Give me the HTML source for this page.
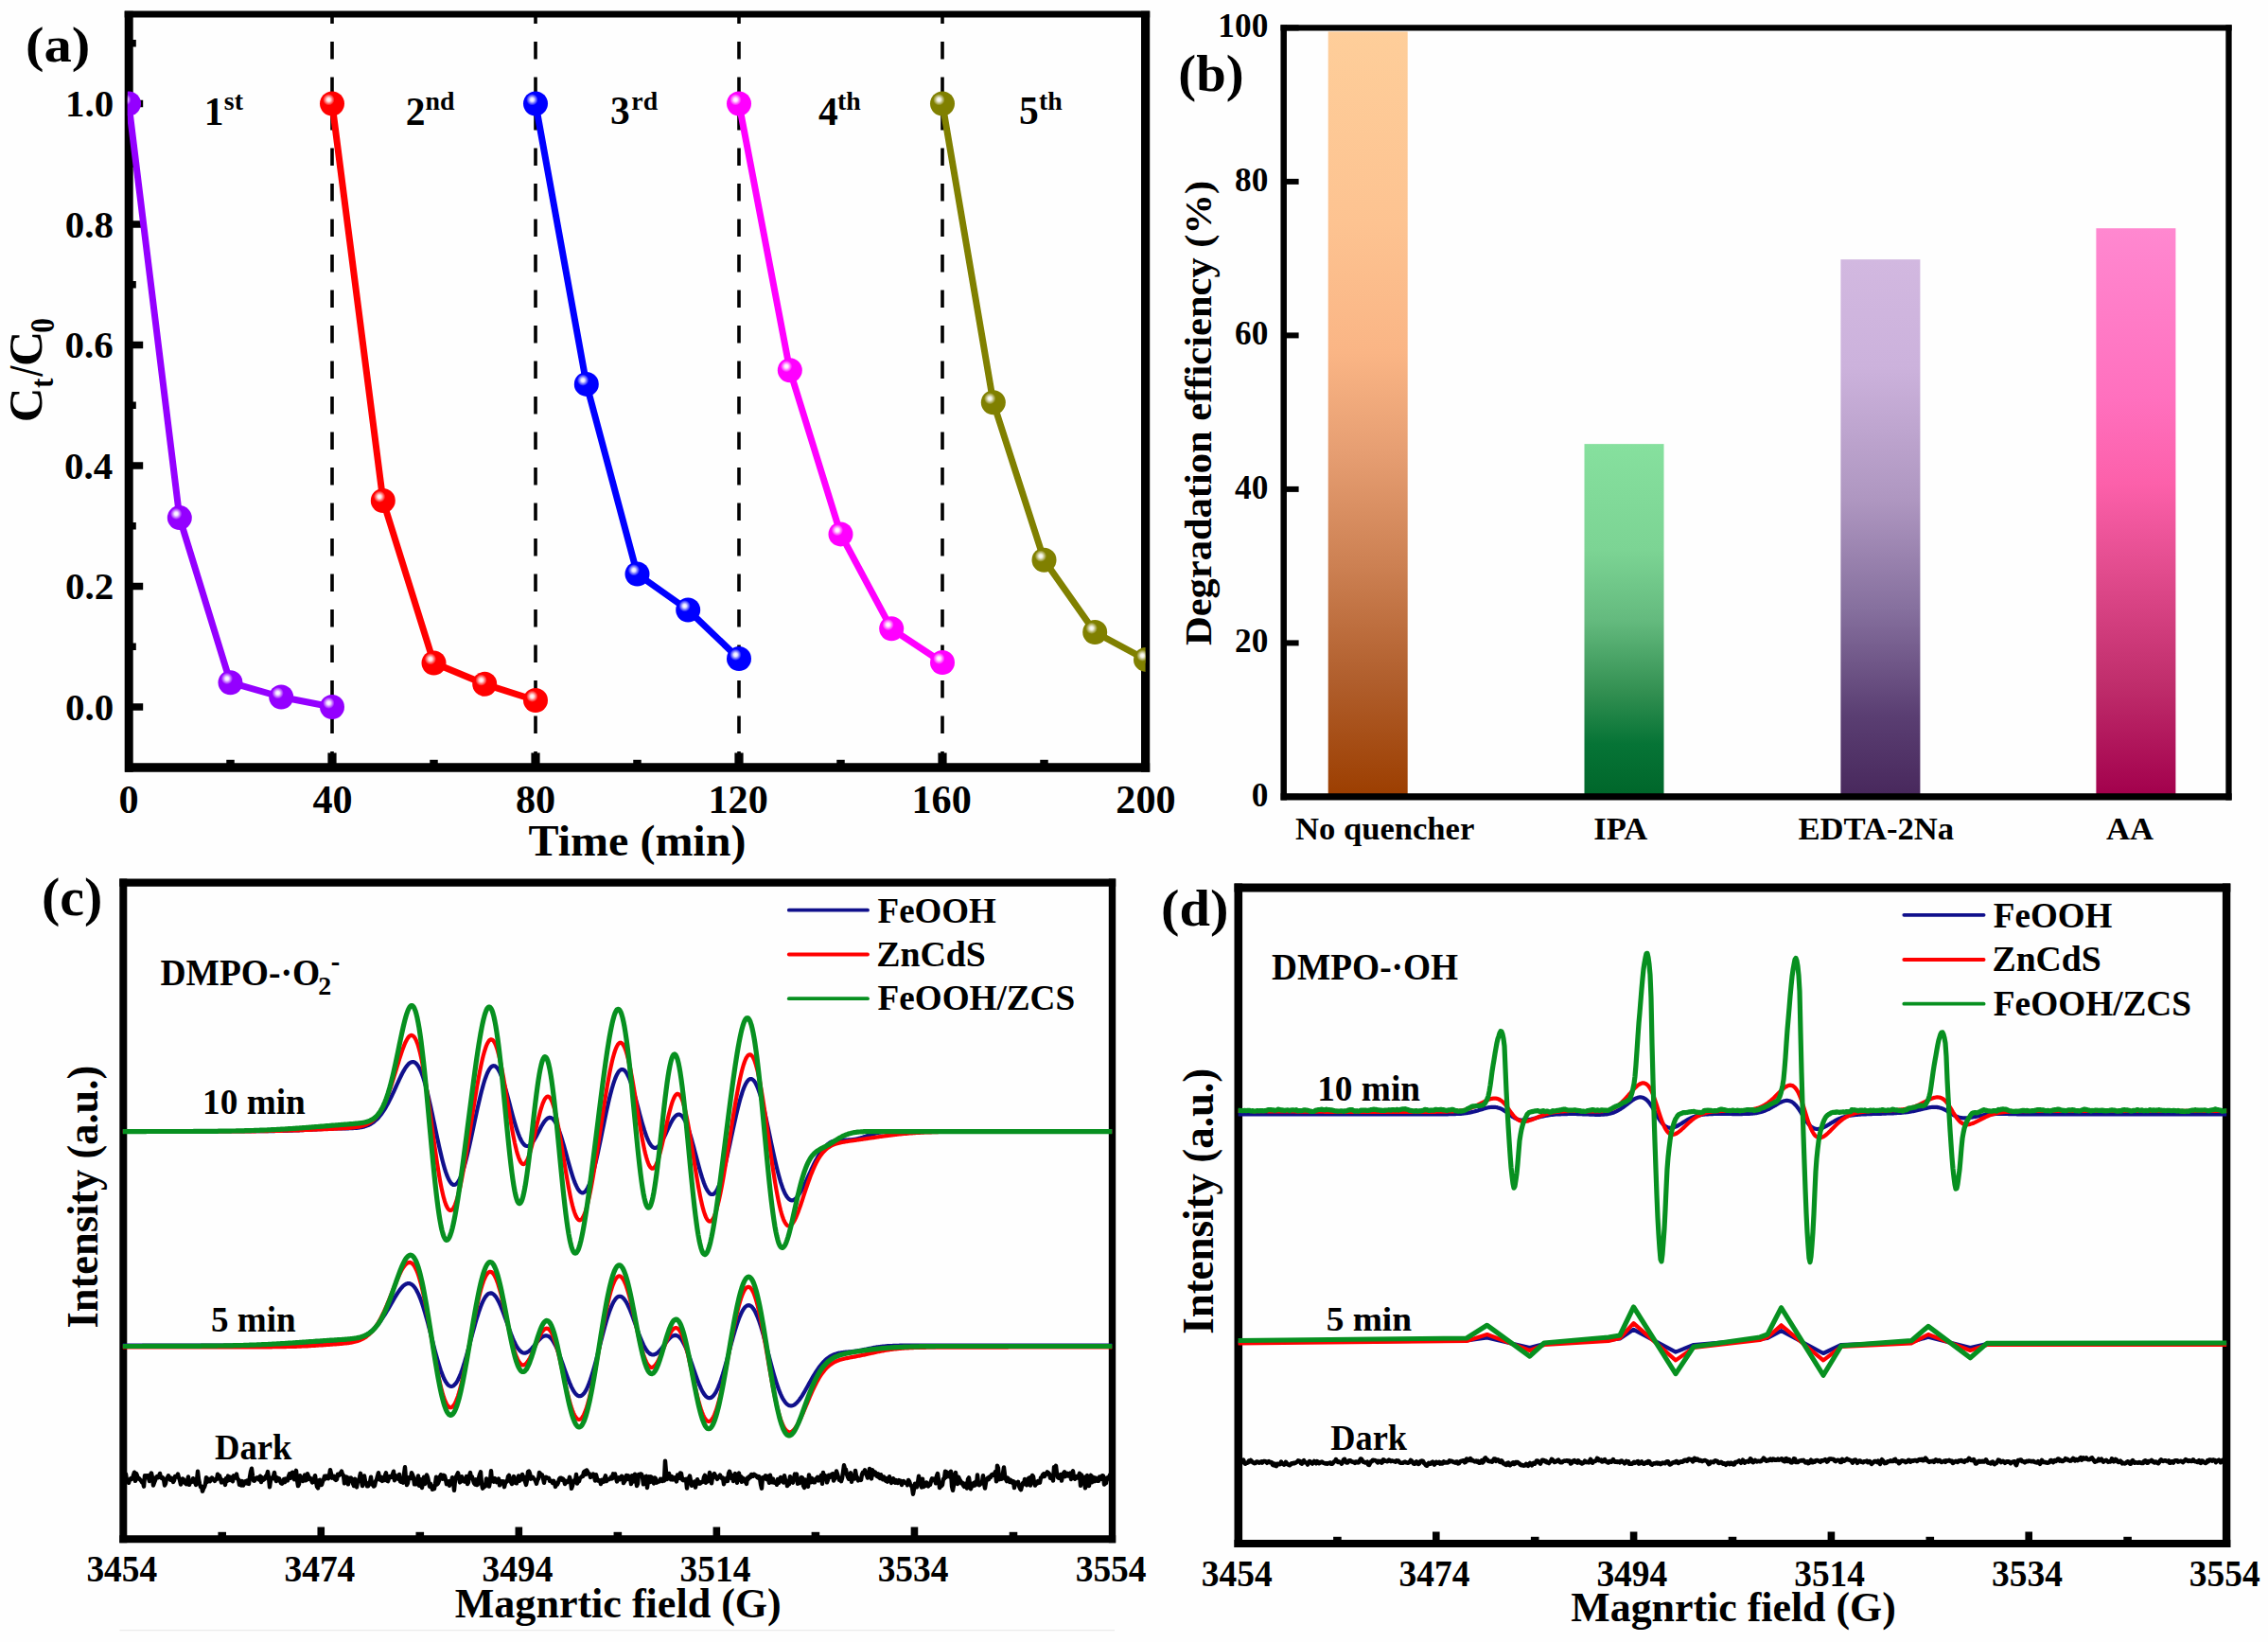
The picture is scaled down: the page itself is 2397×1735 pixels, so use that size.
<!DOCTYPE html>
<html><head><meta charset="utf-8"><title>Figure</title>
<style>html,body{margin:0;padding:0;background:#fff;} svg{display:block;} text{font-family:'Liberation Serif','Times New Roman',serif;font-weight:bold;fill:#000;}</style>
</head><body>
<svg width="2397" height="1735" viewBox="0 0 2397 1735">
<rect x="0" y="0" width="2397" height="1735" fill="#fefefe"/>
<line x1="351.00" y1="17.50" x2="351.00" y2="806.50" stroke="#000" stroke-width="3.6" stroke-dasharray="18.5 19" stroke-dashoffset="10.9"/>
<line x1="566.00" y1="17.50" x2="566.00" y2="806.50" stroke="#000" stroke-width="3.6" stroke-dasharray="18.5 19" stroke-dashoffset="10.9"/>
<line x1="781.00" y1="17.50" x2="781.00" y2="806.50" stroke="#000" stroke-width="3.6" stroke-dasharray="18.5 19" stroke-dashoffset="10.9"/>
<line x1="996.00" y1="17.50" x2="996.00" y2="806.50" stroke="#000" stroke-width="3.6" stroke-dasharray="18.5 19" stroke-dashoffset="10.9"/>
<line x1="136.20" y1="11.80" x2="136.20" y2="815.80" stroke="#000" stroke-width="9.0" />
<line x1="1210.60" y1="11.80" x2="1210.60" y2="815.80" stroke="#000" stroke-width="9.2" />
<line x1="131.70" y1="15.00" x2="1215.20" y2="15.00" stroke="#000" stroke-width="6.8" />
<line x1="132.10" y1="811.00" x2="1215.20" y2="811.00" stroke="#000" stroke-width="9.6" />
<line x1="140.00" y1="747.00" x2="151.20" y2="747.00" stroke="#000" stroke-width="7.5" />
<line x1="140.00" y1="683.25" x2="143.80" y2="683.25" stroke="#000" stroke-width="7.5" />
<line x1="140.00" y1="619.50" x2="151.20" y2="619.50" stroke="#000" stroke-width="7.5" />
<line x1="140.00" y1="555.75" x2="143.80" y2="555.75" stroke="#000" stroke-width="7.5" />
<line x1="140.00" y1="492.00" x2="151.20" y2="492.00" stroke="#000" stroke-width="7.5" />
<line x1="140.00" y1="428.25" x2="143.80" y2="428.25" stroke="#000" stroke-width="7.5" />
<line x1="140.00" y1="364.50" x2="151.20" y2="364.50" stroke="#000" stroke-width="7.5" />
<line x1="140.00" y1="300.75" x2="143.80" y2="300.75" stroke="#000" stroke-width="7.5" />
<line x1="140.00" y1="237.00" x2="151.20" y2="237.00" stroke="#000" stroke-width="7.5" />
<line x1="140.00" y1="173.25" x2="143.80" y2="173.25" stroke="#000" stroke-width="7.5" />
<line x1="140.00" y1="109.50" x2="151.20" y2="109.50" stroke="#000" stroke-width="7.5" />
<line x1="140.00" y1="45.75" x2="143.80" y2="45.75" stroke="#000" stroke-width="7.5" />
<line x1="243.50" y1="807.00" x2="243.50" y2="802.80" stroke="#000" stroke-width="8.5" />
<line x1="351.00" y1="807.00" x2="351.00" y2="795.50" stroke="#000" stroke-width="9.2" />
<line x1="458.50" y1="807.00" x2="458.50" y2="802.80" stroke="#000" stroke-width="8.5" />
<line x1="566.00" y1="807.00" x2="566.00" y2="795.50" stroke="#000" stroke-width="9.2" />
<line x1="673.50" y1="807.00" x2="673.50" y2="802.80" stroke="#000" stroke-width="8.5" />
<line x1="781.00" y1="807.00" x2="781.00" y2="795.50" stroke="#000" stroke-width="9.2" />
<line x1="888.50" y1="807.00" x2="888.50" y2="802.80" stroke="#000" stroke-width="8.5" />
<line x1="996.00" y1="807.00" x2="996.00" y2="795.50" stroke="#000" stroke-width="9.2" />
<line x1="1103.50" y1="807.00" x2="1103.50" y2="802.80" stroke="#000" stroke-width="8.5" />
<defs><clipPath id="clipa"><rect x="134.8" y="15" width="1075.8" height="796"/></clipPath><radialGradient id="hl" cx="0.5" cy="0.5" r="0.5"><stop offset="0" stop-color="#fff" stop-opacity="1"/><stop offset="0.3" stop-color="#fff" stop-opacity="0.9"/><stop offset="0.65" stop-color="#fff" stop-opacity="0.45"/><stop offset="1" stop-color="#fff" stop-opacity="0"/></radialGradient></defs>
<g clip-path="url(#clipa)">
<polyline points="136.0,109.5 189.8,547.1 243.5,721.2 297.2,736.5 351.0,747.0" fill="none" stroke="#9400FF" stroke-width="7.0" stroke-linejoin="round" stroke-linecap="round" />
<circle cx="136.0" cy="109.5" r="13.0" fill="#9400FF"/>
<circle cx="132.4" cy="105.3" r="6.2" fill="url(#hl)"/>
<circle cx="189.8" cy="547.1" r="13.0" fill="#9400FF"/>
<circle cx="186.2" cy="542.9" r="6.2" fill="url(#hl)"/>
<circle cx="243.5" cy="721.2" r="13.0" fill="#9400FF"/>
<circle cx="239.9" cy="717.0" r="6.2" fill="url(#hl)"/>
<circle cx="297.2" cy="736.5" r="13.0" fill="#9400FF"/>
<circle cx="293.6" cy="732.3" r="6.2" fill="url(#hl)"/>
<circle cx="351.0" cy="747.0" r="13.0" fill="#9400FF"/>
<circle cx="347.4" cy="742.8" r="6.2" fill="url(#hl)"/>
<polyline points="351.0,109.5 404.8,529.0 458.5,700.5 512.2,722.8 566.0,740.0" fill="none" stroke="#FF0000" stroke-width="7.0" stroke-linejoin="round" stroke-linecap="round" />
<circle cx="351.0" cy="109.5" r="13.0" fill="#FF0000"/>
<circle cx="347.4" cy="105.3" r="6.2" fill="url(#hl)"/>
<circle cx="404.8" cy="529.0" r="13.0" fill="#FF0000"/>
<circle cx="401.1" cy="524.8" r="6.2" fill="url(#hl)"/>
<circle cx="458.5" cy="700.5" r="13.0" fill="#FF0000"/>
<circle cx="454.9" cy="696.3" r="6.2" fill="url(#hl)"/>
<circle cx="512.2" cy="722.8" r="13.0" fill="#FF0000"/>
<circle cx="508.6" cy="718.6" r="6.2" fill="url(#hl)"/>
<circle cx="566.0" cy="740.0" r="13.0" fill="#FF0000"/>
<circle cx="562.4" cy="735.8" r="6.2" fill="url(#hl)"/>
<polyline points="566.0,109.5 619.8,405.9 673.5,606.5 727.2,644.5 781.0,696.0" fill="none" stroke="#0000FF" stroke-width="7.0" stroke-linejoin="round" stroke-linecap="round" />
<circle cx="566.0" cy="109.5" r="13.0" fill="#0000FF"/>
<circle cx="562.4" cy="105.3" r="6.2" fill="url(#hl)"/>
<circle cx="619.8" cy="405.9" r="13.0" fill="#0000FF"/>
<circle cx="616.1" cy="401.7" r="6.2" fill="url(#hl)"/>
<circle cx="673.5" cy="606.5" r="13.0" fill="#0000FF"/>
<circle cx="669.9" cy="602.3" r="6.2" fill="url(#hl)"/>
<circle cx="727.2" cy="644.5" r="13.0" fill="#0000FF"/>
<circle cx="723.6" cy="640.3" r="6.2" fill="url(#hl)"/>
<circle cx="781.0" cy="696.0" r="13.0" fill="#0000FF"/>
<circle cx="777.4" cy="691.8" r="6.2" fill="url(#hl)"/>
<polyline points="781.0,109.5 834.8,391.3 888.5,564.4 942.2,664.3 996.0,700.0" fill="none" stroke="#FF00FF" stroke-width="7.0" stroke-linejoin="round" stroke-linecap="round" />
<circle cx="781.0" cy="109.5" r="13.0" fill="#FF00FF"/>
<circle cx="777.4" cy="105.3" r="6.2" fill="url(#hl)"/>
<circle cx="834.8" cy="391.3" r="13.0" fill="#FF00FF"/>
<circle cx="831.1" cy="387.1" r="6.2" fill="url(#hl)"/>
<circle cx="888.5" cy="564.4" r="13.0" fill="#FF00FF"/>
<circle cx="884.9" cy="560.2" r="6.2" fill="url(#hl)"/>
<circle cx="942.2" cy="664.3" r="13.0" fill="#FF00FF"/>
<circle cx="938.6" cy="660.1" r="6.2" fill="url(#hl)"/>
<circle cx="996.0" cy="700.0" r="13.0" fill="#FF00FF"/>
<circle cx="992.4" cy="695.8" r="6.2" fill="url(#hl)"/>
<polyline points="996.0,109.5 1049.8,425.3 1103.5,591.8 1157.2,668.0 1211.0,696.9" fill="none" stroke="#808000" stroke-width="7.0" stroke-linejoin="round" stroke-linecap="round" />
<circle cx="996.0" cy="109.5" r="13.0" fill="#808000"/>
<circle cx="992.4" cy="105.3" r="6.2" fill="url(#hl)"/>
<circle cx="1049.8" cy="425.3" r="13.0" fill="#808000"/>
<circle cx="1046.2" cy="421.1" r="6.2" fill="url(#hl)"/>
<circle cx="1103.5" cy="591.8" r="13.0" fill="#808000"/>
<circle cx="1099.9" cy="587.6" r="6.2" fill="url(#hl)"/>
<circle cx="1157.2" cy="668.0" r="13.0" fill="#808000"/>
<circle cx="1153.7" cy="663.8" r="6.2" fill="url(#hl)"/>
<circle cx="1211.0" cy="696.9" r="13.0" fill="#808000"/>
<circle cx="1207.4" cy="692.7" r="6.2" fill="url(#hl)"/>
</g>
<text x="68.89" y="760.62" font-size="41.00" textLength="51.25" lengthAdjust="spacingAndGlyphs" >0.0</text>
<text x="69.09" y="633.12" font-size="41.00" textLength="51.25" lengthAdjust="spacingAndGlyphs" >0.2</text>
<text x="68.07" y="505.62" font-size="41.00" textLength="51.25" lengthAdjust="spacingAndGlyphs" >0.4</text>
<text x="68.48" y="378.12" font-size="41.00" textLength="51.25" lengthAdjust="spacingAndGlyphs" >0.6</text>
<text x="68.68" y="250.62" font-size="41.00" textLength="51.25" lengthAdjust="spacingAndGlyphs" >0.8</text>
<text x="68.89" y="123.13" font-size="41.00" textLength="51.25" lengthAdjust="spacingAndGlyphs" >1.0</text>
<text x="125.45" y="859.26" font-size="42.20" textLength="21.10" lengthAdjust="spacingAndGlyphs" >0</text>
<text x="330.43" y="859.26" font-size="42.20" textLength="42.20" lengthAdjust="spacingAndGlyphs" >40</text>
<text x="545.01" y="859.26" font-size="42.20" textLength="42.20" lengthAdjust="spacingAndGlyphs" >80</text>
<text x="748.51" y="859.26" font-size="42.20" textLength="63.30" lengthAdjust="spacingAndGlyphs" >120</text>
<text x="963.51" y="859.26" font-size="42.20" textLength="63.30" lengthAdjust="spacingAndGlyphs" >160</text>
<text x="1179.35" y="859.26" font-size="42.20" textLength="63.30" lengthAdjust="spacingAndGlyphs" >200</text>
<text x="558.58" y="903.54" font-size="47.25" textLength="229.83" lengthAdjust="spacingAndGlyphs" >Time (min)</text>
<text x="26.96" y="64.66" font-size="52.75" textLength="68.45" lengthAdjust="spacingAndGlyphs" >(a)</text>
<text transform="translate(43.89 446.14) rotate(-90)" x="0" y="0" font-size="50.75" textLength="36.66" lengthAdjust="spacingAndGlyphs">C</text>
<text transform="translate(56.16 410.07) rotate(-90)" x="0" y="0" font-size="34.43" textLength="10.47" lengthAdjust="spacingAndGlyphs">t</text>
<text transform="translate(43.90 397.61) rotate(-90)" x="0" y="0" font-size="49.85" textLength="10.83" lengthAdjust="spacingAndGlyphs">/</text>
<text transform="translate(43.89 386.98) rotate(-90)" x="0" y="0" font-size="50.75" textLength="37.26" lengthAdjust="spacingAndGlyphs">C</text>
<text transform="translate(57.15 351.65) rotate(-90)" x="0" y="0" font-size="34.81" textLength="15.60" lengthAdjust="spacingAndGlyphs">0</text>
<text x="215.68" y="131.60" font-size="41.50" textLength="20.75" lengthAdjust="spacingAndGlyphs" >1</text>
<text x="236.87" y="115.62" font-size="27.80" textLength="20.08" lengthAdjust="spacingAndGlyphs" >st</text>
<text x="428.74" y="131.60" font-size="41.50" textLength="20.75" lengthAdjust="spacingAndGlyphs" >2</text>
<text x="449.61" y="115.62" font-size="27.80" textLength="30.92" lengthAdjust="spacingAndGlyphs" >nd</text>
<text x="645.04" y="131.19" font-size="41.50" textLength="20.75" lengthAdjust="spacingAndGlyphs" >3</text>
<text x="667.30" y="115.62" font-size="27.80" textLength="27.80" lengthAdjust="spacingAndGlyphs" >rd</text>
<text x="865.08" y="131.60" font-size="41.50" textLength="20.75" lengthAdjust="spacingAndGlyphs" >4</text>
<text x="885.08" y="115.62" font-size="27.80" textLength="24.72" lengthAdjust="spacingAndGlyphs" >th</text>
<text x="1077.04" y="131.19" font-size="41.50" textLength="20.75" lengthAdjust="spacingAndGlyphs" >5</text>
<text x="1098.08" y="115.62" font-size="27.80" textLength="24.72" lengthAdjust="spacingAndGlyphs" >th</text>
<defs><linearGradient id="bg0" x1="0" y1="0" x2="0" y2="1"><stop offset="0" stop-color="#FECE9A"/><stop offset="0.25" stop-color="#FDC391"/><stop offset="0.42" stop-color="#FAB585"/><stop offset="0.55" stop-color="#E69E72"/><stop offset="0.7" stop-color="#CC8052"/><stop offset="0.85" stop-color="#B05E2C"/><stop offset="1" stop-color="#9C3E00"/></linearGradient><linearGradient id="bg1" x1="0" y1="0" x2="0" y2="1"><stop offset="0" stop-color="#86E09E"/><stop offset="0.3" stop-color="#7CD494"/><stop offset="0.5" stop-color="#64BA7E"/><stop offset="0.7" stop-color="#339052"/><stop offset="0.85" stop-color="#067436"/><stop offset="1" stop-color="#00662A"/></linearGradient><linearGradient id="bg2" x1="0" y1="0" x2="0" y2="1"><stop offset="0" stop-color="#D2B8E0"/><stop offset="0.2" stop-color="#CCB2DC"/><stop offset="0.45" stop-color="#AE96C0"/><stop offset="0.65" stop-color="#86709E"/><stop offset="0.85" stop-color="#5A3E72"/><stop offset="1" stop-color="#48285C"/></linearGradient><linearGradient id="bg3" x1="0" y1="0" x2="0" y2="1"><stop offset="0" stop-color="#FF88D0"/><stop offset="0.3" stop-color="#FF70BE"/><stop offset="0.45" stop-color="#FC60AA"/><stop offset="0.6" stop-color="#E24C8E"/><stop offset="0.8" stop-color="#C02E6C"/><stop offset="1" stop-color="#A2004C"/></linearGradient></defs>
<rect x="1403.70" y="33.46" width="84.00" height="808.44" fill="url(#bg0)"/>
<text x="1368.97" y="887.00" font-size="34.60" textLength="189.34" lengthAdjust="spacingAndGlyphs" >No quencher</text>
<rect x="1674.50" y="469.12" width="84.00" height="372.78" fill="url(#bg1)"/>
<text x="1684.22" y="887.00" font-size="34.60" textLength="57.02" lengthAdjust="spacingAndGlyphs" >IPA</text>
<rect x="1945.40" y="274.12" width="84.00" height="567.77" fill="url(#bg2)"/>
<text x="1900.40" y="887.00" font-size="34.60" textLength="164.68" lengthAdjust="spacingAndGlyphs" >EDTA-2Na</text>
<rect x="2215.40" y="241.22" width="84.00" height="600.68" fill="url(#bg3)"/>
<text x="2226.00" y="887.00" font-size="34.60" textLength="49.98" lengthAdjust="spacingAndGlyphs" >AA</text>
<line x1="1356.70" y1="26.20" x2="1356.70" y2="845.60" stroke="#000" stroke-width="6.5" />
<line x1="2355.50" y1="26.20" x2="2355.50" y2="845.60" stroke="#000" stroke-width="6.3" />
<line x1="1353.50" y1="29.40" x2="2358.60" y2="29.40" stroke="#000" stroke-width="6.4" />
<line x1="1353.60" y1="841.90" x2="2358.60" y2="841.90" stroke="#000" stroke-width="7.2" />
<line x1="1359.00" y1="841.90" x2="1372.60" y2="841.90" stroke="#000" stroke-width="6.0" />
<text x="1322.66" y="851.96" font-size="35.30" textLength="17.65" lengthAdjust="spacingAndGlyphs" >0</text>
<line x1="1359.00" y1="679.40" x2="1372.60" y2="679.40" stroke="#000" stroke-width="6.0" />
<text x="1305.01" y="689.46" font-size="35.30" textLength="35.30" lengthAdjust="spacingAndGlyphs" >20</text>
<line x1="1359.00" y1="516.90" x2="1372.60" y2="516.90" stroke="#000" stroke-width="6.0" />
<text x="1305.01" y="526.96" font-size="35.30" textLength="35.30" lengthAdjust="spacingAndGlyphs" >40</text>
<line x1="1359.00" y1="354.40" x2="1372.60" y2="354.40" stroke="#000" stroke-width="6.0" />
<text x="1305.01" y="364.46" font-size="35.30" textLength="35.30" lengthAdjust="spacingAndGlyphs" >60</text>
<line x1="1359.00" y1="191.90" x2="1372.60" y2="191.90" stroke="#000" stroke-width="6.0" />
<text x="1305.01" y="201.96" font-size="35.30" textLength="35.30" lengthAdjust="spacingAndGlyphs" >80</text>
<line x1="1359.00" y1="29.40" x2="1372.60" y2="29.40" stroke="#000" stroke-width="6.0" />
<text x="1287.36" y="39.46" font-size="35.30" textLength="52.95" lengthAdjust="spacingAndGlyphs" >100</text>
<text transform="translate(1279.84 682.05) rotate(-90)" x="0" y="0" font-size="39.35" textLength="491.25" lengthAdjust="spacingAndGlyphs">Degradation efficiency (%)</text>
<text x="1245.25" y="96.42" font-size="53.85" textLength="69.35" lengthAdjust="spacingAndGlyphs" >(b)</text>
<defs><clipPath id="clipc"><rect x="129.8" y="933" width="1045.5" height="693"/></clipPath><clipPath id="clipd"><rect x="1308.6" y="938" width="1044.6" height="693"/></clipPath></defs>
<line x1="130.30" y1="928.60" x2="130.30" y2="1630.20" stroke="#000" stroke-width="8.0" />
<line x1="1175.50" y1="928.60" x2="1175.50" y2="1630.20" stroke="#000" stroke-width="7.4" />
<line x1="126.30" y1="932.70" x2="1179.20" y2="932.70" stroke="#000" stroke-width="8.2" />
<line x1="126.30" y1="1626.20" x2="1179.20" y2="1626.20" stroke="#000" stroke-width="8.0" />
<g clip-path="url(#clipc)">
<polyline points="129.0,1195.2 130.0,1195.2 131.0,1195.2 132.0,1195.2 133.0,1195.2 134.0,1195.2 135.0,1195.2 136.0,1195.2 137.0,1195.2 138.0,1195.2 139.0,1195.2 140.0,1195.2 141.0,1195.2 142.0,1195.2 143.0,1195.2 144.0,1195.2 145.0,1195.2 146.0,1195.2 147.0,1195.2 148.0,1195.2 149.0,1195.2 150.0,1195.2 151.0,1195.2 152.0,1195.2 153.0,1195.2 154.0,1195.2 155.0,1195.2 156.0,1195.2 157.0,1195.2 158.0,1195.2 159.0,1195.2 160.0,1195.2 161.0,1195.2 162.0,1195.2 163.0,1195.2 164.0,1195.2 165.0,1195.2 166.0,1195.2 167.0,1195.2 168.0,1195.2 169.0,1195.2 170.0,1195.2 171.0,1195.2 172.0,1195.2 173.0,1195.2 174.0,1195.2 175.0,1195.2 176.0,1195.2 177.0,1195.2 178.0,1195.2 179.0,1195.2 180.0,1195.2 181.0,1195.2 182.0,1195.2 183.0,1195.2 184.0,1195.2 185.0,1195.2 186.0,1195.2 187.0,1195.2 188.0,1195.2 189.0,1195.2 190.0,1195.2 191.0,1195.2 192.0,1195.2 193.0,1195.2 194.0,1195.2 195.0,1195.2 196.0,1195.2 197.0,1195.2 198.0,1195.2 199.0,1195.2 200.0,1195.2 201.0,1195.2 202.0,1195.2 203.0,1195.2 204.0,1195.2 205.0,1195.2 206.0,1195.2 207.0,1195.2 208.0,1195.2 209.0,1195.2 210.0,1195.2 211.0,1195.2 212.0,1195.2 213.0,1195.2 214.0,1195.2 215.0,1195.2 216.0,1195.2 217.0,1195.2 218.0,1195.2 219.0,1195.2 220.0,1195.2 221.0,1195.2 222.0,1195.2 223.0,1195.2 224.0,1195.2 225.0,1195.2 226.0,1195.2 227.0,1195.2 228.0,1195.2 229.0,1195.2 230.0,1195.2 231.0,1195.2 232.0,1195.2 233.0,1195.2 234.0,1195.2 235.0,1195.2 236.0,1195.2 237.0,1195.2 238.0,1195.2 239.0,1195.2 240.0,1195.2 241.0,1195.2 242.0,1195.2 243.0,1195.2 244.0,1195.2 245.0,1195.2 246.0,1195.2 247.0,1195.2 248.0,1195.2 249.0,1195.2 250.0,1195.2 251.0,1195.2 252.0,1195.2 253.0,1195.2 254.0,1195.2 255.0,1195.2 256.0,1195.2 257.0,1195.2 258.0,1195.2 259.0,1195.2 260.0,1195.2 261.0,1195.2 262.0,1195.2 263.0,1195.2 264.0,1195.2 265.0,1195.2 266.0,1195.2 267.0,1195.2 268.0,1195.2 269.0,1195.2 270.0,1195.2 271.0,1195.2 272.0,1195.2 273.0,1195.2 274.0,1195.2 275.0,1195.2 276.0,1195.2 277.0,1195.2 278.0,1195.2 279.0,1195.2 280.0,1195.2 281.0,1195.1 282.0,1195.1 283.0,1195.1 284.0,1195.1 285.0,1195.1 286.0,1195.1 287.0,1195.1 288.0,1195.1 289.0,1195.1 290.0,1195.1 291.0,1195.0 292.0,1195.0 293.0,1195.0 294.0,1195.0 295.0,1195.0 296.0,1195.0 297.0,1194.9 298.0,1194.9 299.0,1194.9 300.0,1194.9 301.0,1194.8 302.0,1194.8 303.0,1194.8 304.0,1194.8 305.0,1194.7 306.0,1194.7 307.0,1194.7 308.0,1194.6 309.0,1194.6 310.0,1194.5 311.0,1194.5 312.0,1194.5 313.0,1194.4 314.0,1194.4 315.0,1194.3 316.0,1194.3 317.0,1194.2 318.0,1194.2 319.0,1194.1 320.0,1194.1 321.0,1194.0 322.0,1194.0 323.0,1193.9 324.0,1193.9 325.0,1193.8 326.0,1193.8 327.0,1193.7 328.0,1193.7 329.0,1193.6 330.0,1193.6 331.0,1193.5 332.0,1193.4 333.0,1193.4 334.0,1193.3 335.0,1193.3 336.0,1193.2 337.0,1193.2 338.0,1193.1 339.0,1193.1 340.0,1193.0 341.0,1193.0 342.0,1192.9 343.0,1192.9 344.0,1192.8 345.0,1192.8 346.0,1192.7 347.0,1192.7 348.0,1192.7 349.0,1192.6 350.0,1192.6 351.0,1192.6 352.0,1192.5 353.0,1192.5 354.0,1192.5 355.0,1192.5 356.0,1192.5 357.0,1192.4 358.0,1192.4 359.0,1192.4 360.0,1192.4 361.0,1192.4 362.0,1192.4 363.0,1192.3 364.0,1192.3 365.0,1192.3 366.0,1192.3 367.0,1192.3 368.0,1192.3 369.0,1192.2 370.0,1192.2 371.0,1192.2 372.0,1192.1 373.0,1192.1 374.0,1192.0 375.0,1192.0 376.0,1191.9 377.0,1191.8 378.0,1191.7 379.0,1191.6 380.0,1191.5 381.0,1191.3 382.0,1191.1 383.0,1190.9 384.0,1190.7 385.0,1190.4 386.0,1190.1 387.0,1189.8 388.0,1189.4 389.0,1189.0 390.0,1188.5 391.0,1188.0 392.0,1187.5 393.0,1186.9 394.0,1186.2 395.0,1185.5 396.0,1184.7 397.0,1183.8 398.0,1182.9 399.0,1181.9 400.0,1180.9 401.0,1179.7 402.0,1178.5 403.0,1177.2 404.0,1175.8 405.0,1174.4 406.0,1172.9 407.0,1171.3 408.0,1169.6 409.0,1167.8 410.0,1166.0 411.0,1164.1 412.0,1162.1 413.0,1160.1 414.0,1158.0 415.0,1155.9 416.0,1153.8 417.0,1151.6 418.0,1149.4 419.0,1147.2 420.0,1145.0 421.0,1142.8 422.0,1140.7 423.0,1138.6 424.0,1136.5 425.0,1134.5 426.0,1132.6 427.0,1130.9 428.0,1129.2 429.0,1127.7 430.0,1126.3 431.0,1125.1 432.0,1124.0 433.0,1123.2 434.0,1122.6 435.0,1122.2 436.0,1122.0 437.0,1122.1 438.0,1122.4 439.0,1123.0 440.0,1123.9 441.0,1125.1 442.0,1126.5 443.0,1128.2 444.0,1130.2 445.0,1132.5 446.0,1135.0 447.0,1137.9 448.0,1140.9 449.0,1144.3 450.0,1147.8 451.0,1151.6 452.0,1155.6 453.0,1159.7 454.0,1164.1 455.0,1168.5 456.0,1173.1 457.0,1177.8 458.0,1182.6 459.0,1187.3 460.0,1192.1 461.0,1196.9 462.0,1201.7 463.0,1206.3 464.0,1210.9 465.0,1215.3 466.0,1219.6 467.0,1223.8 468.0,1227.7 469.0,1231.4 470.0,1234.8 471.0,1238.0 472.0,1240.9 473.0,1243.4 474.0,1245.7 475.0,1247.6 476.0,1249.2 477.0,1250.5 478.0,1251.3 479.0,1251.9 480.0,1252.0 481.0,1251.8 482.0,1251.2 483.0,1250.3 484.0,1249.1 485.0,1247.4 486.0,1245.5 487.0,1243.2 488.0,1240.7 489.0,1237.8 490.0,1234.7 491.0,1231.3 492.0,1227.6 493.0,1223.8 494.0,1219.8 495.0,1215.6 496.0,1211.2 497.0,1206.7 498.0,1202.2 499.0,1197.5 500.0,1192.8 501.0,1188.1 502.0,1183.4 503.0,1178.8 504.0,1174.1 505.0,1169.6 506.0,1165.2 507.0,1160.9 508.0,1156.8 509.0,1152.8 510.0,1149.1 511.0,1145.5 512.0,1142.2 513.0,1139.2 514.0,1136.5 515.0,1134.0 516.0,1131.9 517.0,1130.1 518.0,1128.6 519.0,1127.5 520.0,1126.7 521.0,1126.3 522.0,1126.2 523.0,1126.4 524.0,1127.0 525.0,1128.0 526.0,1129.2 527.0,1130.8 528.0,1132.7 529.0,1134.9 530.0,1137.4 531.0,1140.1 532.0,1143.1 533.0,1146.2 534.0,1149.6 535.0,1153.0 536.0,1156.6 537.0,1160.3 538.0,1164.1 539.0,1167.9 540.0,1171.7 541.0,1175.5 542.0,1179.2 543.0,1182.8 544.0,1186.3 545.0,1189.6 546.0,1192.8 547.0,1195.8 548.0,1198.5 549.0,1201.0 550.0,1203.3 551.0,1205.3 552.0,1207.0 553.0,1208.4 554.0,1209.5 555.0,1210.3 556.0,1210.8 557.0,1211.0 558.0,1211.0 559.0,1210.6 560.0,1210.0 561.0,1209.2 562.0,1208.1 563.0,1206.8 564.0,1205.3 565.0,1203.7 566.0,1202.0 567.0,1200.2 568.0,1198.3 569.0,1196.3 570.0,1194.4 571.0,1192.5 572.0,1190.6 573.0,1188.8 574.0,1187.2 575.0,1185.6 576.0,1184.3 577.0,1183.2 578.0,1182.2 579.0,1181.5 580.0,1181.1 581.0,1180.9 582.0,1181.0 583.0,1181.4 584.0,1182.1 585.0,1183.1 586.0,1184.4 587.0,1186.0 588.0,1187.8 589.0,1189.9 590.0,1192.3 591.0,1194.9 592.0,1197.7 593.0,1200.7 594.0,1203.9 595.0,1207.3 596.0,1210.7 597.0,1214.3 598.0,1217.9 599.0,1221.5 600.0,1225.2 601.0,1228.8 602.0,1232.3 603.0,1235.8 604.0,1239.1 605.0,1242.3 606.0,1245.3 607.0,1248.1 608.0,1250.6 609.0,1252.9 610.0,1254.9 611.0,1256.7 612.0,1258.1 613.0,1259.2 614.0,1259.9 615.0,1260.3 616.0,1260.4 617.0,1260.1 618.0,1259.4 619.0,1258.4 620.0,1257.0 621.0,1255.3 622.0,1253.3 623.0,1250.9 624.0,1248.2 625.0,1245.2 626.0,1241.9 627.0,1238.4 628.0,1234.6 629.0,1230.6 630.0,1226.4 631.0,1222.0 632.0,1217.5 633.0,1212.8 634.0,1208.0 635.0,1203.2 636.0,1198.3 637.0,1193.4 638.0,1188.5 639.0,1183.6 640.0,1178.8 641.0,1174.1 642.0,1169.6 643.0,1165.1 644.0,1160.8 645.0,1156.8 646.0,1152.9 647.0,1149.3 648.0,1146.0 649.0,1142.9 650.0,1140.1 651.0,1137.6 652.0,1135.5 653.0,1133.7 654.0,1132.2 655.0,1131.1 656.0,1130.4 657.0,1130.0 658.0,1130.0 659.0,1130.4 660.0,1131.0 661.0,1132.1 662.0,1133.5 663.0,1135.2 664.0,1137.2 665.0,1139.5 666.0,1142.0 667.0,1144.8 668.0,1147.9 669.0,1151.1 670.0,1154.5 671.0,1158.0 672.0,1161.6 673.0,1165.4 674.0,1169.1 675.0,1172.9 676.0,1176.7 677.0,1180.4 678.0,1184.0 679.0,1187.5 680.0,1190.9 681.0,1194.2 682.0,1197.2 683.0,1200.0 684.0,1202.6 685.0,1204.9 686.0,1206.9 687.0,1208.7 688.0,1210.2 689.0,1211.3 690.0,1212.2 691.0,1212.7 692.0,1213.0 693.0,1212.9 694.0,1212.6 695.0,1211.9 696.0,1211.0 697.0,1209.9 698.0,1208.5 699.0,1207.0 700.0,1205.2 701.0,1203.4 702.0,1201.4 703.0,1199.3 704.0,1197.1 705.0,1194.9 706.0,1192.7 707.0,1190.6 708.0,1188.5 709.0,1186.6 710.0,1184.7 711.0,1183.0 712.0,1181.5 713.0,1180.2 714.0,1179.2 715.0,1178.4 716.0,1177.8 717.0,1177.6 718.0,1177.6 719.0,1177.9 720.0,1178.6 721.0,1179.5 722.0,1180.8 723.0,1182.4 724.0,1184.2 725.0,1186.4 726.0,1188.8 727.0,1191.4 728.0,1194.3 729.0,1197.4 730.0,1200.7 731.0,1204.2 732.0,1207.8 733.0,1211.4 734.0,1215.2 735.0,1219.0 736.0,1222.8 737.0,1226.6 738.0,1230.3 739.0,1234.0 740.0,1237.5 741.0,1240.9 742.0,1244.2 743.0,1247.2 744.0,1250.0 745.0,1252.6 746.0,1254.9 747.0,1256.9 748.0,1258.5 749.0,1259.9 750.0,1261.0 751.0,1261.7 752.0,1262.0 753.0,1262.0 754.0,1261.7 755.0,1261.0 756.0,1260.0 757.0,1258.6 758.0,1256.8 759.0,1254.8 760.0,1252.4 761.0,1249.7 762.0,1246.8 763.0,1243.6 764.0,1240.1 765.0,1236.4 766.0,1232.5 767.0,1228.4 768.0,1224.1 769.0,1219.8 770.0,1215.3 771.0,1210.7 772.0,1206.1 773.0,1201.4 774.0,1196.7 775.0,1192.1 776.0,1187.5 777.0,1183.0 778.0,1178.6 779.0,1174.3 780.0,1170.2 781.0,1166.3 782.0,1162.5 783.0,1159.0 784.0,1155.8 785.0,1152.7 786.0,1150.0 787.0,1147.6 788.0,1145.5 789.0,1143.7 790.0,1142.3 791.0,1141.2 792.0,1140.4 793.0,1140.0 794.0,1140.0 795.0,1140.4 796.0,1141.1 797.0,1142.2 798.0,1143.6 799.0,1145.4 800.0,1147.5 801.0,1149.9 802.0,1152.7 803.0,1155.7 804.0,1159.0 805.0,1162.6 806.0,1166.4 807.0,1170.4 808.0,1174.6 809.0,1179.0 810.0,1183.5 811.0,1188.1 812.0,1192.8 813.0,1197.5 814.0,1202.3 815.0,1207.1 816.0,1211.8 817.0,1216.5 818.0,1221.0 819.0,1225.5 820.0,1229.8 821.0,1234.0 822.0,1238.0 823.0,1241.8 824.0,1245.4 825.0,1248.8 826.0,1251.9 827.0,1254.8 828.0,1257.4 829.0,1259.7 830.0,1261.7 831.0,1263.5 832.0,1265.0 833.0,1266.2 834.0,1267.1 835.0,1267.8 836.0,1268.2 837.0,1268.3 838.0,1268.2 839.0,1267.8 840.0,1267.2 841.0,1266.4 842.0,1265.4 843.0,1264.2 844.0,1262.9 845.0,1261.4 846.0,1259.7 847.0,1257.9 848.0,1256.1 849.0,1254.1 850.0,1252.1 851.0,1249.9 852.0,1247.8 853.0,1245.6 854.0,1243.4 855.0,1241.2 856.0,1239.0 857.0,1236.9 858.0,1234.7 859.0,1232.6 860.0,1230.5 861.0,1228.5 862.0,1226.6 863.0,1224.7 864.0,1222.9 865.0,1221.2 866.0,1219.6 867.0,1218.0 868.0,1216.6 869.0,1215.2 870.0,1214.0 871.0,1212.8 872.0,1211.7 873.0,1210.7 874.0,1209.8 875.0,1208.9 876.0,1208.2 877.0,1207.5 878.0,1207.0 879.0,1206.5 880.0,1206.0 881.0,1205.7 882.0,1205.4 883.0,1205.1 884.0,1204.9 885.0,1204.7 886.0,1204.6 887.0,1204.5 888.0,1204.5 889.0,1204.5 890.0,1204.4 891.0,1204.4 892.0,1204.5 893.0,1204.5 894.0,1204.5 895.0,1204.5 896.0,1204.5 897.0,1204.4 898.0,1204.4 899.0,1204.4 900.0,1204.3 901.0,1204.2 902.0,1204.1 903.0,1203.9 904.0,1203.7 905.0,1203.5 906.0,1203.3 907.0,1203.1 908.0,1202.8 909.0,1202.6 910.0,1202.3 911.0,1202.0 912.0,1201.7 913.0,1201.3 914.0,1201.0 915.0,1200.7 916.0,1200.3 917.0,1200.0 918.0,1199.7 919.0,1199.4 920.0,1199.1 921.0,1198.8 922.0,1198.5 923.0,1198.2 924.0,1197.9 925.0,1197.7 926.0,1197.4 927.0,1197.2 928.0,1197.0 929.0,1196.8 930.0,1196.6 931.0,1196.5 932.0,1196.3 933.0,1196.2 934.0,1196.1 935.0,1196.0 936.0,1195.9 937.0,1195.8 938.0,1195.7 939.0,1195.6 940.0,1195.6 941.0,1195.5 942.0,1195.5 943.0,1195.4 944.0,1195.4 945.0,1195.4 946.0,1195.4 947.0,1195.3 948.0,1195.3 949.0,1195.3 950.0,1195.3 951.0,1195.3 952.0,1195.3 953.0,1195.3 954.0,1195.3 955.0,1195.3 956.0,1195.3 957.0,1195.2 958.0,1195.2 959.0,1195.2 960.0,1195.2 961.0,1195.2 962.0,1195.2 963.0,1195.2 964.0,1195.2 965.0,1195.2 966.0,1195.2 967.0,1195.2 968.0,1195.2 969.0,1195.2 970.0,1195.2 971.0,1195.2 972.0,1195.2 973.0,1195.2 974.0,1195.2 975.0,1195.2 976.0,1195.2 977.0,1195.2 978.0,1195.2 979.0,1195.2 980.0,1195.2 981.0,1195.2 982.0,1195.2 983.0,1195.2 984.0,1195.2 985.0,1195.2 986.0,1195.2 987.0,1195.2 988.0,1195.2 989.0,1195.2 990.0,1195.2 991.0,1195.2 992.0,1195.2 993.0,1195.2 994.0,1195.2 995.0,1195.2 996.0,1195.2 997.0,1195.2 998.0,1195.2 999.0,1195.2 1000.0,1195.2 1001.0,1195.2 1002.0,1195.2 1003.0,1195.2 1004.0,1195.2 1005.0,1195.2 1006.0,1195.2 1007.0,1195.2 1008.0,1195.2 1009.0,1195.2 1010.0,1195.2 1011.0,1195.2 1012.0,1195.2 1013.0,1195.2 1014.0,1195.2 1015.0,1195.2 1016.0,1195.2 1017.0,1195.2 1018.0,1195.2 1019.0,1195.2 1020.0,1195.2 1021.0,1195.2 1022.0,1195.2 1023.0,1195.2 1024.0,1195.2 1025.0,1195.2 1026.0,1195.2 1027.0,1195.2 1028.0,1195.2 1029.0,1195.2 1030.0,1195.2 1031.0,1195.2 1032.0,1195.2 1033.0,1195.2 1034.0,1195.2 1035.0,1195.2 1036.0,1195.2 1037.0,1195.2 1038.0,1195.2 1039.0,1195.2 1040.0,1195.2 1041.0,1195.2 1042.0,1195.2 1043.0,1195.2 1044.0,1195.2 1045.0,1195.2 1046.0,1195.2 1047.0,1195.2 1048.0,1195.2 1049.0,1195.2 1050.0,1195.2 1051.0,1195.2 1052.0,1195.2 1053.0,1195.2 1054.0,1195.2 1055.0,1195.2 1056.0,1195.2 1057.0,1195.2 1058.0,1195.2 1059.0,1195.2 1060.0,1195.2 1061.0,1195.2 1062.0,1195.2 1063.0,1195.2 1064.0,1195.2 1065.0,1195.2 1066.0,1195.2 1067.0,1195.2 1068.0,1195.2 1069.0,1195.2 1070.0,1195.2 1071.0,1195.2 1072.0,1195.2 1073.0,1195.2 1074.0,1195.2 1075.0,1195.2 1076.0,1195.2 1077.0,1195.2 1078.0,1195.2 1079.0,1195.2 1080.0,1195.2 1081.0,1195.2 1082.0,1195.2 1083.0,1195.2 1084.0,1195.2 1085.0,1195.2 1086.0,1195.2 1087.0,1195.2 1088.0,1195.2 1089.0,1195.2 1090.0,1195.2 1091.0,1195.2 1092.0,1195.2 1093.0,1195.2 1094.0,1195.2 1095.0,1195.2 1096.0,1195.2 1097.0,1195.2 1098.0,1195.2 1099.0,1195.2 1100.0,1195.2 1101.0,1195.2 1102.0,1195.2 1103.0,1195.2 1104.0,1195.2 1105.0,1195.2 1106.0,1195.2 1107.0,1195.2 1108.0,1195.2 1109.0,1195.2 1110.0,1195.2 1111.0,1195.2 1112.0,1195.2 1113.0,1195.2 1114.0,1195.2 1115.0,1195.2 1116.0,1195.2 1117.0,1195.2 1118.0,1195.2 1119.0,1195.2 1120.0,1195.2 1121.0,1195.2 1122.0,1195.2 1123.0,1195.2 1124.0,1195.2 1125.0,1195.2 1126.0,1195.2 1127.0,1195.2 1128.0,1195.2 1129.0,1195.2 1130.0,1195.2 1131.0,1195.2 1132.0,1195.2 1133.0,1195.2 1134.0,1195.2 1135.0,1195.2 1136.0,1195.2 1137.0,1195.2 1138.0,1195.2 1139.0,1195.2 1140.0,1195.2 1141.0,1195.2 1142.0,1195.2 1143.0,1195.2 1144.0,1195.2 1145.0,1195.2 1146.0,1195.2 1147.0,1195.2 1148.0,1195.2 1149.0,1195.2 1150.0,1195.2 1151.0,1195.2 1152.0,1195.2 1153.0,1195.2 1154.0,1195.2 1155.0,1195.2 1156.0,1195.2 1157.0,1195.2 1158.0,1195.2 1159.0,1195.2 1160.0,1195.2 1161.0,1195.2 1162.0,1195.2 1163.0,1195.2 1164.0,1195.2 1165.0,1195.2 1166.0,1195.2 1167.0,1195.2 1168.0,1195.2 1169.0,1195.2 1170.0,1195.2 1171.0,1195.2 1172.0,1195.2 1173.0,1195.2 1174.0,1195.2 1175.0,1195.2 1176.0,1195.2" fill="none" stroke="#10108C" stroke-width="4.2" stroke-linejoin="round" stroke-linecap="round" />
<polyline points="129.0,1195.6 130.0,1195.6 131.0,1195.6 132.0,1195.6 133.0,1195.6 134.0,1195.6 135.0,1195.6 136.0,1195.6 137.0,1195.6 138.0,1195.6 139.0,1195.6 140.0,1195.6 141.0,1195.6 142.0,1195.6 143.0,1195.6 144.0,1195.6 145.0,1195.6 146.0,1195.6 147.0,1195.6 148.0,1195.6 149.0,1195.6 150.0,1195.6 151.0,1195.6 152.0,1195.6 153.0,1195.6 154.0,1195.6 155.0,1195.6 156.0,1195.6 157.0,1195.6 158.0,1195.6 159.0,1195.6 160.0,1195.6 161.0,1195.6 162.0,1195.6 163.0,1195.6 164.0,1195.6 165.0,1195.6 166.0,1195.6 167.0,1195.6 168.0,1195.6 169.0,1195.6 170.0,1195.6 171.0,1195.6 172.0,1195.6 173.0,1195.6 174.0,1195.6 175.0,1195.6 176.0,1195.6 177.0,1195.6 178.0,1195.6 179.0,1195.6 180.0,1195.6 181.0,1195.6 182.0,1195.6 183.0,1195.6 184.0,1195.6 185.0,1195.6 186.0,1195.6 187.0,1195.6 188.0,1195.6 189.0,1195.6 190.0,1195.6 191.0,1195.6 192.0,1195.6 193.0,1195.6 194.0,1195.6 195.0,1195.6 196.0,1195.6 197.0,1195.6 198.0,1195.6 199.0,1195.6 200.0,1195.6 201.0,1195.6 202.0,1195.6 203.0,1195.6 204.0,1195.6 205.0,1195.6 206.0,1195.6 207.0,1195.6 208.0,1195.6 209.0,1195.6 210.0,1195.6 211.0,1195.6 212.0,1195.6 213.0,1195.6 214.0,1195.6 215.0,1195.6 216.0,1195.6 217.0,1195.6 218.0,1195.6 219.0,1195.6 220.0,1195.6 221.0,1195.6 222.0,1195.6 223.0,1195.6 224.0,1195.6 225.0,1195.5 226.0,1195.5 227.0,1195.5 228.0,1195.5 229.0,1195.5 230.0,1195.5 231.0,1195.5 232.0,1195.5 233.0,1195.5 234.0,1195.5 235.0,1195.5 236.0,1195.5 237.0,1195.5 238.0,1195.5 239.0,1195.5 240.0,1195.5 241.0,1195.5 242.0,1195.5 243.0,1195.5 244.0,1195.5 245.0,1195.5 246.0,1195.5 247.0,1195.5 248.0,1195.4 249.0,1195.4 250.0,1195.4 251.0,1195.4 252.0,1195.4 253.0,1195.4 254.0,1195.4 255.0,1195.4 256.0,1195.4 257.0,1195.4 258.0,1195.4 259.0,1195.4 260.0,1195.4 261.0,1195.3 262.0,1195.3 263.0,1195.3 264.0,1195.3 265.0,1195.3 266.0,1195.3 267.0,1195.3 268.0,1195.3 269.0,1195.3 270.0,1195.3 271.0,1195.2 272.0,1195.2 273.0,1195.2 274.0,1195.2 275.0,1195.2 276.0,1195.2 277.0,1195.2 278.0,1195.1 279.0,1195.1 280.0,1195.1 281.0,1195.1 282.0,1195.1 283.0,1195.1 284.0,1195.0 285.0,1195.0 286.0,1195.0 287.0,1195.0 288.0,1195.0 289.0,1195.0 290.0,1194.9 291.0,1194.9 292.0,1194.9 293.0,1194.9 294.0,1194.9 295.0,1194.8 296.0,1194.8 297.0,1194.8 298.0,1194.8 299.0,1194.7 300.0,1194.7 301.0,1194.7 302.0,1194.7 303.0,1194.6 304.0,1194.6 305.0,1194.6 306.0,1194.6 307.0,1194.5 308.0,1194.5 309.0,1194.5 310.0,1194.4 311.0,1194.4 312.0,1194.4 313.0,1194.4 314.0,1194.3 315.0,1194.3 316.0,1194.3 317.0,1194.2 318.0,1194.2 319.0,1194.2 320.0,1194.1 321.0,1194.1 322.0,1194.0 323.0,1194.0 324.0,1194.0 325.0,1193.9 326.0,1193.9 327.0,1193.9 328.0,1193.8 329.0,1193.8 330.0,1193.7 331.0,1193.7 332.0,1193.7 333.0,1193.6 334.0,1193.6 335.0,1193.5 336.0,1193.5 337.0,1193.5 338.0,1193.4 339.0,1193.4 340.0,1193.3 341.0,1193.3 342.0,1193.2 343.0,1193.2 344.0,1193.1 345.0,1193.1 346.0,1193.1 347.0,1193.0 348.0,1193.0 349.0,1192.9 350.0,1192.9 351.0,1192.8 352.0,1192.8 353.0,1192.7 354.0,1192.7 355.0,1192.6 356.0,1192.6 357.0,1192.5 358.0,1192.5 359.0,1192.4 360.0,1192.3 361.0,1192.3 362.0,1192.2 363.0,1192.2 364.0,1192.1 365.0,1192.1 366.0,1192.0 367.0,1191.9 368.0,1191.8 369.0,1191.8 370.0,1191.7 371.0,1191.6 372.0,1191.5 373.0,1191.4 374.0,1191.3 375.0,1191.2 376.0,1191.0 377.0,1190.9 378.0,1190.7 379.0,1190.6 380.0,1190.4 381.0,1190.2 382.0,1189.9 383.0,1189.7 384.0,1189.4 385.0,1189.0 386.0,1188.7 387.0,1188.3 388.0,1187.8 389.0,1187.3 390.0,1186.8 391.0,1186.2 392.0,1185.5 393.0,1184.8 394.0,1184.0 395.0,1183.1 396.0,1182.1 397.0,1181.0 398.0,1179.9 399.0,1178.6 400.0,1177.2 401.0,1175.7 402.0,1174.1 403.0,1172.4 404.0,1170.6 405.0,1168.6 406.0,1166.5 407.0,1164.3 408.0,1162.0 409.0,1159.5 410.0,1156.9 411.0,1154.2 412.0,1151.4 413.0,1148.5 414.0,1145.4 415.0,1142.3 416.0,1139.1 417.0,1135.9 418.0,1132.6 419.0,1129.3 420.0,1126.1 421.0,1122.8 422.0,1119.5 423.0,1116.4 424.0,1113.3 425.0,1110.4 426.0,1107.6 427.0,1104.9 428.0,1102.5 429.0,1100.4 430.0,1098.5 431.0,1096.9 432.0,1095.6 433.0,1094.6 434.0,1094.1 435.0,1093.9 436.0,1094.2 437.0,1094.9 438.0,1096.0 439.0,1097.6 440.0,1099.7 441.0,1102.2 442.0,1105.2 443.0,1108.7 444.0,1112.6 445.0,1117.0 446.0,1121.8 447.0,1127.0 448.0,1132.6 449.0,1138.5 450.0,1144.8 451.0,1151.3 452.0,1158.1 453.0,1165.1 454.0,1172.2 455.0,1179.4 456.0,1186.7 457.0,1194.0 458.0,1201.3 459.0,1208.5 460.0,1215.5 461.0,1222.4 462.0,1229.0 463.0,1235.4 464.0,1241.4 465.0,1247.1 466.0,1252.4 467.0,1257.3 468.0,1261.7 469.0,1265.7 470.0,1269.2 471.0,1272.1 472.0,1274.6 473.0,1276.5 474.0,1277.9 475.0,1278.7 476.0,1279.0 477.0,1278.8 478.0,1278.0 479.0,1276.8 480.0,1275.0 481.0,1272.8 482.0,1270.1 483.0,1267.0 484.0,1263.5 485.0,1259.6 486.0,1255.4 487.0,1250.8 488.0,1245.8 489.0,1240.7 490.0,1235.2 491.0,1229.6 492.0,1223.7 493.0,1217.7 494.0,1211.6 495.0,1205.3 496.0,1199.0 497.0,1192.6 498.0,1186.2 499.0,1179.8 500.0,1173.5 501.0,1167.2 502.0,1161.0 503.0,1154.9 504.0,1149.0 505.0,1143.3 506.0,1137.8 507.0,1132.6 508.0,1127.6 509.0,1122.9 510.0,1118.6 511.0,1114.6 512.0,1111.0 513.0,1107.8 514.0,1105.0 515.0,1102.7 516.0,1100.9 517.0,1099.5 518.0,1098.7 519.0,1098.3 520.0,1098.5 521.0,1099.2 522.0,1100.4 523.0,1102.2 524.0,1104.4 525.0,1107.2 526.0,1110.4 527.0,1114.1 528.0,1118.2 529.0,1122.7 530.0,1127.6 531.0,1132.8 532.0,1138.2 533.0,1144.0 534.0,1149.9 535.0,1155.9 536.0,1162.1 537.0,1168.2 538.0,1174.4 539.0,1180.4 540.0,1186.3 541.0,1192.1 542.0,1197.6 543.0,1202.7 544.0,1207.6 545.0,1212.0 546.0,1216.1 547.0,1219.7 548.0,1222.7 549.0,1225.3 550.0,1227.3 551.0,1228.8 552.0,1229.7 553.0,1230.1 554.0,1229.9 555.0,1229.1 556.0,1227.9 557.0,1226.1 558.0,1223.9 559.0,1221.2 560.0,1218.2 561.0,1214.8 562.0,1211.2 563.0,1207.2 564.0,1203.1 565.0,1198.9 566.0,1194.6 567.0,1190.3 568.0,1186.1 569.0,1182.0 570.0,1178.0 571.0,1174.3 572.0,1170.9 573.0,1167.8 574.0,1165.1 575.0,1162.8 576.0,1161.0 577.0,1159.7 578.0,1158.8 579.0,1158.6 580.0,1158.8 581.0,1159.7 582.0,1161.1 583.0,1163.0 584.0,1165.5 585.0,1168.5 586.0,1172.0 587.0,1176.0 588.0,1180.4 589.0,1185.2 590.0,1190.3 591.0,1195.7 592.0,1201.4 593.0,1207.3 594.0,1213.4 595.0,1219.5 596.0,1225.6 597.0,1231.8 598.0,1237.8 599.0,1243.7 600.0,1249.5 601.0,1255.0 602.0,1260.2 603.0,1265.1 604.0,1269.6 605.0,1273.7 606.0,1277.4 607.0,1280.6 608.0,1283.4 609.0,1285.6 610.0,1287.3 611.0,1288.5 612.0,1289.2 613.0,1289.3 614.0,1288.9 615.0,1288.0 616.0,1286.5 617.0,1284.6 618.0,1282.1 619.0,1279.2 620.0,1275.9 621.0,1272.1 622.0,1268.0 623.0,1263.4 624.0,1258.5 625.0,1253.4 626.0,1247.9 627.0,1242.1 628.0,1236.2 629.0,1230.0 630.0,1223.7 631.0,1217.2 632.0,1210.6 633.0,1204.0 634.0,1197.3 635.0,1190.6 636.0,1184.0 637.0,1177.4 638.0,1170.8 639.0,1164.4 640.0,1158.2 641.0,1152.1 642.0,1146.2 643.0,1140.6 644.0,1135.2 645.0,1130.2 646.0,1125.4 647.0,1121.1 648.0,1117.1 649.0,1113.5 650.0,1110.3 651.0,1107.7 652.0,1105.5 653.0,1103.7 654.0,1102.5 655.0,1101.9 656.0,1101.7 657.0,1102.1 658.0,1103.0 659.0,1104.5 660.0,1106.4 661.0,1108.9 662.0,1111.9 663.0,1115.4 664.0,1119.4 665.0,1123.7 666.0,1128.5 667.0,1133.6 668.0,1139.0 669.0,1144.6 670.0,1150.5 671.0,1156.6 672.0,1162.8 673.0,1169.0 674.0,1175.3 675.0,1181.4 676.0,1187.5 677.0,1193.4 678.0,1199.1 679.0,1204.5 680.0,1209.6 681.0,1214.4 682.0,1218.7 683.0,1222.5 684.0,1225.9 685.0,1228.7 686.0,1231.1 687.0,1232.8 688.0,1234.0 689.0,1234.6 690.0,1234.7 691.0,1234.1 692.0,1233.1 693.0,1231.5 694.0,1229.4 695.0,1226.8 696.0,1223.8 697.0,1220.4 698.0,1216.7 699.0,1212.7 700.0,1208.4 701.0,1204.0 702.0,1199.5 703.0,1194.9 704.0,1190.3 705.0,1185.8 706.0,1181.3 707.0,1177.1 708.0,1173.2 709.0,1169.5 710.0,1166.2 711.0,1163.2 712.0,1160.7 713.0,1158.7 714.0,1157.2 715.0,1156.2 716.0,1155.8 717.0,1156.0 718.0,1156.7 719.0,1158.0 720.0,1159.8 721.0,1162.2 722.0,1165.2 723.0,1168.7 724.0,1172.6 725.0,1177.0 726.0,1181.8 727.0,1187.0 728.0,1192.5 729.0,1198.3 730.0,1204.3 731.0,1210.4 732.0,1216.7 733.0,1223.0 734.0,1229.3 735.0,1235.5 736.0,1241.6 737.0,1247.5 738.0,1253.3 739.0,1258.7 740.0,1263.8 741.0,1268.6 742.0,1272.9 743.0,1276.9 744.0,1280.4 745.0,1283.4 746.0,1285.9 747.0,1287.8 748.0,1289.3 749.0,1290.2 750.0,1290.6 751.0,1290.5 752.0,1289.8 753.0,1288.6 754.0,1287.0 755.0,1284.8 756.0,1282.2 757.0,1279.1 758.0,1275.6 759.0,1271.6 760.0,1267.4 761.0,1262.7 762.0,1257.8 763.0,1252.6 764.0,1247.1 765.0,1241.4 766.0,1235.5 767.0,1229.4 768.0,1223.3 769.0,1217.0 770.0,1210.6 771.0,1204.2 772.0,1197.8 773.0,1191.5 774.0,1185.1 775.0,1178.9 776.0,1172.8 777.0,1166.9 778.0,1161.1 779.0,1155.5 780.0,1150.2 781.0,1145.1 782.0,1140.3 783.0,1135.9 784.0,1131.8 785.0,1128.0 786.0,1124.7 787.0,1121.8 788.0,1119.3 789.0,1117.3 790.0,1115.8 791.0,1114.8 792.0,1114.3 793.0,1114.3 794.0,1114.9 795.0,1115.9 796.0,1117.5 797.0,1119.6 798.0,1122.3 799.0,1125.4 800.0,1129.1 801.0,1133.2 802.0,1137.7 803.0,1142.7 804.0,1148.1 805.0,1153.9 806.0,1159.9 807.0,1166.3 808.0,1172.9 809.0,1179.6 810.0,1186.6 811.0,1193.6 812.0,1200.8 813.0,1207.9 814.0,1215.0 815.0,1222.0 816.0,1228.9 817.0,1235.6 818.0,1242.1 819.0,1248.3 820.0,1254.3 821.0,1259.9 822.0,1265.2 823.0,1270.1 824.0,1274.6 825.0,1278.7 826.0,1282.3 827.0,1285.5 828.0,1288.3 829.0,1290.6 830.0,1292.4 831.0,1293.8 832.0,1294.8 833.0,1295.3 834.0,1295.5 835.0,1295.2 836.0,1294.6 837.0,1293.6 838.0,1292.3 839.0,1290.7 840.0,1288.9 841.0,1286.8 842.0,1284.5 843.0,1282.0 844.0,1279.4 845.0,1276.6 846.0,1273.7 847.0,1270.8 848.0,1267.8 849.0,1264.7 850.0,1261.7 851.0,1258.6 852.0,1255.6 853.0,1252.7 854.0,1249.8 855.0,1247.0 856.0,1244.2 857.0,1241.6 858.0,1239.1 859.0,1236.6 860.0,1234.3 861.0,1232.1 862.0,1230.0 863.0,1228.1 864.0,1226.2 865.0,1224.5 866.0,1222.9 867.0,1221.4 868.0,1220.0 869.0,1218.7 870.0,1217.5 871.0,1216.4 872.0,1215.4 873.0,1214.5 874.0,1213.6 875.0,1212.9 876.0,1212.2 877.0,1211.5 878.0,1210.9 879.0,1210.4 880.0,1209.9 881.0,1209.5 882.0,1209.1 883.0,1208.8 884.0,1208.4 885.0,1208.1 886.0,1207.9 887.0,1207.6 888.0,1207.4 889.0,1207.1 890.0,1206.9 891.0,1206.8 892.0,1206.6 893.0,1206.4 894.0,1206.2 895.0,1206.1 896.0,1205.9 897.0,1205.8 898.0,1205.6 899.0,1205.5 900.0,1205.4 901.0,1205.2 902.0,1205.1 903.0,1204.9 904.0,1204.8 905.0,1204.7 906.0,1204.5 907.0,1204.4 908.0,1204.2 909.0,1204.1 910.0,1204.0 911.0,1203.8 912.0,1203.7 913.0,1203.5 914.0,1203.4 915.0,1203.2 916.0,1203.1 917.0,1202.9 918.0,1202.8 919.0,1202.6 920.0,1202.5 921.0,1202.3 922.0,1202.2 923.0,1202.1 924.0,1201.9 925.0,1201.8 926.0,1201.6 927.0,1201.5 928.0,1201.3 929.0,1201.2 930.0,1201.0 931.0,1200.9 932.0,1200.8 933.0,1200.6 934.0,1200.5 935.0,1200.3 936.0,1200.2 937.0,1200.1 938.0,1199.9 939.0,1199.8 940.0,1199.7 941.0,1199.6 942.0,1199.4 943.0,1199.3 944.0,1199.2 945.0,1199.1 946.0,1199.0 947.0,1198.9 948.0,1198.7 949.0,1198.6 950.0,1198.5 951.0,1198.4 952.0,1198.3 953.0,1198.2 954.0,1198.1 955.0,1198.0 956.0,1197.9 957.0,1197.9 958.0,1197.8 959.0,1197.7 960.0,1197.6 961.0,1197.5 962.0,1197.4 963.0,1197.4 964.0,1197.3 965.0,1197.2 966.0,1197.2 967.0,1197.1 968.0,1197.0 969.0,1197.0 970.0,1196.9 971.0,1196.9 972.0,1196.8 973.0,1196.7 974.0,1196.7 975.0,1196.6 976.0,1196.6 977.0,1196.5 978.0,1196.5 979.0,1196.5 980.0,1196.4 981.0,1196.4 982.0,1196.3 983.0,1196.3 984.0,1196.3 985.0,1196.2 986.0,1196.2 987.0,1196.2 988.0,1196.1 989.0,1196.1 990.0,1196.1 991.0,1196.1 992.0,1196.0 993.0,1196.0 994.0,1196.0 995.0,1196.0 996.0,1196.0 997.0,1195.9 998.0,1195.9 999.0,1195.9 1000.0,1195.9 1001.0,1195.9 1002.0,1195.9 1003.0,1195.8 1004.0,1195.8 1005.0,1195.8 1006.0,1195.8 1007.0,1195.8 1008.0,1195.8 1009.0,1195.8 1010.0,1195.8 1011.0,1195.7 1012.0,1195.7 1013.0,1195.7 1014.0,1195.7 1015.0,1195.7 1016.0,1195.7 1017.0,1195.7 1018.0,1195.7 1019.0,1195.7 1020.0,1195.7 1021.0,1195.7 1022.0,1195.7 1023.0,1195.7 1024.0,1195.7 1025.0,1195.7 1026.0,1195.7 1027.0,1195.7 1028.0,1195.7 1029.0,1195.7 1030.0,1195.6 1031.0,1195.6 1032.0,1195.6 1033.0,1195.6 1034.0,1195.6 1035.0,1195.6 1036.0,1195.6 1037.0,1195.6 1038.0,1195.6 1039.0,1195.6 1040.0,1195.6 1041.0,1195.6 1042.0,1195.6 1043.0,1195.6 1044.0,1195.6 1045.0,1195.6 1046.0,1195.6 1047.0,1195.6 1048.0,1195.6 1049.0,1195.6 1050.0,1195.6 1051.0,1195.6 1052.0,1195.6 1053.0,1195.6 1054.0,1195.6 1055.0,1195.6 1056.0,1195.6 1057.0,1195.6 1058.0,1195.6 1059.0,1195.6 1060.0,1195.6 1061.0,1195.6 1062.0,1195.6 1063.0,1195.6 1064.0,1195.6 1065.0,1195.6 1066.0,1195.6 1067.0,1195.6 1068.0,1195.6 1069.0,1195.6 1070.0,1195.6 1071.0,1195.6 1072.0,1195.6 1073.0,1195.6 1074.0,1195.6 1075.0,1195.6 1076.0,1195.6 1077.0,1195.6 1078.0,1195.6 1079.0,1195.6 1080.0,1195.6 1081.0,1195.6 1082.0,1195.6 1083.0,1195.6 1084.0,1195.6 1085.0,1195.6 1086.0,1195.6 1087.0,1195.6 1088.0,1195.6 1089.0,1195.6 1090.0,1195.6 1091.0,1195.6 1092.0,1195.6 1093.0,1195.6 1094.0,1195.6 1095.0,1195.6 1096.0,1195.6 1097.0,1195.6 1098.0,1195.6 1099.0,1195.6 1100.0,1195.6 1101.0,1195.6 1102.0,1195.6 1103.0,1195.6 1104.0,1195.6 1105.0,1195.6 1106.0,1195.6 1107.0,1195.6 1108.0,1195.6 1109.0,1195.6 1110.0,1195.6 1111.0,1195.6 1112.0,1195.6 1113.0,1195.6 1114.0,1195.6 1115.0,1195.6 1116.0,1195.6 1117.0,1195.6 1118.0,1195.6 1119.0,1195.6 1120.0,1195.6 1121.0,1195.6 1122.0,1195.6 1123.0,1195.6 1124.0,1195.6 1125.0,1195.6 1126.0,1195.6 1127.0,1195.6 1128.0,1195.6 1129.0,1195.6 1130.0,1195.6 1131.0,1195.6 1132.0,1195.6 1133.0,1195.6 1134.0,1195.6 1135.0,1195.6 1136.0,1195.6 1137.0,1195.6 1138.0,1195.6 1139.0,1195.6 1140.0,1195.6 1141.0,1195.6 1142.0,1195.6 1143.0,1195.6 1144.0,1195.6 1145.0,1195.6 1146.0,1195.6 1147.0,1195.6 1148.0,1195.6 1149.0,1195.6 1150.0,1195.6 1151.0,1195.6 1152.0,1195.6 1153.0,1195.6 1154.0,1195.6 1155.0,1195.6 1156.0,1195.6 1157.0,1195.6 1158.0,1195.6 1159.0,1195.6 1160.0,1195.6 1161.0,1195.6 1162.0,1195.6 1163.0,1195.6 1164.0,1195.6 1165.0,1195.6 1166.0,1195.6 1167.0,1195.6 1168.0,1195.6 1169.0,1195.6 1170.0,1195.6 1171.0,1195.6 1172.0,1195.6 1173.0,1195.6 1174.0,1195.6 1175.0,1195.6 1176.0,1195.6" fill="none" stroke="#FF0000" stroke-width="4.2" stroke-linejoin="round" stroke-linecap="round" />
<polyline points="129.0,1195.6 130.0,1195.6 131.0,1195.6 132.0,1195.6 133.0,1195.6 134.0,1195.6 135.0,1195.6 136.0,1195.6 137.0,1195.6 138.0,1195.6 139.0,1195.6 140.0,1195.6 141.0,1195.6 142.0,1195.6 143.0,1195.6 144.0,1195.6 145.0,1195.6 146.0,1195.6 147.0,1195.6 148.0,1195.6 149.0,1195.6 150.0,1195.6 151.0,1195.6 152.0,1195.6 153.0,1195.6 154.0,1195.6 155.0,1195.5 156.0,1195.5 157.0,1195.5 158.0,1195.5 159.0,1195.5 160.0,1195.5 161.0,1195.5 162.0,1195.5 163.0,1195.5 164.0,1195.5 165.0,1195.5 166.0,1195.5 167.0,1195.5 168.0,1195.5 169.0,1195.5 170.0,1195.5 171.0,1195.5 172.0,1195.5 173.0,1195.5 174.0,1195.5 175.0,1195.5 176.0,1195.5 177.0,1195.5 178.0,1195.5 179.0,1195.5 180.0,1195.5 181.0,1195.5 182.0,1195.5 183.0,1195.5 184.0,1195.5 185.0,1195.5 186.0,1195.5 187.0,1195.5 188.0,1195.5 189.0,1195.5 190.0,1195.5 191.0,1195.5 192.0,1195.5 193.0,1195.5 194.0,1195.5 195.0,1195.5 196.0,1195.5 197.0,1195.5 198.0,1195.5 199.0,1195.5 200.0,1195.5 201.0,1195.5 202.0,1195.5 203.0,1195.5 204.0,1195.5 205.0,1195.4 206.0,1195.4 207.0,1195.4 208.0,1195.4 209.0,1195.4 210.0,1195.4 211.0,1195.4 212.0,1195.4 213.0,1195.4 214.0,1195.4 215.0,1195.4 216.0,1195.4 217.0,1195.4 218.0,1195.4 219.0,1195.4 220.0,1195.4 221.0,1195.3 222.0,1195.3 223.0,1195.3 224.0,1195.3 225.0,1195.3 226.0,1195.3 227.0,1195.3 228.0,1195.3 229.0,1195.3 230.0,1195.3 231.0,1195.2 232.0,1195.2 233.0,1195.2 234.0,1195.2 235.0,1195.2 236.0,1195.2 237.0,1195.2 238.0,1195.2 239.0,1195.1 240.0,1195.1 241.0,1195.1 242.0,1195.1 243.0,1195.1 244.0,1195.1 245.0,1195.0 246.0,1195.0 247.0,1195.0 248.0,1195.0 249.0,1195.0 250.0,1194.9 251.0,1194.9 252.0,1194.9 253.0,1194.9 254.0,1194.9 255.0,1194.8 256.0,1194.8 257.0,1194.8 258.0,1194.8 259.0,1194.7 260.0,1194.7 261.0,1194.7 262.0,1194.7 263.0,1194.6 264.0,1194.6 265.0,1194.6 266.0,1194.5 267.0,1194.5 268.0,1194.5 269.0,1194.4 270.0,1194.4 271.0,1194.4 272.0,1194.3 273.0,1194.3 274.0,1194.3 275.0,1194.2 276.0,1194.2 277.0,1194.2 278.0,1194.1 279.0,1194.1 280.0,1194.0 281.0,1194.0 282.0,1194.0 283.0,1193.9 284.0,1193.9 285.0,1193.8 286.0,1193.8 287.0,1193.7 288.0,1193.7 289.0,1193.6 290.0,1193.6 291.0,1193.5 292.0,1193.5 293.0,1193.4 294.0,1193.4 295.0,1193.3 296.0,1193.3 297.0,1193.2 298.0,1193.2 299.0,1193.1 300.0,1193.0 301.0,1193.0 302.0,1192.9 303.0,1192.9 304.0,1192.8 305.0,1192.7 306.0,1192.7 307.0,1192.6 308.0,1192.5 309.0,1192.5 310.0,1192.4 311.0,1192.3 312.0,1192.3 313.0,1192.2 314.0,1192.1 315.0,1192.1 316.0,1192.0 317.0,1191.9 318.0,1191.9 319.0,1191.8 320.0,1191.7 321.0,1191.6 322.0,1191.6 323.0,1191.5 324.0,1191.4 325.0,1191.3 326.0,1191.3 327.0,1191.2 328.0,1191.1 329.0,1191.0 330.0,1190.9 331.0,1190.9 332.0,1190.8 333.0,1190.7 334.0,1190.6 335.0,1190.5 336.0,1190.5 337.0,1190.4 338.0,1190.3 339.0,1190.2 340.0,1190.1 341.0,1190.1 342.0,1190.0 343.0,1189.9 344.0,1189.8 345.0,1189.7 346.0,1189.6 347.0,1189.6 348.0,1189.5 349.0,1189.4 350.0,1189.3 351.0,1189.2 352.0,1189.2 353.0,1189.1 354.0,1189.0 355.0,1188.9 356.0,1188.8 357.0,1188.8 358.0,1188.7 359.0,1188.6 360.0,1188.5 361.0,1188.4 362.0,1188.4 363.0,1188.3 364.0,1188.2 365.0,1188.1 366.0,1188.1 367.0,1188.0 368.0,1187.9 369.0,1187.8 370.0,1187.7 371.0,1187.7 372.0,1187.6 373.0,1187.5 374.0,1187.4 375.0,1187.3 376.0,1187.2 377.0,1187.1 378.0,1187.0 379.0,1186.9 380.0,1186.8 381.0,1186.7 382.0,1186.5 383.0,1186.4 384.0,1186.2 385.0,1186.0 386.0,1185.8 387.0,1185.5 388.0,1185.3 389.0,1184.9 390.0,1184.6 391.0,1184.2 392.0,1183.7 393.0,1183.2 394.0,1182.6 395.0,1181.9 396.0,1181.1 397.0,1180.3 398.0,1179.3 399.0,1178.2 400.0,1177.0 401.0,1175.6 402.0,1174.1 403.0,1172.5 404.0,1170.6 405.0,1168.6 406.0,1166.4 407.0,1164.0 408.0,1161.4 409.0,1158.5 410.0,1155.5 411.0,1152.2 412.0,1148.8 413.0,1145.1 414.0,1141.2 415.0,1137.1 416.0,1132.8 417.0,1128.4 418.0,1123.8 419.0,1119.1 420.0,1114.3 421.0,1109.5 422.0,1104.6 423.0,1099.8 424.0,1095.0 425.0,1090.4 426.0,1085.9 427.0,1081.6 428.0,1077.7 429.0,1074.0 430.0,1070.8 431.0,1068.0 432.0,1065.7 433.0,1064.0 434.0,1062.9 435.0,1062.5 436.0,1062.8 437.0,1063.8 438.0,1065.6 439.0,1068.1 440.0,1071.5 441.0,1075.7 442.0,1080.7 443.0,1086.4 444.0,1093.0 445.0,1100.2 446.0,1108.2 447.0,1116.7 448.0,1125.9 449.0,1135.6 450.0,1145.7 451.0,1156.1 452.0,1166.8 453.0,1177.7 454.0,1188.7 455.0,1199.6 456.0,1210.5 457.0,1221.1 458.0,1231.5 459.0,1241.5 460.0,1251.0 461.0,1260.0 462.0,1268.4 463.0,1276.1 464.0,1283.2 465.0,1289.4 466.0,1294.9 467.0,1299.6 468.0,1303.4 469.0,1306.4 470.0,1308.5 471.0,1309.8 472.0,1310.3 473.0,1310.1 474.0,1309.0 475.0,1307.3 476.0,1304.8 477.0,1301.7 478.0,1298.1 479.0,1293.8 480.0,1289.1 481.0,1283.9 482.0,1278.3 483.0,1272.3 484.0,1266.0 485.0,1259.4 486.0,1252.6 487.0,1245.6 488.0,1238.3 489.0,1231.0 490.0,1223.5 491.0,1215.9 492.0,1208.2 493.0,1200.5 494.0,1192.7 495.0,1184.9 496.0,1177.1 497.0,1169.3 498.0,1161.6 499.0,1153.9 500.0,1146.3 501.0,1138.8 502.0,1131.4 503.0,1124.2 504.0,1117.2 505.0,1110.4 506.0,1103.9 507.0,1097.8 508.0,1092.0 509.0,1086.6 510.0,1081.6 511.0,1077.2 512.0,1073.3 513.0,1070.1 514.0,1067.5 515.0,1065.5 516.0,1064.4 517.0,1064.0 518.0,1064.4 519.0,1065.6 520.0,1067.7 521.0,1070.6 522.0,1074.4 523.0,1079.1 524.0,1084.5 525.0,1090.8 526.0,1097.7 527.0,1105.4 528.0,1113.7 529.0,1122.6 530.0,1132.0 531.0,1141.8 532.0,1151.9 533.0,1162.2 534.0,1172.5 535.0,1182.9 536.0,1193.2 537.0,1203.2 538.0,1212.9 539.0,1222.2 540.0,1230.9 541.0,1239.0 542.0,1246.3 543.0,1252.8 544.0,1258.5 545.0,1263.2 546.0,1266.9 547.0,1269.6 548.0,1271.2 549.0,1271.7 550.0,1271.2 551.0,1269.6 552.0,1267.0 553.0,1263.5 554.0,1258.9 555.0,1253.6 556.0,1247.4 557.0,1240.5 558.0,1233.0 559.0,1225.0 560.0,1216.6 561.0,1207.8 562.0,1198.9 563.0,1190.0 564.0,1181.1 565.0,1172.3 566.0,1163.9 567.0,1155.9 568.0,1148.3 569.0,1141.4 570.0,1135.2 571.0,1129.7 572.0,1125.2 573.0,1121.5 574.0,1118.9 575.0,1117.2 576.0,1116.7 577.0,1117.1 578.0,1118.7 579.0,1121.3 580.0,1125.0 581.0,1129.6 582.0,1135.2 583.0,1141.7 584.0,1149.0 585.0,1157.0 586.0,1165.7 587.0,1175.0 588.0,1184.6 589.0,1194.7 590.0,1204.9 591.0,1215.3 592.0,1225.7 593.0,1236.0 594.0,1246.1 595.0,1255.9 596.0,1265.3 597.0,1274.2 598.0,1282.6 599.0,1290.3 600.0,1297.3 601.0,1303.6 602.0,1309.1 603.0,1313.7 604.0,1317.5 605.0,1320.5 606.0,1322.6 607.0,1323.8 608.0,1324.2 609.0,1323.8 610.0,1322.6 611.0,1320.7 612.0,1318.1 613.0,1314.7 614.0,1310.8 615.0,1306.3 616.0,1301.3 617.0,1295.8 618.0,1289.9 619.0,1283.7 620.0,1277.1 621.0,1270.2 622.0,1263.0 623.0,1255.7 624.0,1248.1 625.0,1240.5 626.0,1232.7 627.0,1224.8 628.0,1216.8 629.0,1208.8 630.0,1200.8 631.0,1192.7 632.0,1184.7 633.0,1176.6 634.0,1168.6 635.0,1160.7 636.0,1152.9 637.0,1145.1 638.0,1137.6 639.0,1130.1 640.0,1122.9 641.0,1115.9 642.0,1109.2 643.0,1102.8 644.0,1096.7 645.0,1091.1 646.0,1085.9 647.0,1081.2 648.0,1077.1 649.0,1073.5 650.0,1070.7 651.0,1068.5 652.0,1067.0 653.0,1066.3 654.0,1066.5 655.0,1067.4 656.0,1069.2 657.0,1071.9 658.0,1075.4 659.0,1079.8 660.0,1085.1 661.0,1091.1 662.0,1097.9 663.0,1105.4 664.0,1113.6 665.0,1122.4 666.0,1131.7 667.0,1141.5 668.0,1151.5 669.0,1161.9 670.0,1172.3 671.0,1182.8 672.0,1193.2 673.0,1203.5 674.0,1213.4 675.0,1222.9 676.0,1231.9 677.0,1240.3 678.0,1248.0 679.0,1254.9 680.0,1260.9 681.0,1266.0 682.0,1270.1 683.0,1273.2 684.0,1275.2 685.0,1276.2 686.0,1276.0 687.0,1274.8 688.0,1272.6 689.0,1269.3 690.0,1265.1 691.0,1259.9 692.0,1253.9 693.0,1247.2 694.0,1239.8 695.0,1231.8 696.0,1223.3 697.0,1214.5 698.0,1205.4 699.0,1196.2 700.0,1186.9 701.0,1177.8 702.0,1168.9 703.0,1160.3 704.0,1152.2 705.0,1144.6 706.0,1137.7 707.0,1131.5 708.0,1126.2 709.0,1121.7 710.0,1118.2 711.0,1115.7 712.0,1114.3 713.0,1113.9 714.0,1114.6 715.0,1116.4 716.0,1119.2 717.0,1123.1 718.0,1128.0 719.0,1133.8 720.0,1140.6 721.0,1148.1 722.0,1156.4 723.0,1165.3 724.0,1174.8 725.0,1184.7 726.0,1194.9 727.0,1205.3 728.0,1215.9 729.0,1226.5 730.0,1236.9 731.0,1247.1 732.0,1257.1 733.0,1266.6 734.0,1275.6 735.0,1284.0 736.0,1291.7 737.0,1298.8 738.0,1305.1 739.0,1310.6 740.0,1315.2 741.0,1319.0 742.0,1322.0 743.0,1324.0 744.0,1325.2 745.0,1325.6 746.0,1325.1 747.0,1323.9 748.0,1321.9 749.0,1319.2 750.0,1315.8 751.0,1311.8 752.0,1307.3 753.0,1302.2 754.0,1296.7 755.0,1290.7 756.0,1284.4 757.0,1277.8 758.0,1270.8 759.0,1263.7 760.0,1256.3 761.0,1248.8 762.0,1241.2 763.0,1233.4 764.0,1225.6 765.0,1217.7 766.0,1209.8 767.0,1201.8 768.0,1193.9 769.0,1186.0 770.0,1178.2 771.0,1170.4 772.0,1162.7 773.0,1155.1 774.0,1147.7 775.0,1140.4 776.0,1133.3 777.0,1126.4 778.0,1119.8 779.0,1113.5 780.0,1107.5 781.0,1101.9 782.0,1096.7 783.0,1092.0 784.0,1087.7 785.0,1084.1 786.0,1081.0 787.0,1078.6 788.0,1076.9 789.0,1075.9 790.0,1075.7 791.0,1076.2 792.0,1077.6 793.0,1079.7 794.0,1082.7 795.0,1086.6 796.0,1091.2 797.0,1096.7 798.0,1103.0 799.0,1110.0 800.0,1117.6 801.0,1126.0 802.0,1134.9 803.0,1144.3 804.0,1154.2 805.0,1164.4 806.0,1174.9 807.0,1185.6 808.0,1196.4 809.0,1207.1 810.0,1217.8 811.0,1228.3 812.0,1238.5 813.0,1248.4 814.0,1257.8 815.0,1266.7 816.0,1275.0 817.0,1282.7 818.0,1289.7 819.0,1296.0 820.0,1301.5 821.0,1306.2 822.0,1310.2 823.0,1313.4 824.0,1315.8 825.0,1317.4 826.0,1318.2 827.0,1318.4 828.0,1317.9 829.0,1316.7 830.0,1315.0 831.0,1312.7 832.0,1309.9 833.0,1306.8 834.0,1303.2 835.0,1299.4 836.0,1295.3 837.0,1291.0 838.0,1286.6 839.0,1282.1 840.0,1277.6 841.0,1273.1 842.0,1268.6 843.0,1264.2 844.0,1260.0 845.0,1255.9 846.0,1252.0 847.0,1248.3 848.0,1244.8 849.0,1241.5 850.0,1238.4 851.0,1235.6 852.0,1233.0 853.0,1230.6 854.0,1228.4 855.0,1226.5 856.0,1224.7 857.0,1223.1 858.0,1221.7 859.0,1220.5 860.0,1219.4 861.0,1218.4 862.0,1217.5 863.0,1216.7 864.0,1216.0 865.0,1215.4 866.0,1214.8 867.0,1214.2 868.0,1213.7 869.0,1213.2 870.0,1212.7 871.0,1212.2 872.0,1211.6 873.0,1211.1 874.0,1210.5 875.0,1210.0 876.0,1209.4 877.0,1208.8 878.0,1208.2 879.0,1207.6 880.0,1207.0 881.0,1206.3 882.0,1205.7 883.0,1205.0 884.0,1204.4 885.0,1203.8 886.0,1203.2 887.0,1202.6 888.0,1202.0 889.0,1201.5 890.0,1200.9 891.0,1200.4 892.0,1200.0 893.0,1199.5 894.0,1199.1 895.0,1198.7 896.0,1198.4 897.0,1198.0 898.0,1197.7 899.0,1197.5 900.0,1197.2 901.0,1197.0 902.0,1196.8 903.0,1196.6 904.0,1196.5 905.0,1196.3 906.0,1196.2 907.0,1196.1 908.0,1196.0 909.0,1196.0 910.0,1195.9 911.0,1195.8 912.0,1195.8 913.0,1195.7 914.0,1195.7 915.0,1195.7 916.0,1195.7 917.0,1195.6 918.0,1195.6 919.0,1195.6 920.0,1195.6 921.0,1195.6 922.0,1195.6 923.0,1195.6 924.0,1195.6 925.0,1195.6 926.0,1195.6 927.0,1195.6 928.0,1195.6 929.0,1195.6 930.0,1195.6 931.0,1195.6 932.0,1195.6 933.0,1195.6 934.0,1195.6 935.0,1195.6 936.0,1195.6 937.0,1195.6 938.0,1195.6 939.0,1195.6 940.0,1195.6 941.0,1195.6 942.0,1195.6 943.0,1195.6 944.0,1195.6 945.0,1195.6 946.0,1195.6 947.0,1195.6 948.0,1195.6 949.0,1195.6 950.0,1195.6 951.0,1195.6 952.0,1195.6 953.0,1195.6 954.0,1195.6 955.0,1195.6 956.0,1195.6 957.0,1195.6 958.0,1195.6 959.0,1195.6 960.0,1195.6 961.0,1195.6 962.0,1195.6 963.0,1195.6 964.0,1195.6 965.0,1195.6 966.0,1195.6 967.0,1195.6 968.0,1195.6 969.0,1195.6 970.0,1195.6 971.0,1195.6 972.0,1195.6 973.0,1195.6 974.0,1195.6 975.0,1195.6 976.0,1195.6 977.0,1195.6 978.0,1195.6 979.0,1195.6 980.0,1195.6 981.0,1195.6 982.0,1195.6 983.0,1195.6 984.0,1195.6 985.0,1195.6 986.0,1195.6 987.0,1195.6 988.0,1195.6 989.0,1195.6 990.0,1195.6 991.0,1195.6 992.0,1195.6 993.0,1195.6 994.0,1195.6 995.0,1195.6 996.0,1195.6 997.0,1195.6 998.0,1195.6 999.0,1195.6 1000.0,1195.6 1001.0,1195.6 1002.0,1195.6 1003.0,1195.6 1004.0,1195.6 1005.0,1195.6 1006.0,1195.6 1007.0,1195.6 1008.0,1195.6 1009.0,1195.6 1010.0,1195.6 1011.0,1195.6 1012.0,1195.6 1013.0,1195.6 1014.0,1195.6 1015.0,1195.6 1016.0,1195.6 1017.0,1195.6 1018.0,1195.6 1019.0,1195.6 1020.0,1195.6 1021.0,1195.6 1022.0,1195.6 1023.0,1195.6 1024.0,1195.6 1025.0,1195.6 1026.0,1195.6 1027.0,1195.6 1028.0,1195.6 1029.0,1195.6 1030.0,1195.6 1031.0,1195.6 1032.0,1195.6 1033.0,1195.6 1034.0,1195.6 1035.0,1195.6 1036.0,1195.6 1037.0,1195.6 1038.0,1195.6 1039.0,1195.6 1040.0,1195.6 1041.0,1195.6 1042.0,1195.6 1043.0,1195.6 1044.0,1195.6 1045.0,1195.6 1046.0,1195.6 1047.0,1195.6 1048.0,1195.6 1049.0,1195.6 1050.0,1195.6 1051.0,1195.6 1052.0,1195.6 1053.0,1195.6 1054.0,1195.6 1055.0,1195.6 1056.0,1195.6 1057.0,1195.6 1058.0,1195.6 1059.0,1195.6 1060.0,1195.6 1061.0,1195.6 1062.0,1195.6 1063.0,1195.6 1064.0,1195.6 1065.0,1195.6 1066.0,1195.6 1067.0,1195.6 1068.0,1195.6 1069.0,1195.6 1070.0,1195.6 1071.0,1195.6 1072.0,1195.6 1073.0,1195.6 1074.0,1195.6 1075.0,1195.6 1076.0,1195.6 1077.0,1195.6 1078.0,1195.6 1079.0,1195.6 1080.0,1195.6 1081.0,1195.6 1082.0,1195.6 1083.0,1195.6 1084.0,1195.6 1085.0,1195.6 1086.0,1195.6 1087.0,1195.6 1088.0,1195.6 1089.0,1195.6 1090.0,1195.6 1091.0,1195.6 1092.0,1195.6 1093.0,1195.6 1094.0,1195.6 1095.0,1195.6 1096.0,1195.6 1097.0,1195.6 1098.0,1195.6 1099.0,1195.6 1100.0,1195.6 1101.0,1195.6 1102.0,1195.6 1103.0,1195.6 1104.0,1195.6 1105.0,1195.6 1106.0,1195.6 1107.0,1195.6 1108.0,1195.6 1109.0,1195.6 1110.0,1195.6 1111.0,1195.6 1112.0,1195.6 1113.0,1195.6 1114.0,1195.6 1115.0,1195.6 1116.0,1195.6 1117.0,1195.6 1118.0,1195.6 1119.0,1195.6 1120.0,1195.6 1121.0,1195.6 1122.0,1195.6 1123.0,1195.6 1124.0,1195.6 1125.0,1195.6 1126.0,1195.6 1127.0,1195.6 1128.0,1195.6 1129.0,1195.6 1130.0,1195.6 1131.0,1195.6 1132.0,1195.6 1133.0,1195.6 1134.0,1195.6 1135.0,1195.6 1136.0,1195.6 1137.0,1195.6 1138.0,1195.6 1139.0,1195.6 1140.0,1195.6 1141.0,1195.6 1142.0,1195.6 1143.0,1195.6 1144.0,1195.6 1145.0,1195.6 1146.0,1195.6 1147.0,1195.6 1148.0,1195.6 1149.0,1195.6 1150.0,1195.6 1151.0,1195.6 1152.0,1195.6 1153.0,1195.6 1154.0,1195.6 1155.0,1195.6 1156.0,1195.6 1157.0,1195.6 1158.0,1195.6 1159.0,1195.6 1160.0,1195.6 1161.0,1195.6 1162.0,1195.6 1163.0,1195.6 1164.0,1195.6 1165.0,1195.6 1166.0,1195.6 1167.0,1195.6 1168.0,1195.6 1169.0,1195.6 1170.0,1195.6 1171.0,1195.6 1172.0,1195.6 1173.0,1195.6 1174.0,1195.6 1175.0,1195.6 1176.0,1195.6" fill="none" stroke="#079020" stroke-width="5.2" stroke-linejoin="round" stroke-linecap="round" />
<polyline points="129.0,1421.6 130.0,1421.6 131.0,1421.6 132.0,1421.6 133.0,1421.6 134.0,1421.6 135.0,1421.6 136.0,1421.6 137.0,1421.6 138.0,1421.6 139.0,1421.6 140.0,1421.6 141.0,1421.6 142.0,1421.6 143.0,1421.6 144.0,1421.6 145.0,1421.6 146.0,1421.6 147.0,1421.6 148.0,1421.6 149.0,1421.6 150.0,1421.6 151.0,1421.6 152.0,1421.6 153.0,1421.6 154.0,1421.6 155.0,1421.6 156.0,1421.6 157.0,1421.6 158.0,1421.6 159.0,1421.6 160.0,1421.6 161.0,1421.6 162.0,1421.6 163.0,1421.6 164.0,1421.6 165.0,1421.6 166.0,1421.6 167.0,1421.6 168.0,1421.6 169.0,1421.6 170.0,1421.6 171.0,1421.6 172.0,1421.6 173.0,1421.6 174.0,1421.6 175.0,1421.6 176.0,1421.6 177.0,1421.6 178.0,1421.6 179.0,1421.6 180.0,1421.6 181.0,1421.6 182.0,1421.6 183.0,1421.6 184.0,1421.6 185.0,1421.6 186.0,1421.6 187.0,1421.6 188.0,1421.6 189.0,1421.6 190.0,1421.6 191.0,1421.6 192.0,1421.6 193.0,1421.6 194.0,1421.6 195.0,1421.6 196.0,1421.6 197.0,1421.6 198.0,1421.6 199.0,1421.6 200.0,1421.6 201.0,1421.6 202.0,1421.6 203.0,1421.6 204.0,1421.6 205.0,1421.6 206.0,1421.6 207.0,1421.6 208.0,1421.6 209.0,1421.6 210.0,1421.6 211.0,1421.6 212.0,1421.6 213.0,1421.6 214.0,1421.6 215.0,1421.6 216.0,1421.6 217.0,1421.6 218.0,1421.6 219.0,1421.6 220.0,1421.6 221.0,1421.6 222.0,1421.6 223.0,1421.6 224.0,1421.6 225.0,1421.6 226.0,1421.6 227.0,1421.6 228.0,1421.6 229.0,1421.6 230.0,1421.6 231.0,1421.6 232.0,1421.6 233.0,1421.6 234.0,1421.6 235.0,1421.6 236.0,1421.6 237.0,1421.6 238.0,1421.6 239.0,1421.6 240.0,1421.6 241.0,1421.6 242.0,1421.6 243.0,1421.6 244.0,1421.6 245.0,1421.6 246.0,1421.6 247.0,1421.6 248.0,1421.6 249.0,1421.6 250.0,1421.6 251.0,1421.6 252.0,1421.6 253.0,1421.6 254.0,1421.6 255.0,1421.6 256.0,1421.6 257.0,1421.6 258.0,1421.6 259.0,1421.6 260.0,1421.6 261.0,1421.6 262.0,1421.6 263.0,1421.6 264.0,1421.6 265.0,1421.6 266.0,1421.6 267.0,1421.6 268.0,1421.6 269.0,1421.6 270.0,1421.6 271.0,1421.6 272.0,1421.6 273.0,1421.6 274.0,1421.6 275.0,1421.6 276.0,1421.6 277.0,1421.6 278.0,1421.6 279.0,1421.6 280.0,1421.6 281.0,1421.6 282.0,1421.6 283.0,1421.6 284.0,1421.6 285.0,1421.6 286.0,1421.6 287.0,1421.5 288.0,1421.5 289.0,1421.5 290.0,1421.5 291.0,1421.5 292.0,1421.5 293.0,1421.5 294.0,1421.5 295.0,1421.5 296.0,1421.5 297.0,1421.5 298.0,1421.5 299.0,1421.5 300.0,1421.4 301.0,1421.4 302.0,1421.4 303.0,1421.4 304.0,1421.4 305.0,1421.4 306.0,1421.3 307.0,1421.3 308.0,1421.3 309.0,1421.3 310.0,1421.3 311.0,1421.2 312.0,1421.2 313.0,1421.2 314.0,1421.1 315.0,1421.1 316.0,1421.1 317.0,1421.0 318.0,1421.0 319.0,1421.0 320.0,1420.9 321.0,1420.9 322.0,1420.8 323.0,1420.8 324.0,1420.7 325.0,1420.7 326.0,1420.6 327.0,1420.5 328.0,1420.5 329.0,1420.4 330.0,1420.3 331.0,1420.3 332.0,1420.2 333.0,1420.1 334.0,1420.1 335.0,1420.0 336.0,1419.9 337.0,1419.8 338.0,1419.7 339.0,1419.6 340.0,1419.6 341.0,1419.5 342.0,1419.4 343.0,1419.3 344.0,1419.2 345.0,1419.1 346.0,1419.0 347.0,1418.9 348.0,1418.8 349.0,1418.7 350.0,1418.6 351.0,1418.5 352.0,1418.4 353.0,1418.2 354.0,1418.1 355.0,1418.0 356.0,1417.9 357.0,1417.8 358.0,1417.7 359.0,1417.6 360.0,1417.4 361.0,1417.3 362.0,1417.2 363.0,1417.1 364.0,1416.9 365.0,1416.8 366.0,1416.6 367.0,1416.5 368.0,1416.3 369.0,1416.2 370.0,1416.0 371.0,1415.8 372.0,1415.6 373.0,1415.4 374.0,1415.2 375.0,1415.0 376.0,1414.7 377.0,1414.5 378.0,1414.2 379.0,1413.9 380.0,1413.5 381.0,1413.2 382.0,1412.8 383.0,1412.4 384.0,1411.9 385.0,1411.4 386.0,1410.9 387.0,1410.4 388.0,1409.8 389.0,1409.1 390.0,1408.5 391.0,1407.7 392.0,1406.9 393.0,1406.1 394.0,1405.2 395.0,1404.3 396.0,1403.3 397.0,1402.2 398.0,1401.1 399.0,1399.9 400.0,1398.7 401.0,1397.4 402.0,1396.1 403.0,1394.7 404.0,1393.2 405.0,1391.7 406.0,1390.2 407.0,1388.6 408.0,1387.0 409.0,1385.3 410.0,1383.6 411.0,1381.9 412.0,1380.2 413.0,1378.4 414.0,1376.7 415.0,1374.9 416.0,1373.2 417.0,1371.5 418.0,1369.8 419.0,1368.2 420.0,1366.6 421.0,1365.1 422.0,1363.7 423.0,1362.3 424.0,1361.1 425.0,1360.0 426.0,1358.9 427.0,1358.1 428.0,1357.3 429.0,1356.8 430.0,1356.4 431.0,1356.1 432.0,1356.1 433.0,1356.2 434.0,1356.6 435.0,1357.1 436.0,1357.9 437.0,1358.8 438.0,1360.0 439.0,1361.4 440.0,1363.0 441.0,1364.9 442.0,1366.9 443.0,1369.2 444.0,1371.6 445.0,1374.3 446.0,1377.1 447.0,1380.1 448.0,1383.3 449.0,1386.6 450.0,1390.1 451.0,1393.7 452.0,1397.3 453.0,1401.1 454.0,1404.9 455.0,1408.8 456.0,1412.7 457.0,1416.6 458.0,1420.5 459.0,1424.4 460.0,1428.2 461.0,1431.9 462.0,1435.4 463.0,1438.9 464.0,1442.2 465.0,1445.4 466.0,1448.4 467.0,1451.1 468.0,1453.7 469.0,1456.0 470.0,1458.1 471.0,1459.9 472.0,1461.4 473.0,1462.7 474.0,1463.7 475.0,1464.4 476.0,1464.8 477.0,1465.0 478.0,1464.8 479.0,1464.4 480.0,1463.6 481.0,1462.6 482.0,1461.4 483.0,1459.8 484.0,1458.0 485.0,1455.9 486.0,1453.7 487.0,1451.2 488.0,1448.5 489.0,1445.6 490.0,1442.5 491.0,1439.3 492.0,1435.9 493.0,1432.5 494.0,1428.9 495.0,1425.3 496.0,1421.6 497.0,1417.8 498.0,1414.1 499.0,1410.4 500.0,1406.7 501.0,1403.1 502.0,1399.5 503.0,1396.0 504.0,1392.7 505.0,1389.5 506.0,1386.4 507.0,1383.5 508.0,1380.8 509.0,1378.3 510.0,1375.9 511.0,1373.9 512.0,1372.0 513.0,1370.4 514.0,1369.1 515.0,1368.0 516.0,1367.2 517.0,1366.7 518.0,1366.4 519.0,1366.4 520.0,1366.6 521.0,1367.2 522.0,1367.9 523.0,1369.0 524.0,1370.2 525.0,1371.7 526.0,1373.4 527.0,1375.3 528.0,1377.4 529.0,1379.7 530.0,1382.1 531.0,1384.6 532.0,1387.2 533.0,1389.9 534.0,1392.7 535.0,1395.5 536.0,1398.3 537.0,1401.1 538.0,1403.9 539.0,1406.6 540.0,1409.3 541.0,1411.8 542.0,1414.3 543.0,1416.6 544.0,1418.7 545.0,1420.7 546.0,1422.5 547.0,1424.1 548.0,1425.5 549.0,1426.7 550.0,1427.7 551.0,1428.5 552.0,1429.1 553.0,1429.5 554.0,1429.6 555.0,1429.6 556.0,1429.4 557.0,1429.0 558.0,1428.4 559.0,1427.7 560.0,1426.9 561.0,1425.9 562.0,1424.9 563.0,1423.7 564.0,1422.5 565.0,1421.3 566.0,1420.1 567.0,1418.8 568.0,1417.6 569.0,1416.5 570.0,1415.4 571.0,1414.4 572.0,1413.5 573.0,1412.7 574.0,1412.1 575.0,1411.7 576.0,1411.4 577.0,1411.3 578.0,1411.4 579.0,1411.7 580.0,1412.2 581.0,1412.9 582.0,1413.8 583.0,1415.0 584.0,1416.3 585.0,1417.9 586.0,1419.7 587.0,1421.6 588.0,1423.7 589.0,1426.0 590.0,1428.4 591.0,1431.0 592.0,1433.6 593.0,1436.4 594.0,1439.2 595.0,1442.0 596.0,1444.9 597.0,1447.7 598.0,1450.6 599.0,1453.3 600.0,1456.0 601.0,1458.6 602.0,1461.1 603.0,1463.4 604.0,1465.6 605.0,1467.6 606.0,1469.4 607.0,1471.0 608.0,1472.3 609.0,1473.4 610.0,1474.3 611.0,1474.8 612.0,1475.2 613.0,1475.2 614.0,1475.0 615.0,1474.4 616.0,1473.6 617.0,1472.6 618.0,1471.2 619.0,1469.6 620.0,1467.7 621.0,1465.5 622.0,1463.2 623.0,1460.6 624.0,1457.7 625.0,1454.7 626.0,1451.5 627.0,1448.2 628.0,1444.7 629.0,1441.0 630.0,1437.3 631.0,1433.5 632.0,1429.6 633.0,1425.7 634.0,1421.7 635.0,1417.8 636.0,1413.9 637.0,1410.0 638.0,1406.2 639.0,1402.5 640.0,1398.9 641.0,1395.5 642.0,1392.2 643.0,1389.1 644.0,1386.1 645.0,1383.4 646.0,1380.9 647.0,1378.6 648.0,1376.6 649.0,1374.8 650.0,1373.3 651.0,1372.0 652.0,1371.0 653.0,1370.3 654.0,1369.9 655.0,1369.8 656.0,1369.9 657.0,1370.3 658.0,1371.0 659.0,1371.9 660.0,1373.1 661.0,1374.5 662.0,1376.1 663.0,1377.9 664.0,1380.0 665.0,1382.2 666.0,1384.5 667.0,1387.0 668.0,1389.6 669.0,1392.3 670.0,1395.0 671.0,1397.8 672.0,1400.6 673.0,1403.4 674.0,1406.1 675.0,1408.9 676.0,1411.5 677.0,1414.0 678.0,1416.4 679.0,1418.7 680.0,1420.9 681.0,1422.8 682.0,1424.6 683.0,1426.2 684.0,1427.6 685.0,1428.8 686.0,1429.7 687.0,1430.5 688.0,1431.0 689.0,1431.4 690.0,1431.5 691.0,1431.4 692.0,1431.1 693.0,1430.7 694.0,1430.1 695.0,1429.3 696.0,1428.4 697.0,1427.3 698.0,1426.2 699.0,1425.0 700.0,1423.7 701.0,1422.4 702.0,1421.0 703.0,1419.7 704.0,1418.4 705.0,1417.1 706.0,1415.9 707.0,1414.8 708.0,1413.8 709.0,1412.9 710.0,1412.1 711.0,1411.6 712.0,1411.2 713.0,1410.9 714.0,1410.9 715.0,1411.1 716.0,1411.5 717.0,1412.1 718.0,1412.9 719.0,1414.0 720.0,1415.2 721.0,1416.7 722.0,1418.4 723.0,1420.3 724.0,1422.3 725.0,1424.5 726.0,1426.9 727.0,1429.4 728.0,1432.1 729.0,1434.8 730.0,1437.7 731.0,1440.5 732.0,1443.5 733.0,1446.4 734.0,1449.3 735.0,1452.2 736.0,1455.0 737.0,1457.7 738.0,1460.3 739.0,1462.9 740.0,1465.2 741.0,1467.4 742.0,1469.4 743.0,1471.2 744.0,1472.8 745.0,1474.2 746.0,1475.3 747.0,1476.1 748.0,1476.8 749.0,1477.1 750.0,1477.2 751.0,1477.0 752.0,1476.5 753.0,1475.8 754.0,1474.8 755.0,1473.5 756.0,1471.9 757.0,1470.2 758.0,1468.1 759.0,1465.9 760.0,1463.4 761.0,1460.7 762.0,1457.9 763.0,1454.8 764.0,1451.7 765.0,1448.3 766.0,1444.9 767.0,1441.3 768.0,1437.7 769.0,1434.1 770.0,1430.4 771.0,1426.6 772.0,1422.9 773.0,1419.2 774.0,1415.6 775.0,1412.0 776.0,1408.6 777.0,1405.2 778.0,1402.0 779.0,1398.9 780.0,1396.0 781.0,1393.3 782.0,1390.8 783.0,1388.5 784.0,1386.4 785.0,1384.6 786.0,1383.0 787.0,1381.7 788.0,1380.6 789.0,1379.9 790.0,1379.4 791.0,1379.2 792.0,1379.3 793.0,1379.7 794.0,1380.3 795.0,1381.3 796.0,1382.5 797.0,1384.0 798.0,1385.8 799.0,1387.8 800.0,1390.1 801.0,1392.5 802.0,1395.2 803.0,1398.2 804.0,1401.2 805.0,1404.5 806.0,1407.9 807.0,1411.4 808.0,1415.1 809.0,1418.8 810.0,1422.6 811.0,1426.4 812.0,1430.2 813.0,1434.1 814.0,1437.9 815.0,1441.6 816.0,1445.3 817.0,1449.0 818.0,1452.5 819.0,1455.9 820.0,1459.1 821.0,1462.3 822.0,1465.2 823.0,1468.0 824.0,1470.6 825.0,1473.0 826.0,1475.2 827.0,1477.2 828.0,1478.9 829.0,1480.5 830.0,1481.8 831.0,1483.0 832.0,1483.9 833.0,1484.6 834.0,1485.1 835.0,1485.3 836.0,1485.4 837.0,1485.3 838.0,1485.0 839.0,1484.6 840.0,1484.0 841.0,1483.2 842.0,1482.3 843.0,1481.2 844.0,1480.0 845.0,1478.7 846.0,1477.3 847.0,1475.8 848.0,1474.3 849.0,1472.7 850.0,1471.0 851.0,1469.3 852.0,1467.5 853.0,1465.7 854.0,1463.9 855.0,1462.1 856.0,1460.4 857.0,1458.6 858.0,1456.8 859.0,1455.1 860.0,1453.4 861.0,1451.8 862.0,1450.2 863.0,1448.6 864.0,1447.1 865.0,1445.7 866.0,1444.3 867.0,1443.0 868.0,1441.8 869.0,1440.6 870.0,1439.5 871.0,1438.4 872.0,1437.4 873.0,1436.5 874.0,1435.7 875.0,1434.9 876.0,1434.2 877.0,1433.5 878.0,1432.9 879.0,1432.4 880.0,1431.9 881.0,1431.4 882.0,1431.0 883.0,1430.7 884.0,1430.4 885.0,1430.1 886.0,1429.9 887.0,1429.6 888.0,1429.5 889.0,1429.3 890.0,1429.2 891.0,1429.0 892.0,1428.9 893.0,1428.8 894.0,1428.7 895.0,1428.6 896.0,1428.5 897.0,1428.4 898.0,1428.4 899.0,1428.3 900.0,1428.2 901.0,1428.0 902.0,1427.9 903.0,1427.8 904.0,1427.7 905.0,1427.5 906.0,1427.4 907.0,1427.2 908.0,1427.1 909.0,1426.9 910.0,1426.7 911.0,1426.5 912.0,1426.3 913.0,1426.1 914.0,1425.9 915.0,1425.7 916.0,1425.5 917.0,1425.3 918.0,1425.1 919.0,1424.9 920.0,1424.7 921.0,1424.5 922.0,1424.3 923.0,1424.1 924.0,1423.9 925.0,1423.8 926.0,1423.6 927.0,1423.4 928.0,1423.3 929.0,1423.2 930.0,1423.0 931.0,1422.9 932.0,1422.8 933.0,1422.7 934.0,1422.6 935.0,1422.5 936.0,1422.4 937.0,1422.3 938.0,1422.2 939.0,1422.2 940.0,1422.1 941.0,1422.0 942.0,1422.0 943.0,1422.0 944.0,1421.9 945.0,1421.9 946.0,1421.9 947.0,1421.8 948.0,1421.8 949.0,1421.8 950.0,1421.8 951.0,1421.7 952.0,1421.7 953.0,1421.7 954.0,1421.7 955.0,1421.7 956.0,1421.7 957.0,1421.7 958.0,1421.7 959.0,1421.7 960.0,1421.7 961.0,1421.7 962.0,1421.7 963.0,1421.7 964.0,1421.7 965.0,1421.7 966.0,1421.7 967.0,1421.7 968.0,1421.6 969.0,1421.6 970.0,1421.6 971.0,1421.6 972.0,1421.6 973.0,1421.6 974.0,1421.6 975.0,1421.6 976.0,1421.6 977.0,1421.6 978.0,1421.6 979.0,1421.6 980.0,1421.6 981.0,1421.6 982.0,1421.6 983.0,1421.6 984.0,1421.6 985.0,1421.6 986.0,1421.6 987.0,1421.6 988.0,1421.6 989.0,1421.6 990.0,1421.6 991.0,1421.6 992.0,1421.6 993.0,1421.6 994.0,1421.6 995.0,1421.6 996.0,1421.6 997.0,1421.6 998.0,1421.6 999.0,1421.6 1000.0,1421.6 1001.0,1421.6 1002.0,1421.6 1003.0,1421.6 1004.0,1421.6 1005.0,1421.6 1006.0,1421.6 1007.0,1421.6 1008.0,1421.6 1009.0,1421.6 1010.0,1421.6 1011.0,1421.6 1012.0,1421.6 1013.0,1421.6 1014.0,1421.6 1015.0,1421.6 1016.0,1421.6 1017.0,1421.6 1018.0,1421.6 1019.0,1421.6 1020.0,1421.6 1021.0,1421.6 1022.0,1421.6 1023.0,1421.6 1024.0,1421.6 1025.0,1421.6 1026.0,1421.6 1027.0,1421.6 1028.0,1421.6 1029.0,1421.6 1030.0,1421.6 1031.0,1421.6 1032.0,1421.6 1033.0,1421.6 1034.0,1421.6 1035.0,1421.6 1036.0,1421.6 1037.0,1421.6 1038.0,1421.6 1039.0,1421.6 1040.0,1421.6 1041.0,1421.6 1042.0,1421.6 1043.0,1421.6 1044.0,1421.6 1045.0,1421.6 1046.0,1421.6 1047.0,1421.6 1048.0,1421.6 1049.0,1421.6 1050.0,1421.6 1051.0,1421.6 1052.0,1421.6 1053.0,1421.6 1054.0,1421.6 1055.0,1421.6 1056.0,1421.6 1057.0,1421.6 1058.0,1421.6 1059.0,1421.6 1060.0,1421.6 1061.0,1421.6 1062.0,1421.6 1063.0,1421.6 1064.0,1421.6 1065.0,1421.6 1066.0,1421.6 1067.0,1421.6 1068.0,1421.6 1069.0,1421.6 1070.0,1421.6 1071.0,1421.6 1072.0,1421.6 1073.0,1421.6 1074.0,1421.6 1075.0,1421.6 1076.0,1421.6 1077.0,1421.6 1078.0,1421.6 1079.0,1421.6 1080.0,1421.6 1081.0,1421.6 1082.0,1421.6 1083.0,1421.6 1084.0,1421.6 1085.0,1421.6 1086.0,1421.6 1087.0,1421.6 1088.0,1421.6 1089.0,1421.6 1090.0,1421.6 1091.0,1421.6 1092.0,1421.6 1093.0,1421.6 1094.0,1421.6 1095.0,1421.6 1096.0,1421.6 1097.0,1421.6 1098.0,1421.6 1099.0,1421.6 1100.0,1421.6 1101.0,1421.6 1102.0,1421.6 1103.0,1421.6 1104.0,1421.6 1105.0,1421.6 1106.0,1421.6 1107.0,1421.6 1108.0,1421.6 1109.0,1421.6 1110.0,1421.6 1111.0,1421.6 1112.0,1421.6 1113.0,1421.6 1114.0,1421.6 1115.0,1421.6 1116.0,1421.6 1117.0,1421.6 1118.0,1421.6 1119.0,1421.6 1120.0,1421.6 1121.0,1421.6 1122.0,1421.6 1123.0,1421.6 1124.0,1421.6 1125.0,1421.6 1126.0,1421.6 1127.0,1421.6 1128.0,1421.6 1129.0,1421.6 1130.0,1421.6 1131.0,1421.6 1132.0,1421.6 1133.0,1421.6 1134.0,1421.6 1135.0,1421.6 1136.0,1421.6 1137.0,1421.6 1138.0,1421.6 1139.0,1421.6 1140.0,1421.6 1141.0,1421.6 1142.0,1421.6 1143.0,1421.6 1144.0,1421.6 1145.0,1421.6 1146.0,1421.6 1147.0,1421.6 1148.0,1421.6 1149.0,1421.6 1150.0,1421.6 1151.0,1421.6 1152.0,1421.6 1153.0,1421.6 1154.0,1421.6 1155.0,1421.6 1156.0,1421.6 1157.0,1421.6 1158.0,1421.6 1159.0,1421.6 1160.0,1421.6 1161.0,1421.6 1162.0,1421.6 1163.0,1421.6 1164.0,1421.6 1165.0,1421.6 1166.0,1421.6 1167.0,1421.6 1168.0,1421.6 1169.0,1421.6 1170.0,1421.6 1171.0,1421.6 1172.0,1421.6 1173.0,1421.6 1174.0,1421.6 1175.0,1421.6 1176.0,1421.6" fill="none" stroke="#10108C" stroke-width="4.2" stroke-linejoin="round" stroke-linecap="round" />
<polyline points="129.0,1423.5 130.0,1423.4 131.0,1423.4 132.0,1423.4 133.0,1423.4 134.0,1423.4 135.0,1423.4 136.0,1423.4 137.0,1423.4 138.0,1423.4 139.0,1423.4 140.0,1423.4 141.0,1423.4 142.0,1423.4 143.0,1423.4 144.0,1423.4 145.0,1423.4 146.0,1423.4 147.0,1423.4 148.0,1423.4 149.0,1423.4 150.0,1423.4 151.0,1423.4 152.0,1423.4 153.0,1423.4 154.0,1423.4 155.0,1423.4 156.0,1423.4 157.0,1423.4 158.0,1423.4 159.0,1423.4 160.0,1423.4 161.0,1423.4 162.0,1423.4 163.0,1423.4 164.0,1423.4 165.0,1423.4 166.0,1423.4 167.0,1423.4 168.0,1423.4 169.0,1423.4 170.0,1423.4 171.0,1423.4 172.0,1423.4 173.0,1423.4 174.0,1423.4 175.0,1423.4 176.0,1423.4 177.0,1423.4 178.0,1423.4 179.0,1423.4 180.0,1423.4 181.0,1423.4 182.0,1423.4 183.0,1423.4 184.0,1423.4 185.0,1423.4 186.0,1423.4 187.0,1423.4 188.0,1423.4 189.0,1423.4 190.0,1423.4 191.0,1423.4 192.0,1423.4 193.0,1423.4 194.0,1423.4 195.0,1423.4 196.0,1423.4 197.0,1423.4 198.0,1423.4 199.0,1423.4 200.0,1423.4 201.0,1423.4 202.0,1423.4 203.0,1423.4 204.0,1423.4 205.0,1423.4 206.0,1423.4 207.0,1423.4 208.0,1423.4 209.0,1423.4 210.0,1423.4 211.0,1423.4 212.0,1423.4 213.0,1423.4 214.0,1423.4 215.0,1423.4 216.0,1423.4 217.0,1423.4 218.0,1423.4 219.0,1423.4 220.0,1423.4 221.0,1423.4 222.0,1423.4 223.0,1423.4 224.0,1423.4 225.0,1423.4 226.0,1423.4 227.0,1423.4 228.0,1423.4 229.0,1423.4 230.0,1423.4 231.0,1423.4 232.0,1423.4 233.0,1423.4 234.0,1423.4 235.0,1423.4 236.0,1423.4 237.0,1423.4 238.0,1423.4 239.0,1423.4 240.0,1423.4 241.0,1423.4 242.0,1423.4 243.0,1423.4 244.0,1423.4 245.0,1423.4 246.0,1423.4 247.0,1423.4 248.0,1423.4 249.0,1423.4 250.0,1423.4 251.0,1423.4 252.0,1423.4 253.0,1423.4 254.0,1423.4 255.0,1423.4 256.0,1423.4 257.0,1423.4 258.0,1423.4 259.0,1423.4 260.0,1423.4 261.0,1423.4 262.0,1423.4 263.0,1423.4 264.0,1423.4 265.0,1423.4 266.0,1423.3 267.0,1423.3 268.0,1423.3 269.0,1423.3 270.0,1423.3 271.0,1423.3 272.0,1423.3 273.0,1423.3 274.0,1423.3 275.0,1423.3 276.0,1423.3 277.0,1423.3 278.0,1423.3 279.0,1423.3 280.0,1423.3 281.0,1423.3 282.0,1423.3 283.0,1423.3 284.0,1423.3 285.0,1423.3 286.0,1423.3 287.0,1423.3 288.0,1423.2 289.0,1423.2 290.0,1423.2 291.0,1423.2 292.0,1423.2 293.0,1423.2 294.0,1423.2 295.0,1423.2 296.0,1423.2 297.0,1423.1 298.0,1423.1 299.0,1423.1 300.0,1423.1 301.0,1423.1 302.0,1423.1 303.0,1423.0 304.0,1423.0 305.0,1423.0 306.0,1423.0 307.0,1422.9 308.0,1422.9 309.0,1422.9 310.0,1422.9 311.0,1422.8 312.0,1422.8 313.0,1422.8 314.0,1422.7 315.0,1422.7 316.0,1422.7 317.0,1422.6 318.0,1422.6 319.0,1422.5 320.0,1422.5 321.0,1422.5 322.0,1422.4 323.0,1422.4 324.0,1422.3 325.0,1422.3 326.0,1422.2 327.0,1422.2 328.0,1422.1 329.0,1422.0 330.0,1422.0 331.0,1421.9 332.0,1421.9 333.0,1421.8 334.0,1421.7 335.0,1421.7 336.0,1421.6 337.0,1421.5 338.0,1421.5 339.0,1421.4 340.0,1421.3 341.0,1421.3 342.0,1421.2 343.0,1421.1 344.0,1421.1 345.0,1421.0 346.0,1420.9 347.0,1420.9 348.0,1420.8 349.0,1420.7 350.0,1420.6 351.0,1420.6 352.0,1420.5 353.0,1420.4 354.0,1420.4 355.0,1420.3 356.0,1420.2 357.0,1420.1 358.0,1420.1 359.0,1420.0 360.0,1419.9 361.0,1419.8 362.0,1419.7 363.0,1419.6 364.0,1419.5 365.0,1419.4 366.0,1419.3 367.0,1419.2 368.0,1419.1 369.0,1418.9 370.0,1418.8 371.0,1418.6 372.0,1418.4 373.0,1418.2 374.0,1418.0 375.0,1417.8 376.0,1417.5 377.0,1417.3 378.0,1417.0 379.0,1416.6 380.0,1416.2 381.0,1415.8 382.0,1415.4 383.0,1414.9 384.0,1414.4 385.0,1413.8 386.0,1413.2 387.0,1412.5 388.0,1411.7 389.0,1410.9 390.0,1410.1 391.0,1409.1 392.0,1408.1 393.0,1407.1 394.0,1405.9 395.0,1404.7 396.0,1403.4 397.0,1402.0 398.0,1400.5 399.0,1398.9 400.0,1397.3 401.0,1395.5 402.0,1393.7 403.0,1391.8 404.0,1389.8 405.0,1387.8 406.0,1385.6 407.0,1383.4 408.0,1381.1 409.0,1378.8 410.0,1376.4 411.0,1374.0 412.0,1371.5 413.0,1369.0 414.0,1366.5 415.0,1363.9 416.0,1361.4 417.0,1358.9 418.0,1356.4 419.0,1354.0 420.0,1351.6 421.0,1349.4 422.0,1347.2 423.0,1345.1 424.0,1343.1 425.0,1341.3 426.0,1339.6 427.0,1338.2 428.0,1336.9 429.0,1335.8 430.0,1335.0 431.0,1334.4 432.0,1334.0 433.0,1333.9 434.0,1334.1 435.0,1334.6 436.0,1335.4 437.0,1336.5 438.0,1337.9 439.0,1339.7 440.0,1341.7 441.0,1344.1 442.0,1346.9 443.0,1349.9 444.0,1353.3 445.0,1357.0 446.0,1361.0 447.0,1365.3 448.0,1369.8 449.0,1374.6 450.0,1379.7 451.0,1384.9 452.0,1390.4 453.0,1396.0 454.0,1401.7 455.0,1407.4 456.0,1413.3 457.0,1419.1 458.0,1424.9 459.0,1430.6 460.0,1436.2 461.0,1441.7 462.0,1447.0 463.0,1452.1 464.0,1456.9 465.0,1461.5 466.0,1465.7 467.0,1469.6 468.0,1473.2 469.0,1476.3 470.0,1479.1 471.0,1481.5 472.0,1483.5 473.0,1485.1 474.0,1486.2 475.0,1487.0 476.0,1487.3 477.0,1487.1 478.0,1486.6 479.0,1485.6 480.0,1484.3 481.0,1482.5 482.0,1480.4 483.0,1477.9 484.0,1475.1 485.0,1471.9 486.0,1468.4 487.0,1464.6 488.0,1460.6 489.0,1456.2 490.0,1451.7 491.0,1447.0 492.0,1442.1 493.0,1437.1 494.0,1431.9 495.0,1426.7 496.0,1421.4 497.0,1416.0 498.0,1410.7 499.0,1405.4 500.0,1400.1 501.0,1395.0 502.0,1389.9 503.0,1385.0 504.0,1380.2 505.0,1375.7 506.0,1371.4 507.0,1367.3 508.0,1363.5 509.0,1359.9 510.0,1356.7 511.0,1353.8 512.0,1351.3 513.0,1349.1 514.0,1347.3 515.0,1345.8 516.0,1344.8 517.0,1344.1 518.0,1343.8 519.0,1344.0 520.0,1344.5 521.0,1345.4 522.0,1346.7 523.0,1348.5 524.0,1350.5 525.0,1353.0 526.0,1355.7 527.0,1358.8 528.0,1362.2 529.0,1365.8 530.0,1369.7 531.0,1373.8 532.0,1378.1 533.0,1382.5 534.0,1387.0 535.0,1391.6 536.0,1396.2 537.0,1400.7 538.0,1405.2 539.0,1409.5 540.0,1413.7 541.0,1417.8 542.0,1421.6 543.0,1425.1 544.0,1428.4 545.0,1431.3 546.0,1433.9 547.0,1436.2 548.0,1438.2 549.0,1439.7 550.0,1440.9 551.0,1441.8 552.0,1442.3 553.0,1442.4 554.0,1442.2 555.0,1441.7 556.0,1440.8 557.0,1439.7 558.0,1438.3 559.0,1436.7 560.0,1434.9 561.0,1432.9 562.0,1430.8 563.0,1428.5 564.0,1426.2 565.0,1423.8 566.0,1421.4 567.0,1419.1 568.0,1416.7 569.0,1414.5 570.0,1412.4 571.0,1410.5 572.0,1408.7 573.0,1407.2 574.0,1405.9 575.0,1404.9 576.0,1404.2 577.0,1403.8 578.0,1403.7 579.0,1403.9 580.0,1404.5 581.0,1405.5 582.0,1406.8 583.0,1408.5 584.0,1410.5 585.0,1412.9 586.0,1415.6 587.0,1418.7 588.0,1422.0 589.0,1425.7 590.0,1429.5 591.0,1433.6 592.0,1437.8 593.0,1442.2 594.0,1446.7 595.0,1451.2 596.0,1455.7 597.0,1460.2 598.0,1464.6 599.0,1468.9 600.0,1473.0 601.0,1477.0 602.0,1480.7 603.0,1484.2 604.0,1487.4 605.0,1490.2 606.0,1492.8 607.0,1494.9 608.0,1496.7 609.0,1498.1 610.0,1499.2 611.0,1499.8 612.0,1500.0 613.0,1499.8 614.0,1499.2 615.0,1498.2 616.0,1496.7 617.0,1494.9 618.0,1492.7 619.0,1490.1 620.0,1487.2 621.0,1483.9 622.0,1480.3 623.0,1476.4 624.0,1472.2 625.0,1467.7 626.0,1463.0 627.0,1458.1 628.0,1453.0 629.0,1447.8 630.0,1442.4 631.0,1436.9 632.0,1431.4 633.0,1425.8 634.0,1420.2 635.0,1414.6 636.0,1409.1 637.0,1403.7 638.0,1398.3 639.0,1393.2 640.0,1388.1 641.0,1383.3 642.0,1378.7 643.0,1374.4 644.0,1370.3 645.0,1366.5 646.0,1363.0 647.0,1359.9 648.0,1357.1 649.0,1354.7 650.0,1352.6 651.0,1351.0 652.0,1349.7 653.0,1348.9 654.0,1348.4 655.0,1348.4 656.0,1348.8 657.0,1349.6 658.0,1350.8 659.0,1352.3 660.0,1354.3 661.0,1356.6 662.0,1359.3 663.0,1362.3 664.0,1365.6 665.0,1369.2 666.0,1373.0 667.0,1377.0 668.0,1381.3 669.0,1385.6 670.0,1390.1 671.0,1394.6 672.0,1399.1 673.0,1403.6 674.0,1408.1 675.0,1412.4 676.0,1416.6 677.0,1420.6 678.0,1424.4 679.0,1427.9 680.0,1431.1 681.0,1434.0 682.0,1436.6 683.0,1438.9 684.0,1440.8 685.0,1442.3 686.0,1443.5 687.0,1444.3 688.0,1444.8 689.0,1444.9 690.0,1444.6 691.0,1444.0 692.0,1443.1 693.0,1442.0 694.0,1440.5 695.0,1438.9 696.0,1437.0 697.0,1434.9 698.0,1432.7 699.0,1430.3 700.0,1427.9 701.0,1425.4 702.0,1422.9 703.0,1420.4 704.0,1417.9 705.0,1415.6 706.0,1413.3 707.0,1411.2 708.0,1409.3 709.0,1407.6 710.0,1406.1 711.0,1404.9 712.0,1404.0 713.0,1403.4 714.0,1403.1 715.0,1403.2 716.0,1403.6 717.0,1404.4 718.0,1405.5 719.0,1407.0 720.0,1408.9 721.0,1411.2 722.0,1413.7 723.0,1416.6 724.0,1419.9 725.0,1423.4 726.0,1427.1 727.0,1431.1 728.0,1435.3 729.0,1439.7 730.0,1444.1 731.0,1448.7 732.0,1453.3 733.0,1457.8 734.0,1462.3 735.0,1466.8 736.0,1471.1 737.0,1475.2 738.0,1479.2 739.0,1482.9 740.0,1486.3 741.0,1489.5 742.0,1492.3 743.0,1494.8 744.0,1496.9 745.0,1498.7 746.0,1500.1 747.0,1501.1 748.0,1501.7 749.0,1502.0 750.0,1501.8 751.0,1501.2 752.0,1500.2 753.0,1498.9 754.0,1497.2 755.0,1495.0 756.0,1492.6 757.0,1489.8 758.0,1486.6 759.0,1483.2 760.0,1479.5 761.0,1475.5 762.0,1471.2 763.0,1466.7 764.0,1462.1 765.0,1457.2 766.0,1452.2 767.0,1447.1 768.0,1441.9 769.0,1436.7 770.0,1431.4 771.0,1426.1 772.0,1420.8 773.0,1415.6 774.0,1410.4 775.0,1405.4 776.0,1400.5 777.0,1395.8 778.0,1391.3 779.0,1387.0 780.0,1382.9 781.0,1379.1 782.0,1375.6 783.0,1372.4 784.0,1369.5 785.0,1367.0 786.0,1364.8 787.0,1363.0 788.0,1361.6 789.0,1360.6 790.0,1360.0 791.0,1359.8 792.0,1360.0 793.0,1360.7 794.0,1361.8 795.0,1363.3 796.0,1365.2 797.0,1367.5 798.0,1370.3 799.0,1373.4 800.0,1376.9 801.0,1380.7 802.0,1384.9 803.0,1389.4 804.0,1394.1 805.0,1399.1 806.0,1404.4 807.0,1409.8 808.0,1415.4 809.0,1421.1 810.0,1426.9 811.0,1432.7 812.0,1438.5 813.0,1444.3 814.0,1450.0 815.0,1455.6 816.0,1461.1 817.0,1466.4 818.0,1471.4 819.0,1476.3 820.0,1480.9 821.0,1485.2 822.0,1489.3 823.0,1493.0 824.0,1496.5 825.0,1499.6 826.0,1502.4 827.0,1504.9 828.0,1507.0 829.0,1508.8 830.0,1510.4 831.0,1511.5 832.0,1512.4 833.0,1513.0 834.0,1513.3 835.0,1513.3 836.0,1513.1 837.0,1512.5 838.0,1511.8 839.0,1510.8 840.0,1509.6 841.0,1508.3 842.0,1506.7 843.0,1505.0 844.0,1503.2 845.0,1501.2 846.0,1499.1 847.0,1497.0 848.0,1494.7 849.0,1492.4 850.0,1490.0 851.0,1487.7 852.0,1485.3 853.0,1482.9 854.0,1480.5 855.0,1478.1 856.0,1475.7 857.0,1473.4 858.0,1471.2 859.0,1469.0 860.0,1466.8 861.0,1464.8 862.0,1462.8 863.0,1460.8 864.0,1459.0 865.0,1457.2 866.0,1455.5 867.0,1453.9 868.0,1452.4 869.0,1451.0 870.0,1449.7 871.0,1448.4 872.0,1447.2 873.0,1446.1 874.0,1445.1 875.0,1444.1 876.0,1443.3 877.0,1442.4 878.0,1441.7 879.0,1441.0 880.0,1440.4 881.0,1439.8 882.0,1439.2 883.0,1438.7 884.0,1438.3 885.0,1437.9 886.0,1437.5 887.0,1437.1 888.0,1436.8 889.0,1436.5 890.0,1436.2 891.0,1436.0 892.0,1435.7 893.0,1435.5 894.0,1435.3 895.0,1435.1 896.0,1434.9 897.0,1434.7 898.0,1434.5 899.0,1434.3 900.0,1434.1 901.0,1433.9 902.0,1433.7 903.0,1433.6 904.0,1433.4 905.0,1433.2 906.0,1433.0 907.0,1432.8 908.0,1432.6 909.0,1432.4 910.0,1432.2 911.0,1432.0 912.0,1431.8 913.0,1431.6 914.0,1431.4 915.0,1431.1 916.0,1430.9 917.0,1430.7 918.0,1430.5 919.0,1430.3 920.0,1430.1 921.0,1429.8 922.0,1429.6 923.0,1429.4 924.0,1429.2 925.0,1429.0 926.0,1428.7 927.0,1428.5 928.0,1428.3 929.0,1428.1 930.0,1427.9 931.0,1427.7 932.0,1427.5 933.0,1427.4 934.0,1427.2 935.0,1427.0 936.0,1426.8 937.0,1426.6 938.0,1426.5 939.0,1426.3 940.0,1426.2 941.0,1426.0 942.0,1425.9 943.0,1425.8 944.0,1425.6 945.0,1425.5 946.0,1425.4 947.0,1425.3 948.0,1425.2 949.0,1425.1 950.0,1425.0 951.0,1424.9 952.0,1424.8 953.0,1424.7 954.0,1424.6 955.0,1424.6 956.0,1424.5 957.0,1424.4 958.0,1424.4 959.0,1424.3 960.0,1424.3 961.0,1424.2 962.0,1424.2 963.0,1424.1 964.0,1424.1 965.0,1424.1 966.0,1424.0 967.0,1424.0 968.0,1424.0 969.0,1423.9 970.0,1423.9 971.0,1423.9 972.0,1423.9 973.0,1423.8 974.0,1423.8 975.0,1423.8 976.0,1423.8 977.0,1423.8 978.0,1423.8 979.0,1423.7 980.0,1423.7 981.0,1423.7 982.0,1423.7 983.0,1423.7 984.0,1423.7 985.0,1423.7 986.0,1423.7 987.0,1423.7 988.0,1423.7 989.0,1423.7 990.0,1423.7 991.0,1423.7 992.0,1423.6 993.0,1423.6 994.0,1423.6 995.0,1423.6 996.0,1423.6 997.0,1423.6 998.0,1423.6 999.0,1423.6 1000.0,1423.6 1001.0,1423.6 1002.0,1423.6 1003.0,1423.6 1004.0,1423.6 1005.0,1423.6 1006.0,1423.6 1007.0,1423.6 1008.0,1423.6 1009.0,1423.6 1010.0,1423.6 1011.0,1423.6 1012.0,1423.6 1013.0,1423.6 1014.0,1423.6 1015.0,1423.6 1016.0,1423.6 1017.0,1423.6 1018.0,1423.6 1019.0,1423.6 1020.0,1423.6 1021.0,1423.6 1022.0,1423.6 1023.0,1423.6 1024.0,1423.6 1025.0,1423.6 1026.0,1423.6 1027.0,1423.6 1028.0,1423.6 1029.0,1423.6 1030.0,1423.6 1031.0,1423.6 1032.0,1423.6 1033.0,1423.6 1034.0,1423.6 1035.0,1423.6 1036.0,1423.6 1037.0,1423.6 1038.0,1423.6 1039.0,1423.6 1040.0,1423.6 1041.0,1423.6 1042.0,1423.6 1043.0,1423.6 1044.0,1423.6 1045.0,1423.6 1046.0,1423.6 1047.0,1423.6 1048.0,1423.6 1049.0,1423.6 1050.0,1423.6 1051.0,1423.6 1052.0,1423.6 1053.0,1423.6 1054.0,1423.6 1055.0,1423.6 1056.0,1423.6 1057.0,1423.6 1058.0,1423.6 1059.0,1423.6 1060.0,1423.6 1061.0,1423.6 1062.0,1423.6 1063.0,1423.6 1064.0,1423.6 1065.0,1423.6 1066.0,1423.5 1067.0,1423.5 1068.0,1423.5 1069.0,1423.5 1070.0,1423.5 1071.0,1423.5 1072.0,1423.5 1073.0,1423.5 1074.0,1423.5 1075.0,1423.5 1076.0,1423.5 1077.0,1423.5 1078.0,1423.5 1079.0,1423.5 1080.0,1423.5 1081.0,1423.5 1082.0,1423.5 1083.0,1423.5 1084.0,1423.5 1085.0,1423.5 1086.0,1423.5 1087.0,1423.5 1088.0,1423.5 1089.0,1423.5 1090.0,1423.5 1091.0,1423.5 1092.0,1423.5 1093.0,1423.5 1094.0,1423.5 1095.0,1423.5 1096.0,1423.5 1097.0,1423.5 1098.0,1423.5 1099.0,1423.5 1100.0,1423.5 1101.0,1423.5 1102.0,1423.5 1103.0,1423.5 1104.0,1423.5 1105.0,1423.5 1106.0,1423.5 1107.0,1423.5 1108.0,1423.5 1109.0,1423.5 1110.0,1423.5 1111.0,1423.5 1112.0,1423.5 1113.0,1423.5 1114.0,1423.5 1115.0,1423.5 1116.0,1423.5 1117.0,1423.5 1118.0,1423.5 1119.0,1423.5 1120.0,1423.5 1121.0,1423.5 1122.0,1423.5 1123.0,1423.5 1124.0,1423.5 1125.0,1423.5 1126.0,1423.5 1127.0,1423.5 1128.0,1423.5 1129.0,1423.5 1130.0,1423.5 1131.0,1423.5 1132.0,1423.5 1133.0,1423.5 1134.0,1423.5 1135.0,1423.5 1136.0,1423.5 1137.0,1423.5 1138.0,1423.5 1139.0,1423.5 1140.0,1423.5 1141.0,1423.5 1142.0,1423.5 1143.0,1423.5 1144.0,1423.5 1145.0,1423.5 1146.0,1423.5 1147.0,1423.5 1148.0,1423.5 1149.0,1423.5 1150.0,1423.5 1151.0,1423.5 1152.0,1423.5 1153.0,1423.5 1154.0,1423.5 1155.0,1423.5 1156.0,1423.5 1157.0,1423.5 1158.0,1423.5 1159.0,1423.5 1160.0,1423.5 1161.0,1423.5 1162.0,1423.5 1163.0,1423.5 1164.0,1423.5 1165.0,1423.5 1166.0,1423.5 1167.0,1423.5 1168.0,1423.5 1169.0,1423.5 1170.0,1423.5 1171.0,1423.5 1172.0,1423.5 1173.0,1423.5 1174.0,1423.5 1175.0,1423.5 1176.0,1423.5" fill="none" stroke="#FF0000" stroke-width="4.2" stroke-linejoin="round" stroke-linecap="round" />
<polyline points="129.0,1422.5 130.0,1422.5 131.0,1422.5 132.0,1422.5 133.0,1422.5 134.0,1422.5 135.0,1422.5 136.0,1422.5 137.0,1422.5 138.0,1422.5 139.0,1422.5 140.0,1422.5 141.0,1422.5 142.0,1422.5 143.0,1422.5 144.0,1422.5 145.0,1422.5 146.0,1422.5 147.0,1422.5 148.0,1422.5 149.0,1422.5 150.0,1422.5 151.0,1422.4 152.0,1422.4 153.0,1422.4 154.0,1422.4 155.0,1422.4 156.0,1422.4 157.0,1422.4 158.0,1422.4 159.0,1422.4 160.0,1422.4 161.0,1422.4 162.0,1422.4 163.0,1422.4 164.0,1422.4 165.0,1422.4 166.0,1422.4 167.0,1422.4 168.0,1422.4 169.0,1422.4 170.0,1422.4 171.0,1422.4 172.0,1422.4 173.0,1422.4 174.0,1422.4 175.0,1422.4 176.0,1422.4 177.0,1422.4 178.0,1422.4 179.0,1422.4 180.0,1422.4 181.0,1422.4 182.0,1422.4 183.0,1422.4 184.0,1422.4 185.0,1422.4 186.0,1422.4 187.0,1422.4 188.0,1422.4 189.0,1422.4 190.0,1422.4 191.0,1422.4 192.0,1422.4 193.0,1422.4 194.0,1422.4 195.0,1422.4 196.0,1422.4 197.0,1422.3 198.0,1422.3 199.0,1422.3 200.0,1422.3 201.0,1422.3 202.0,1422.3 203.0,1422.3 204.0,1422.3 205.0,1422.3 206.0,1422.3 207.0,1422.3 208.0,1422.3 209.0,1422.3 210.0,1422.3 211.0,1422.3 212.0,1422.3 213.0,1422.2 214.0,1422.2 215.0,1422.2 216.0,1422.2 217.0,1422.2 218.0,1422.2 219.0,1422.2 220.0,1422.2 221.0,1422.2 222.0,1422.2 223.0,1422.1 224.0,1422.1 225.0,1422.1 226.0,1422.1 227.0,1422.1 228.0,1422.1 229.0,1422.1 230.0,1422.0 231.0,1422.0 232.0,1422.0 233.0,1422.0 234.0,1422.0 235.0,1422.0 236.0,1422.0 237.0,1421.9 238.0,1421.9 239.0,1421.9 240.0,1421.9 241.0,1421.9 242.0,1421.8 243.0,1421.8 244.0,1421.8 245.0,1421.8 246.0,1421.8 247.0,1421.7 248.0,1421.7 249.0,1421.7 250.0,1421.7 251.0,1421.6 252.0,1421.6 253.0,1421.6 254.0,1421.6 255.0,1421.5 256.0,1421.5 257.0,1421.5 258.0,1421.4 259.0,1421.4 260.0,1421.4 261.0,1421.3 262.0,1421.3 263.0,1421.3 264.0,1421.2 265.0,1421.2 266.0,1421.2 267.0,1421.1 268.0,1421.1 269.0,1421.1 270.0,1421.0 271.0,1421.0 272.0,1420.9 273.0,1420.9 274.0,1420.9 275.0,1420.8 276.0,1420.8 277.0,1420.7 278.0,1420.7 279.0,1420.6 280.0,1420.6 281.0,1420.6 282.0,1420.5 283.0,1420.5 284.0,1420.4 285.0,1420.4 286.0,1420.3 287.0,1420.3 288.0,1420.2 289.0,1420.2 290.0,1420.1 291.0,1420.0 292.0,1420.0 293.0,1419.9 294.0,1419.9 295.0,1419.8 296.0,1419.8 297.0,1419.7 298.0,1419.6 299.0,1419.6 300.0,1419.5 301.0,1419.5 302.0,1419.4 303.0,1419.3 304.0,1419.3 305.0,1419.2 306.0,1419.2 307.0,1419.1 308.0,1419.0 309.0,1419.0 310.0,1418.9 311.0,1418.8 312.0,1418.8 313.0,1418.7 314.0,1418.6 315.0,1418.6 316.0,1418.5 317.0,1418.4 318.0,1418.4 319.0,1418.3 320.0,1418.2 321.0,1418.2 322.0,1418.1 323.0,1418.0 324.0,1417.9 325.0,1417.9 326.0,1417.8 327.0,1417.7 328.0,1417.7 329.0,1417.6 330.0,1417.5 331.0,1417.5 332.0,1417.4 333.0,1417.3 334.0,1417.2 335.0,1417.2 336.0,1417.1 337.0,1417.0 338.0,1417.0 339.0,1416.9 340.0,1416.8 341.0,1416.8 342.0,1416.7 343.0,1416.6 344.0,1416.6 345.0,1416.5 346.0,1416.4 347.0,1416.4 348.0,1416.3 349.0,1416.2 350.0,1416.2 351.0,1416.1 352.0,1416.0 353.0,1416.0 354.0,1415.9 355.0,1415.8 356.0,1415.8 357.0,1415.7 358.0,1415.7 359.0,1415.6 360.0,1415.5 361.0,1415.5 362.0,1415.4 363.0,1415.3 364.0,1415.3 365.0,1415.2 366.0,1415.1 367.0,1415.0 368.0,1414.9 369.0,1414.8 370.0,1414.8 371.0,1414.6 372.0,1414.5 373.0,1414.4 374.0,1414.3 375.0,1414.1 376.0,1414.0 377.0,1413.8 378.0,1413.6 379.0,1413.4 380.0,1413.2 381.0,1412.9 382.0,1412.6 383.0,1412.3 384.0,1411.9 385.0,1411.6 386.0,1411.1 387.0,1410.6 388.0,1410.1 389.0,1409.5 390.0,1408.9 391.0,1408.2 392.0,1407.4 393.0,1406.6 394.0,1405.7 395.0,1404.7 396.0,1403.7 397.0,1402.5 398.0,1401.2 399.0,1399.9 400.0,1398.5 401.0,1396.9 402.0,1395.3 403.0,1393.5 404.0,1391.7 405.0,1389.7 406.0,1387.6 407.0,1385.5 408.0,1383.2 409.0,1380.8 410.0,1378.3 411.0,1375.8 412.0,1373.2 413.0,1370.5 414.0,1367.7 415.0,1364.9 416.0,1362.0 417.0,1359.2 418.0,1356.3 419.0,1353.4 420.0,1350.6 421.0,1347.8 422.0,1345.1 423.0,1342.5 424.0,1340.0 425.0,1337.6 426.0,1335.4 427.0,1333.4 428.0,1331.5 429.0,1329.9 430.0,1328.6 431.0,1327.6 432.0,1326.8 433.0,1326.3 434.0,1326.2 435.0,1326.5 436.0,1327.1 437.0,1328.1 438.0,1329.4 439.0,1331.2 440.0,1333.3 441.0,1335.9 442.0,1338.8 443.0,1342.2 444.0,1345.9 445.0,1350.0 446.0,1354.4 447.0,1359.1 448.0,1364.2 449.0,1369.6 450.0,1375.2 451.0,1381.0 452.0,1387.1 453.0,1393.3 454.0,1399.6 455.0,1406.0 456.0,1412.4 457.0,1418.9 458.0,1425.3 459.0,1431.6 460.0,1437.9 461.0,1443.9 462.0,1449.8 463.0,1455.5 464.0,1460.8 465.0,1465.9 466.0,1470.7 467.0,1475.1 468.0,1479.1 469.0,1482.7 470.0,1485.9 471.0,1488.6 472.0,1490.9 473.0,1492.7 474.0,1494.1 475.0,1494.9 476.0,1495.3 477.0,1495.2 478.0,1494.6 479.0,1493.6 480.0,1492.1 481.0,1490.1 482.0,1487.7 483.0,1485.0 484.0,1481.8 485.0,1478.2 486.0,1474.3 487.0,1470.1 488.0,1465.5 489.0,1460.7 490.0,1455.6 491.0,1450.3 492.0,1444.9 493.0,1439.2 494.0,1433.5 495.0,1427.6 496.0,1421.7 497.0,1415.7 498.0,1409.7 499.0,1403.7 500.0,1397.8 501.0,1392.0 502.0,1386.3 503.0,1380.7 504.0,1375.4 505.0,1370.2 506.0,1365.3 507.0,1360.6 508.0,1356.2 509.0,1352.2 510.0,1348.5 511.0,1345.1 512.0,1342.2 513.0,1339.6 514.0,1337.5 515.0,1335.8 516.0,1334.6 517.0,1333.8 518.0,1333.5 519.0,1333.7 520.0,1334.3 521.0,1335.4 522.0,1337.0 523.0,1339.0 524.0,1341.4 525.0,1344.3 526.0,1347.5 527.0,1351.2 528.0,1355.1 529.0,1359.4 530.0,1363.9 531.0,1368.7 532.0,1373.7 533.0,1378.8 534.0,1384.0 535.0,1389.3 536.0,1394.7 537.0,1400.0 538.0,1405.2 539.0,1410.3 540.0,1415.3 541.0,1420.0 542.0,1424.5 543.0,1428.8 544.0,1432.7 545.0,1436.2 546.0,1439.4 547.0,1442.2 548.0,1444.5 549.0,1446.4 550.0,1447.9 551.0,1448.9 552.0,1449.4 553.0,1449.5 554.0,1449.2 555.0,1448.4 556.0,1447.2 557.0,1445.7 558.0,1443.7 559.0,1441.5 560.0,1439.0 561.0,1436.2 562.0,1433.3 563.0,1430.1 564.0,1426.9 565.0,1423.6 566.0,1420.3 567.0,1417.0 568.0,1413.8 569.0,1410.7 570.0,1407.8 571.0,1405.1 572.0,1402.7 573.0,1400.5 574.0,1398.7 575.0,1397.3 576.0,1396.3 577.0,1395.6 578.0,1395.4 579.0,1395.7 580.0,1396.4 581.0,1397.5 582.0,1399.1 583.0,1401.1 584.0,1403.6 585.0,1406.5 586.0,1409.8 587.0,1413.4 588.0,1417.4 589.0,1421.6 590.0,1426.2 591.0,1430.9 592.0,1435.8 593.0,1440.9 594.0,1446.1 595.0,1451.3 596.0,1456.5 597.0,1461.7 598.0,1466.8 599.0,1471.8 600.0,1476.5 601.0,1481.1 602.0,1485.4 603.0,1489.4 604.0,1493.1 605.0,1496.5 606.0,1499.4 607.0,1501.9 608.0,1504.0 609.0,1505.7 610.0,1506.9 611.0,1507.7 612.0,1507.9 613.0,1507.7 614.0,1507.0 615.0,1505.9 616.0,1504.2 617.0,1502.2 618.0,1499.6 619.0,1496.7 620.0,1493.3 621.0,1489.6 622.0,1485.5 623.0,1481.1 624.0,1476.3 625.0,1471.3 626.0,1466.0 627.0,1460.4 628.0,1454.7 629.0,1448.8 630.0,1442.7 631.0,1436.6 632.0,1430.3 633.0,1424.1 634.0,1417.8 635.0,1411.5 636.0,1405.3 637.0,1399.2 638.0,1393.2 639.0,1387.4 640.0,1381.7 641.0,1376.3 642.0,1371.1 643.0,1366.2 644.0,1361.6 645.0,1357.3 646.0,1353.3 647.0,1349.8 648.0,1346.6 649.0,1343.9 650.0,1341.6 651.0,1339.7 652.0,1338.3 653.0,1337.4 654.0,1336.9 655.0,1336.9 656.0,1337.4 657.0,1338.4 658.0,1339.8 659.0,1341.7 660.0,1344.1 661.0,1346.8 662.0,1350.0 663.0,1353.5 664.0,1357.4 665.0,1361.6 666.0,1366.1 667.0,1370.9 668.0,1375.8 669.0,1380.9 670.0,1386.1 671.0,1391.4 672.0,1396.7 673.0,1402.0 674.0,1407.2 675.0,1412.3 676.0,1417.3 677.0,1422.0 678.0,1426.5 679.0,1430.8 680.0,1434.7 681.0,1438.2 682.0,1441.4 683.0,1444.2 684.0,1446.6 685.0,1448.5 686.0,1449.9 687.0,1450.9 688.0,1451.5 689.0,1451.6 690.0,1451.2 691.0,1450.4 692.0,1449.2 693.0,1447.6 694.0,1445.6 695.0,1443.3 696.0,1440.7 697.0,1437.9 698.0,1434.8 699.0,1431.6 700.0,1428.2 701.0,1424.8 702.0,1421.4 703.0,1417.9 704.0,1414.5 705.0,1411.3 706.0,1408.2 707.0,1405.3 708.0,1402.7 709.0,1400.4 710.0,1398.3 711.0,1396.7 712.0,1395.4 713.0,1394.6 714.0,1394.2 715.0,1394.2 716.0,1394.7 717.0,1395.6 718.0,1397.0 719.0,1398.8 720.0,1401.1 721.0,1403.8 722.0,1407.0 723.0,1410.5 724.0,1414.3 725.0,1418.5 726.0,1423.0 727.0,1427.7 728.0,1432.6 729.0,1437.7 730.0,1442.9 731.0,1448.1 732.0,1453.4 733.0,1458.7 734.0,1464.0 735.0,1469.1 736.0,1474.1 737.0,1478.8 738.0,1483.4 739.0,1487.7 740.0,1491.6 741.0,1495.3 742.0,1498.6 743.0,1501.4 744.0,1503.9 745.0,1506.0 746.0,1507.6 747.0,1508.8 748.0,1509.5 749.0,1509.7 750.0,1509.5 751.0,1508.8 752.0,1507.7 753.0,1506.1 754.0,1504.1 755.0,1501.6 756.0,1498.8 757.0,1495.6 758.0,1492.0 759.0,1488.1 760.0,1483.8 761.0,1479.3 762.0,1474.5 763.0,1469.5 764.0,1464.2 765.0,1458.8 766.0,1453.2 767.0,1447.5 768.0,1441.7 769.0,1435.9 770.0,1430.0 771.0,1424.1 772.0,1418.2 773.0,1412.4 774.0,1406.7 775.0,1401.1 776.0,1395.7 777.0,1390.4 778.0,1385.4 779.0,1380.5 780.0,1376.0 781.0,1371.7 782.0,1367.7 783.0,1364.0 784.0,1360.7 785.0,1357.8 786.0,1355.3 787.0,1353.2 788.0,1351.5 789.0,1350.3 790.0,1349.5 791.0,1349.2 792.0,1349.3 793.0,1349.9 794.0,1351.0 795.0,1352.5 796.0,1354.5 797.0,1357.0 798.0,1359.9 799.0,1363.2 800.0,1367.0 801.0,1371.1 802.0,1375.6 803.0,1380.4 804.0,1385.6 805.0,1391.0 806.0,1396.6 807.0,1402.5 808.0,1408.6 809.0,1414.8 810.0,1421.0 811.0,1427.4 812.0,1433.7 813.0,1440.1 814.0,1446.4 815.0,1452.5 816.0,1458.6 817.0,1464.5 818.0,1470.2 819.0,1475.6 820.0,1480.8 821.0,1485.7 822.0,1490.3 823.0,1494.5 824.0,1498.5 825.0,1502.0 826.0,1505.2 827.0,1508.0 828.0,1510.4 829.0,1512.4 830.0,1514.0 831.0,1515.3 832.0,1516.2 833.0,1516.7 834.0,1516.9 835.0,1516.7 836.0,1516.2 837.0,1515.4 838.0,1514.3 839.0,1513.0 840.0,1511.4 841.0,1509.6 842.0,1507.6 843.0,1505.5 844.0,1503.2 845.0,1500.7 846.0,1498.2 847.0,1495.6 848.0,1492.9 849.0,1490.1 850.0,1487.4 851.0,1484.6 852.0,1481.9 853.0,1479.1 854.0,1476.4 855.0,1473.8 856.0,1471.2 857.0,1468.7 858.0,1466.2 859.0,1463.9 860.0,1461.6 861.0,1459.4 862.0,1457.3 863.0,1455.4 864.0,1453.5 865.0,1451.7 866.0,1450.0 867.0,1448.4 868.0,1446.9 869.0,1445.5 870.0,1444.2 871.0,1443.0 872.0,1441.9 873.0,1440.8 874.0,1439.8 875.0,1438.9 876.0,1438.1 877.0,1437.3 878.0,1436.6 879.0,1435.9 880.0,1435.3 881.0,1434.7 882.0,1434.2 883.0,1433.7 884.0,1433.3 885.0,1432.9 886.0,1432.5 887.0,1432.1 888.0,1431.8 889.0,1431.5 890.0,1431.2 891.0,1430.9 892.0,1430.7 893.0,1430.4 894.0,1430.2 895.0,1430.0 896.0,1429.8 897.0,1429.6 898.0,1429.4 899.0,1429.2 900.0,1429.0 901.0,1428.8 902.0,1428.6 903.0,1428.5 904.0,1428.3 905.0,1428.2 906.0,1428.0 907.0,1427.8 908.0,1427.7 909.0,1427.5 910.0,1427.4 911.0,1427.3 912.0,1427.1 913.0,1427.0 914.0,1426.8 915.0,1426.7 916.0,1426.6 917.0,1426.4 918.0,1426.3 919.0,1426.2 920.0,1426.1 921.0,1425.9 922.0,1425.8 923.0,1425.7 924.0,1425.6 925.0,1425.5 926.0,1425.4 927.0,1425.3 928.0,1425.1 929.0,1425.0 930.0,1424.9 931.0,1424.8 932.0,1424.7 933.0,1424.7 934.0,1424.6 935.0,1424.5 936.0,1424.4 937.0,1424.3 938.0,1424.2 939.0,1424.2 940.0,1424.1 941.0,1424.0 942.0,1423.9 943.0,1423.9 944.0,1423.8 945.0,1423.7 946.0,1423.7 947.0,1423.6 948.0,1423.6 949.0,1423.5 950.0,1423.5 951.0,1423.4 952.0,1423.4 953.0,1423.3 954.0,1423.3 955.0,1423.2 956.0,1423.2 957.0,1423.1 958.0,1423.1 959.0,1423.1 960.0,1423.0 961.0,1423.0 962.0,1423.0 963.0,1422.9 964.0,1422.9 965.0,1422.9 966.0,1422.9 967.0,1422.8 968.0,1422.8 969.0,1422.8 970.0,1422.8 971.0,1422.8 972.0,1422.7 973.0,1422.7 974.0,1422.7 975.0,1422.7 976.0,1422.7 977.0,1422.7 978.0,1422.6 979.0,1422.6 980.0,1422.6 981.0,1422.6 982.0,1422.6 983.0,1422.6 984.0,1422.6 985.0,1422.6 986.0,1422.6 987.0,1422.6 988.0,1422.6 989.0,1422.5 990.0,1422.5 991.0,1422.5 992.0,1422.5 993.0,1422.5 994.0,1422.5 995.0,1422.5 996.0,1422.5 997.0,1422.5 998.0,1422.5 999.0,1422.5 1000.0,1422.5 1001.0,1422.5 1002.0,1422.5 1003.0,1422.5 1004.0,1422.5 1005.0,1422.5 1006.0,1422.5 1007.0,1422.5 1008.0,1422.5 1009.0,1422.5 1010.0,1422.5 1011.0,1422.5 1012.0,1422.5 1013.0,1422.5 1014.0,1422.5 1015.0,1422.5 1016.0,1422.5 1017.0,1422.5 1018.0,1422.5 1019.0,1422.5 1020.0,1422.5 1021.0,1422.5 1022.0,1422.5 1023.0,1422.5 1024.0,1422.5 1025.0,1422.5 1026.0,1422.5 1027.0,1422.5 1028.0,1422.5 1029.0,1422.5 1030.0,1422.5 1031.0,1422.5 1032.0,1422.5 1033.0,1422.5 1034.0,1422.5 1035.0,1422.5 1036.0,1422.5 1037.0,1422.5 1038.0,1422.5 1039.0,1422.5 1040.0,1422.5 1041.0,1422.5 1042.0,1422.5 1043.0,1422.5 1044.0,1422.5 1045.0,1422.5 1046.0,1422.5 1047.0,1422.5 1048.0,1422.5 1049.0,1422.5 1050.0,1422.5 1051.0,1422.5 1052.0,1422.5 1053.0,1422.5 1054.0,1422.5 1055.0,1422.5 1056.0,1422.5 1057.0,1422.5 1058.0,1422.5 1059.0,1422.5 1060.0,1422.5 1061.0,1422.5 1062.0,1422.5 1063.0,1422.5 1064.0,1422.5 1065.0,1422.5 1066.0,1422.5 1067.0,1422.5 1068.0,1422.5 1069.0,1422.5 1070.0,1422.5 1071.0,1422.5 1072.0,1422.5 1073.0,1422.5 1074.0,1422.5 1075.0,1422.5 1076.0,1422.5 1077.0,1422.5 1078.0,1422.5 1079.0,1422.5 1080.0,1422.5 1081.0,1422.5 1082.0,1422.5 1083.0,1422.5 1084.0,1422.5 1085.0,1422.5 1086.0,1422.5 1087.0,1422.5 1088.0,1422.5 1089.0,1422.5 1090.0,1422.5 1091.0,1422.5 1092.0,1422.5 1093.0,1422.5 1094.0,1422.5 1095.0,1422.5 1096.0,1422.5 1097.0,1422.5 1098.0,1422.5 1099.0,1422.5 1100.0,1422.5 1101.0,1422.5 1102.0,1422.5 1103.0,1422.5 1104.0,1422.5 1105.0,1422.5 1106.0,1422.5 1107.0,1422.5 1108.0,1422.5 1109.0,1422.5 1110.0,1422.5 1111.0,1422.5 1112.0,1422.5 1113.0,1422.5 1114.0,1422.5 1115.0,1422.5 1116.0,1422.5 1117.0,1422.5 1118.0,1422.5 1119.0,1422.5 1120.0,1422.5 1121.0,1422.5 1122.0,1422.5 1123.0,1422.5 1124.0,1422.5 1125.0,1422.5 1126.0,1422.5 1127.0,1422.5 1128.0,1422.5 1129.0,1422.5 1130.0,1422.5 1131.0,1422.5 1132.0,1422.5 1133.0,1422.5 1134.0,1422.5 1135.0,1422.5 1136.0,1422.5 1137.0,1422.5 1138.0,1422.5 1139.0,1422.5 1140.0,1422.5 1141.0,1422.5 1142.0,1422.5 1143.0,1422.5 1144.0,1422.5 1145.0,1422.5 1146.0,1422.5 1147.0,1422.5 1148.0,1422.5 1149.0,1422.5 1150.0,1422.5 1151.0,1422.5 1152.0,1422.5 1153.0,1422.5 1154.0,1422.5 1155.0,1422.5 1156.0,1422.5 1157.0,1422.5 1158.0,1422.5 1159.0,1422.5 1160.0,1422.5 1161.0,1422.5 1162.0,1422.5 1163.0,1422.5 1164.0,1422.5 1165.0,1422.5 1166.0,1422.5 1167.0,1422.5 1168.0,1422.5 1169.0,1422.5 1170.0,1422.5 1171.0,1422.5 1172.0,1422.5 1173.0,1422.5 1174.0,1422.5 1175.0,1422.5 1176.0,1422.5" fill="none" stroke="#079020" stroke-width="5.2" stroke-linejoin="round" stroke-linecap="round" />
<polyline points="129.0,1564.5 130.0,1562.7 131.0,1565.3 132.0,1562.8 133.0,1557.7 134.0,1564.3 135.0,1563.8 136.0,1566.8 137.0,1563.6 138.0,1562.4 139.0,1563.0 140.0,1561.9 141.0,1558.7 142.0,1555.7 143.0,1564.9 144.0,1556.9 145.0,1559.3 146.0,1562.6 147.0,1562.1 148.0,1563.3 149.0,1564.5 150.0,1566.2 151.0,1565.3 152.0,1570.7 153.0,1559.2 154.0,1561.1 155.0,1559.3 156.0,1559.3 157.0,1562.1 158.0,1565.0 159.0,1558.1 160.0,1556.5 161.0,1561.1 162.0,1569.5 163.0,1566.8 164.0,1564.3 165.0,1561.1 166.0,1560.0 167.0,1561.2 168.0,1560.0 169.0,1556.9 170.0,1561.3 171.0,1562.1 172.0,1561.4 173.0,1563.1 174.0,1569.5 175.0,1567.7 176.0,1562.4 177.0,1561.3 178.0,1559.3 179.0,1561.2 180.0,1563.6 181.0,1561.7 182.0,1562.5 183.0,1566.0 184.0,1564.4 185.0,1560.0 186.0,1560.6 187.0,1560.6 188.0,1557.6 189.0,1561.3 190.0,1564.0 191.0,1568.5 192.0,1566.3 193.0,1562.4 194.0,1563.2 195.0,1566.2 196.0,1567.4 197.0,1568.1 198.0,1564.5 199.0,1560.5 200.0,1568.9 201.0,1566.2 202.0,1565.5 203.0,1565.7 204.0,1562.2 205.0,1563.5 206.0,1566.0 207.0,1568.9 208.0,1564.4 209.0,1554.8 210.0,1563.0 211.0,1567.8 212.0,1571.1 213.0,1570.8 214.0,1575.7 215.0,1572.9 216.0,1571.4 217.0,1568.2 218.0,1561.1 219.0,1565.8 220.0,1564.7 221.0,1562.7 222.0,1565.1 223.0,1563.9 224.0,1561.5 225.0,1562.7 226.0,1563.2 227.0,1564.9 228.0,1563.3 229.0,1563.1 230.0,1557.7 231.0,1561.9 232.0,1559.3 233.0,1562.8 234.0,1566.4 235.0,1564.0 236.0,1564.0 237.0,1565.8 238.0,1568.9 239.0,1562.0 240.0,1565.0 241.0,1559.6 242.0,1561.6 243.0,1564.0 244.0,1560.8 245.0,1563.8 246.0,1565.2 247.0,1559.3 248.0,1561.8 249.0,1560.8 250.0,1557.6 251.0,1562.7 252.0,1563.4 253.0,1568.8 254.0,1564.9 255.0,1569.6 256.0,1565.1 257.0,1569.6 258.0,1566.2 259.0,1565.3 260.0,1567.3 261.0,1564.4 262.0,1567.6 263.0,1567.9 264.0,1560.6 265.0,1555.0 266.0,1551.7 267.0,1559.3 268.0,1564.6 269.0,1564.7 270.0,1563.0 271.0,1561.8 272.0,1561.3 273.0,1562.6 274.0,1563.6 275.0,1559.7 276.0,1566.0 277.0,1561.1 278.0,1564.0 279.0,1563.3 280.0,1562.5 281.0,1559.6 282.0,1558.7 283.0,1555.0 284.0,1561.0 285.0,1571.2 286.0,1564.3 287.0,1561.7 288.0,1562.2 289.0,1559.7 290.0,1555.9 291.0,1562.8 292.0,1565.0 293.0,1561.3 294.0,1564.3 295.0,1562.2 296.0,1564.6 297.0,1567.1 298.0,1567.8 299.0,1566.8 300.0,1563.0 301.0,1566.1 302.0,1562.5 303.0,1563.4 304.0,1564.4 305.0,1559.8 306.0,1557.4 307.0,1561.8 308.0,1556.6 309.0,1555.8 310.0,1555.9 311.0,1563.3 312.0,1559.0 313.0,1553.8 314.0,1563.9 315.0,1570.1 316.0,1568.3 317.0,1559.3 318.0,1561.2 319.0,1563.5 320.0,1564.9 321.0,1561.6 322.0,1558.6 323.0,1564.3 324.0,1563.8 325.0,1557.2 326.0,1559.7 327.0,1562.8 328.0,1561.8 329.0,1564.2 330.0,1566.4 331.0,1565.8 332.0,1562.4 333.0,1559.2 334.0,1565.8 335.0,1570.9 336.0,1572.4 337.0,1564.2 338.0,1563.8 339.0,1569.1 340.0,1569.0 341.0,1565.5 342.0,1563.4 343.0,1559.8 344.0,1562.5 345.0,1559.6 346.0,1561.5 347.0,1562.2 348.0,1559.2 349.0,1553.1 350.0,1557.2 351.0,1561.7 352.0,1560.7 353.0,1559.8 354.0,1563.0 355.0,1563.9 356.0,1563.2 357.0,1557.7 358.0,1559.2 359.0,1558.5 360.0,1556.1 361.0,1554.6 362.0,1557.9 363.0,1559.0 364.0,1567.4 365.0,1562.3 366.0,1560.5 367.0,1561.3 368.0,1568.4 369.0,1561.7 370.0,1562.7 371.0,1561.6 372.0,1564.5 373.0,1567.4 374.0,1570.1 375.0,1562.6 376.0,1566.7 377.0,1571.4 378.0,1565.1 379.0,1564.3 380.0,1561.1 381.0,1556.8 382.0,1565.3 383.0,1570.1 384.0,1564.4 385.0,1559.4 386.0,1565.2 387.0,1567.2 388.0,1570.4 389.0,1570.3 390.0,1566.8 391.0,1566.2 392.0,1560.6 393.0,1568.6 394.0,1568.4 395.0,1570.5 396.0,1569.9 397.0,1565.0 398.0,1563.6 399.0,1559.6 400.0,1556.2 401.0,1562.0 402.0,1563.7 403.0,1560.8 404.0,1564.9 405.0,1564.4 406.0,1564.2 407.0,1558.8 408.0,1556.2 409.0,1564.6 410.0,1565.2 411.0,1562.1 412.0,1559.9 413.0,1560.0 414.0,1560.9 415.0,1557.8 416.0,1554.7 417.0,1564.2 418.0,1558.9 419.0,1561.3 420.0,1562.3 421.0,1562.9 422.0,1558.0 423.0,1565.3 424.0,1565.9 425.0,1565.7 426.0,1566.7 427.0,1557.6 428.0,1550.3 429.0,1563.2 430.0,1569.1 431.0,1567.0 432.0,1561.1 433.0,1561.8 434.0,1562.1 435.0,1556.2 436.0,1558.2 437.0,1561.2 438.0,1568.4 439.0,1565.2 440.0,1568.2 441.0,1563.4 442.0,1559.5 443.0,1569.9 444.0,1562.9 445.0,1567.7 446.0,1572.0 447.0,1564.7 448.0,1560.7 449.0,1568.0 450.0,1565.3 451.0,1558.5 452.0,1561.1 453.0,1565.3 454.0,1570.7 455.0,1567.9 456.0,1571.0 457.0,1573.8 458.0,1573.4 459.0,1573.2 460.0,1567.9 461.0,1560.7 462.0,1568.5 463.0,1567.1 464.0,1564.6 465.0,1560.3 466.0,1558.3 467.0,1559.6 468.0,1562.7 469.0,1558.8 470.0,1559.5 471.0,1563.6 472.0,1568.2 473.0,1565.8 474.0,1565.4 475.0,1569.8 476.0,1564.9 477.0,1565.7 478.0,1561.2 479.0,1564.6 480.0,1574.7 481.0,1563.9 482.0,1560.5 483.0,1558.5 484.0,1556.3 485.0,1561.3 486.0,1566.4 487.0,1565.6 488.0,1560.2 489.0,1564.6 490.0,1562.9 491.0,1565.6 492.0,1562.6 493.0,1560.0 494.0,1568.1 495.0,1566.4 496.0,1559.2 497.0,1556.1 498.0,1561.1 499.0,1560.6 500.0,1563.8 501.0,1567.2 502.0,1568.4 503.0,1563.3 504.0,1569.1 505.0,1568.4 506.0,1561.6 507.0,1557.7 508.0,1555.2 509.0,1567.4 510.0,1572.7 511.0,1571.7 512.0,1569.3 513.0,1570.4 514.0,1562.4 515.0,1563.8 516.0,1564.9 517.0,1570.5 518.0,1564.8 519.0,1554.2 520.0,1565.0 521.0,1562.2 522.0,1565.7 523.0,1562.1 524.0,1564.7 525.0,1566.2 526.0,1564.5 527.0,1562.5 528.0,1569.4 529.0,1567.1 530.0,1565.2 531.0,1566.6 532.0,1565.3 533.0,1571.2 534.0,1567.3 535.0,1565.2 536.0,1565.4 537.0,1560.1 538.0,1558.9 539.0,1563.6 540.0,1566.0 541.0,1568.0 542.0,1563.5 543.0,1560.1 544.0,1563.9 545.0,1567.0 546.0,1567.3 547.0,1563.5 548.0,1559.4 549.0,1564.8 550.0,1561.6 551.0,1563.4 552.0,1558.0 553.0,1563.3 554.0,1560.6 555.0,1565.6 556.0,1568.9 557.0,1564.3 558.0,1555.3 559.0,1554.5 560.0,1556.8 561.0,1562.7 562.0,1562.0 563.0,1560.8 564.0,1562.3 565.0,1563.2 566.0,1565.0 567.0,1567.7 568.0,1563.9 569.0,1562.7 570.0,1555.9 571.0,1557.0 572.0,1559.1 573.0,1558.6 574.0,1562.3 575.0,1566.8 576.0,1561.7 577.0,1560.8 578.0,1561.3 579.0,1562.0 580.0,1561.8 581.0,1564.7 582.0,1564.5 583.0,1565.5 584.0,1566.9 585.0,1564.7 586.0,1566.4 587.0,1570.9 588.0,1567.3 589.0,1568.5 590.0,1566.5 591.0,1562.9 592.0,1561.7 593.0,1561.8 594.0,1563.7 595.0,1562.6 596.0,1563.9 597.0,1568.0 598.0,1564.9 599.0,1566.5 600.0,1564.9 601.0,1564.8 602.0,1560.8 603.0,1564.8 604.0,1572.9 605.0,1570.0 606.0,1566.2 607.0,1564.3 608.0,1564.4 609.0,1558.0 610.0,1567.5 611.0,1564.3 612.0,1565.3 613.0,1561.6 614.0,1561.1 615.0,1560.0 616.0,1560.0 617.0,1555.6 618.0,1554.6 619.0,1557.9 620.0,1553.4 621.0,1555.0 622.0,1557.5 623.0,1557.3 624.0,1561.0 625.0,1560.3 626.0,1559.9 627.0,1557.5 628.0,1559.6 629.0,1564.5 630.0,1558.2 631.0,1562.2 632.0,1564.5 633.0,1564.0 634.0,1564.5 635.0,1568.1 636.0,1563.7 637.0,1565.7 638.0,1565.7 639.0,1561.9 640.0,1559.3 641.0,1565.1 642.0,1563.9 643.0,1563.0 644.0,1563.0 645.0,1562.1 646.0,1560.5 647.0,1562.4 648.0,1557.3 649.0,1560.3 650.0,1557.4 651.0,1561.6 652.0,1565.4 653.0,1562.7 654.0,1561.3 655.0,1563.2 656.0,1561.3 657.0,1559.7 658.0,1560.6 659.0,1567.1 660.0,1565.6 661.0,1564.1 662.0,1558.9 663.0,1562.8 664.0,1559.3 665.0,1563.3 666.0,1561.3 667.0,1568.1 668.0,1559.2 669.0,1565.7 670.0,1565.1 671.0,1557.6 672.0,1562.7 673.0,1570.0 674.0,1567.8 675.0,1557.9 676.0,1558.9 677.0,1557.4 678.0,1557.8 679.0,1560.9 680.0,1568.4 681.0,1563.4 682.0,1560.5 683.0,1559.9 684.0,1572.0 685.0,1564.0 686.0,1560.3 687.0,1566.1 688.0,1560.3 689.0,1561.5 690.0,1565.0 691.0,1567.5 692.0,1561.5 693.0,1562.4 694.0,1566.7 695.0,1565.2 696.0,1565.6 697.0,1565.3 698.0,1562.9 699.0,1563.6 700.0,1564.9 701.0,1562.3 702.0,1564.4 703.0,1543.7 704.0,1555.9 705.0,1563.1 706.0,1560.1 707.0,1556.9 708.0,1561.1 709.0,1563.3 710.0,1560.1 711.0,1563.4 712.0,1561.6 713.0,1561.3 714.0,1563.6 715.0,1565.4 716.0,1558.5 717.0,1560.5 718.0,1562.0 719.0,1556.5 720.0,1556.9 721.0,1563.4 722.0,1564.1 723.0,1563.1 724.0,1563.6 725.0,1562.9 726.0,1572.6 727.0,1563.3 728.0,1561.9 729.0,1559.5 730.0,1564.5 731.0,1569.8 732.0,1566.5 733.0,1567.0 734.0,1565.7 735.0,1571.6 736.0,1566.8 737.0,1563.2 738.0,1567.6 739.0,1565.6 740.0,1567.6 741.0,1566.4 742.0,1566.2 743.0,1565.8 744.0,1560.7 745.0,1558.9 746.0,1566.7 747.0,1565.0 748.0,1565.2 749.0,1562.1 750.0,1556.0 751.0,1558.4 752.0,1567.3 753.0,1561.2 754.0,1559.8 755.0,1557.1 756.0,1559.2 757.0,1561.5 758.0,1562.8 759.0,1561.5 760.0,1559.8 761.0,1558.6 762.0,1560.7 763.0,1562.2 764.0,1561.6 765.0,1568.3 766.0,1564.4 767.0,1563.5 768.0,1561.8 769.0,1565.0 770.0,1556.9 771.0,1554.7 772.0,1557.8 773.0,1562.0 774.0,1558.8 775.0,1565.0 776.0,1561.6 777.0,1557.1 778.0,1561.5 779.0,1566.8 780.0,1559.3 781.0,1556.5 782.0,1563.7 783.0,1560.1 784.0,1565.8 785.0,1561.6 786.0,1562.4 787.0,1563.3 788.0,1566.2 789.0,1567.9 790.0,1561.5 791.0,1562.7 792.0,1559.9 793.0,1561.0 794.0,1557.9 795.0,1558.1 796.0,1559.8 797.0,1557.8 798.0,1558.9 799.0,1559.0 800.0,1560.7 801.0,1561.5 802.0,1560.1 803.0,1562.0 804.0,1568.5 805.0,1572.7 806.0,1561.1 807.0,1562.4 808.0,1560.6 809.0,1559.3 810.0,1562.9 811.0,1559.8 812.0,1563.3 813.0,1566.8 814.0,1558.8 815.0,1564.0 816.0,1566.2 817.0,1562.7 818.0,1566.6 819.0,1566.8 820.0,1565.9 821.0,1568.8 822.0,1562.9 823.0,1566.9 824.0,1564.9 825.0,1561.0 826.0,1563.2 827.0,1565.1 828.0,1566.4 829.0,1559.2 830.0,1564.0 831.0,1564.5 832.0,1570.1 833.0,1564.7 834.0,1568.3 835.0,1560.3 836.0,1565.2 837.0,1565.7 838.0,1566.6 839.0,1562.3 840.0,1557.6 841.0,1560.5 842.0,1557.6 843.0,1567.7 844.0,1563.4 845.0,1567.1 846.0,1562.6 847.0,1561.0 848.0,1561.5 849.0,1569.8 850.0,1571.9 851.0,1563.5 852.0,1566.4 853.0,1570.2 854.0,1570.7 855.0,1558.4 856.0,1564.1 857.0,1566.3 858.0,1562.0 859.0,1564.7 860.0,1566.3 861.0,1566.3 862.0,1562.8 863.0,1563.5 864.0,1560.7 865.0,1564.4 866.0,1564.0 867.0,1560.9 868.0,1558.7 869.0,1567.7 870.0,1556.0 871.0,1562.5 872.0,1559.0 873.0,1560.6 874.0,1566.3 875.0,1563.9 876.0,1558.7 877.0,1560.8 878.0,1560.5 879.0,1557.7 880.0,1557.3 881.0,1564.5 882.0,1562.9 883.0,1559.3 884.0,1554.4 885.0,1557.5 886.0,1560.8 887.0,1563.8 888.0,1561.7 889.0,1565.2 890.0,1562.1 891.0,1555.6 892.0,1548.2 893.0,1552.0 894.0,1552.8 895.0,1558.0 896.0,1560.8 897.0,1562.8 898.0,1558.9 899.0,1556.2 900.0,1565.7 901.0,1561.2 902.0,1559.0 903.0,1562.6 904.0,1553.9 905.0,1559.7 906.0,1561.1 907.0,1564.5 908.0,1563.2 909.0,1562.5 910.0,1563.8 911.0,1557.9 912.0,1555.7 913.0,1555.9 914.0,1553.2 915.0,1557.4 916.0,1559.0 917.0,1561.6 918.0,1558.8 919.0,1551.9 920.0,1558.8 921.0,1562.5 922.0,1553.2 923.0,1555.4 924.0,1558.2 925.0,1555.6 926.0,1557.9 927.0,1560.0 928.0,1557.3 929.0,1561.2 930.0,1561.9 931.0,1558.2 932.0,1561.3 933.0,1563.2 934.0,1560.4 935.0,1563.4 936.0,1564.6 937.0,1562.0 938.0,1565.7 939.0,1564.1 940.0,1560.2 941.0,1563.9 942.0,1566.9 943.0,1566.1 944.0,1562.2 945.0,1564.2 946.0,1566.6 947.0,1564.0 948.0,1566.9 949.0,1567.0 950.0,1564.1 951.0,1565.8 952.0,1564.8 953.0,1569.0 954.0,1566.9 955.0,1565.0 956.0,1566.3 957.0,1567.0 958.0,1566.5 959.0,1569.2 960.0,1563.9 961.0,1565.3 962.0,1568.2 963.0,1570.0 964.0,1571.8 965.0,1578.7 966.0,1573.4 967.0,1567.7 968.0,1569.7 969.0,1571.3 970.0,1566.5 971.0,1559.7 972.0,1564.1 973.0,1567.0 974.0,1571.5 975.0,1562.6 976.0,1571.1 977.0,1568.6 978.0,1569.8 979.0,1566.4 980.0,1568.1 981.0,1570.5 982.0,1567.4 983.0,1569.0 984.0,1565.1 985.0,1562.3 986.0,1563.5 987.0,1562.5 988.0,1564.4 989.0,1567.3 990.0,1559.3 991.0,1557.0 992.0,1563.8 993.0,1572.1 994.0,1569.6 995.0,1570.2 996.0,1568.9 997.0,1562.7 998.0,1562.4 999.0,1554.8 1000.0,1560.8 1001.0,1555.6 1002.0,1558.8 1003.0,1556.8 1004.0,1560.7 1005.0,1554.6 1006.0,1570.6 1007.0,1574.8 1008.0,1569.4 1009.0,1558.1 1010.0,1556.0 1011.0,1563.6 1012.0,1568.0 1013.0,1560.7 1014.0,1563.0 1015.0,1564.5 1016.0,1567.3 1017.0,1566.5 1018.0,1569.3 1019.0,1570.9 1020.0,1567.7 1021.0,1570.2 1022.0,1572.5 1023.0,1562.9 1024.0,1561.4 1025.0,1568.1 1026.0,1573.3 1027.0,1569.2 1028.0,1570.4 1029.0,1566.9 1030.0,1569.6 1031.0,1565.8 1032.0,1568.4 1033.0,1558.5 1034.0,1567.2 1035.0,1569.3 1036.0,1568.2 1037.0,1567.4 1038.0,1566.0 1039.0,1559.3 1040.0,1567.1 1041.0,1572.6 1042.0,1566.5 1043.0,1562.9 1044.0,1561.6 1045.0,1563.1 1046.0,1560.2 1047.0,1560.9 1048.0,1558.4 1049.0,1557.7 1050.0,1558.7 1051.0,1558.2 1052.0,1554.9 1053.0,1565.4 1054.0,1548.6 1055.0,1551.2 1056.0,1563.3 1057.0,1561.7 1058.0,1562.8 1059.0,1562.6 1060.0,1556.4 1061.0,1550.4 1062.0,1559.1 1063.0,1563.0 1064.0,1565.1 1065.0,1561.5 1066.0,1563.5 1067.0,1566.0 1068.0,1563.7 1069.0,1564.8 1070.0,1566.9 1071.0,1565.2 1072.0,1572.1 1073.0,1566.5 1074.0,1567.7 1075.0,1567.0 1076.0,1565.8 1077.0,1570.2 1078.0,1572.8 1079.0,1574.1 1080.0,1570.2 1081.0,1567.1 1082.0,1568.0 1083.0,1562.9 1084.0,1566.9 1085.0,1569.2 1086.0,1568.5 1087.0,1561.9 1088.0,1561.4 1089.0,1569.6 1090.0,1564.2 1091.0,1558.9 1092.0,1560.1 1093.0,1566.1 1094.0,1569.6 1095.0,1566.2 1096.0,1567.7 1097.0,1565.1 1098.0,1565.4 1099.0,1566.6 1100.0,1561.4 1101.0,1560.8 1102.0,1558.5 1103.0,1557.3 1104.0,1560.0 1105.0,1557.0 1106.0,1557.7 1107.0,1555.4 1108.0,1556.2 1109.0,1557.2 1110.0,1561.8 1111.0,1559.8 1112.0,1561.7 1113.0,1564.5 1114.0,1550.2 1115.0,1551.4 1116.0,1548.8 1117.0,1557.2 1118.0,1561.2 1119.0,1561.7 1120.0,1560.5 1121.0,1558.1 1122.0,1564.6 1123.0,1559.4 1124.0,1556.6 1125.0,1555.3 1126.0,1560.2 1127.0,1557.9 1128.0,1556.9 1129.0,1559.6 1130.0,1557.9 1131.0,1556.6 1132.0,1563.0 1133.0,1556.9 1134.0,1554.2 1135.0,1561.3 1136.0,1562.7 1137.0,1561.6 1138.0,1560.1 1139.0,1561.4 1140.0,1559.4 1141.0,1556.8 1142.0,1569.9 1143.0,1558.5 1144.0,1560.3 1145.0,1564.3 1146.0,1565.7 1147.0,1572.4 1148.0,1560.0 1149.0,1559.0 1150.0,1562.9 1151.0,1570.1 1152.0,1561.2 1153.0,1558.9 1154.0,1566.3 1155.0,1560.6 1156.0,1562.0 1157.0,1565.2 1158.0,1561.5 1159.0,1564.4 1160.0,1564.9 1161.0,1564.9 1162.0,1560.4 1163.0,1561.5 1164.0,1562.7 1165.0,1559.2 1166.0,1559.4 1167.0,1568.6 1168.0,1567.3 1169.0,1567.2 1170.0,1561.5 1171.0,1562.6 1172.0,1561.8 1173.0,1558.4 1174.0,1563.7 1175.0,1572.5 1176.0,1562.0" fill="none" stroke="#000" stroke-width="4.4" stroke-linejoin="round" stroke-linecap="round" stroke-linejoin="miter"/>
</g>
<line x1="234.73" y1="1623.00" x2="234.73" y2="1618.80" stroke="#000" stroke-width="8.6" />
<line x1="339.26" y1="1623.00" x2="339.26" y2="1613.50" stroke="#000" stroke-width="7.6" />
<line x1="443.79" y1="1623.00" x2="443.79" y2="1618.80" stroke="#000" stroke-width="8.6" />
<line x1="548.32" y1="1623.00" x2="548.32" y2="1613.50" stroke="#000" stroke-width="7.6" />
<line x1="652.85" y1="1623.00" x2="652.85" y2="1618.80" stroke="#000" stroke-width="8.6" />
<line x1="757.38" y1="1623.00" x2="757.38" y2="1613.50" stroke="#000" stroke-width="7.6" />
<line x1="861.91" y1="1623.00" x2="861.91" y2="1618.80" stroke="#000" stroke-width="8.6" />
<line x1="966.44" y1="1623.00" x2="966.44" y2="1613.50" stroke="#000" stroke-width="7.6" />
<line x1="1070.97" y1="1623.00" x2="1070.97" y2="1618.80" stroke="#000" stroke-width="8.6" />
<text x="91.40" y="1670.81" font-size="39.40" textLength="74.85" lengthAdjust="spacingAndGlyphs" >3454</text>
<text x="300.46" y="1670.81" font-size="39.40" textLength="74.85" lengthAdjust="spacingAndGlyphs" >3474</text>
<text x="509.52" y="1670.81" font-size="39.40" textLength="74.85" lengthAdjust="spacingAndGlyphs" >3494</text>
<text x="718.58" y="1670.81" font-size="39.40" textLength="74.85" lengthAdjust="spacingAndGlyphs" >3514</text>
<text x="927.64" y="1670.81" font-size="39.40" textLength="74.85" lengthAdjust="spacingAndGlyphs" >3534</text>
<text x="1136.70" y="1670.81" font-size="39.40" textLength="74.85" lengthAdjust="spacingAndGlyphs" >3554</text>
<text x="480.74" y="1709.49" font-size="43.24" textLength="345.07" lengthAdjust="spacingAndGlyphs" >Magnrtic field (G)</text>
<text transform="translate(102.70 1403.56) rotate(-90)" x="0" y="0" font-size="45.60" textLength="277.76" lengthAdjust="spacingAndGlyphs">Intensity (a.u.)</text>
<text x="43.99" y="966.67" font-size="57.36" textLength="64.42" lengthAdjust="spacingAndGlyphs" >(c)</text>
<text x="169.45" y="1040.80" font-size="40.00" textLength="168.79" lengthAdjust="spacingAndGlyphs" >DMPO-·O</text>
<text x="336.18" y="1050.90" font-size="27.27" textLength="13.98" lengthAdjust="spacingAndGlyphs" >2</text>
<text x="349.70" y="1027.22" font-size="32.94" textLength="9.48" lengthAdjust="spacingAndGlyphs" >-</text>
<text x="214.02" y="1176.52" font-size="37.59" textLength="108.82" lengthAdjust="spacingAndGlyphs" >10 min</text>
<text x="222.92" y="1407.43" font-size="37.16" textLength="89.72" lengthAdjust="spacingAndGlyphs" >5 min</text>
<text x="227.07" y="1541.93" font-size="37.30" textLength="81.41" lengthAdjust="spacingAndGlyphs" >Dark</text>
<line x1="833.80" y1="961.70" x2="917.00" y2="961.70" stroke="#10108C" stroke-width="3.8" stroke-linecap="round"/>
<text x="927.55" y="974.60" font-size="38.70" textLength="125.33" lengthAdjust="spacingAndGlyphs" >FeOOH</text>
<line x1="833.80" y1="1008.50" x2="917.00" y2="1008.50" stroke="#FF0000" stroke-width="3.8" stroke-linecap="round"/>
<text x="926.21" y="1020.90" font-size="38.70" textLength="115.61" lengthAdjust="spacingAndGlyphs" >ZnCdS</text>
<line x1="833.80" y1="1055.20" x2="917.00" y2="1055.20" stroke="#079020" stroke-width="3.8" stroke-linecap="round"/>
<text x="927.54" y="1067.20" font-size="38.70" textLength="208.59" lengthAdjust="spacingAndGlyphs" >FeOOH/ZCS</text>
<line x1="126.50" y1="1722.60" x2="1178.00" y2="1722.60" stroke="#EBEBEB" stroke-width="1.3" />
<line x1="1308.80" y1="933.60" x2="1308.80" y2="1635.00" stroke="#000" stroke-width="8.6" />
<line x1="2353.10" y1="933.60" x2="2353.10" y2="1635.00" stroke="#000" stroke-width="8.4" />
<line x1="1304.50" y1="938.00" x2="2357.30" y2="938.00" stroke="#000" stroke-width="8.8" />
<line x1="1304.50" y1="1631.00" x2="2357.30" y2="1631.00" stroke="#000" stroke-width="8.0" />
<g clip-path="url(#clipd)">
<polyline points="1308.0,1177.5 1309.0,1177.5 1310.0,1177.5 1311.0,1177.5 1312.0,1177.5 1313.0,1177.5 1314.0,1177.5 1315.0,1177.5 1316.0,1177.5 1317.0,1177.5 1318.0,1177.5 1319.0,1177.5 1320.0,1177.5 1321.0,1177.5 1322.0,1177.5 1323.0,1177.5 1324.0,1177.5 1325.0,1177.5 1326.0,1177.5 1327.0,1177.5 1328.0,1177.5 1329.0,1177.5 1330.0,1177.5 1331.0,1177.5 1332.0,1177.5 1333.0,1177.5 1334.0,1177.5 1335.0,1177.5 1336.0,1177.5 1337.0,1177.5 1338.0,1177.5 1339.0,1177.5 1340.0,1177.5 1341.0,1177.5 1342.0,1177.5 1343.0,1177.5 1344.0,1177.5 1345.0,1177.5 1346.0,1177.5 1347.0,1177.5 1348.0,1177.5 1349.0,1177.5 1350.0,1177.5 1351.0,1177.5 1352.0,1177.5 1353.0,1177.5 1354.0,1177.5 1355.0,1177.5 1356.0,1177.5 1357.0,1177.5 1358.0,1177.5 1359.0,1177.5 1360.0,1177.5 1361.0,1177.5 1362.0,1177.5 1363.0,1177.5 1364.0,1177.5 1365.0,1177.5 1366.0,1177.5 1367.0,1177.5 1368.0,1177.5 1369.0,1177.5 1370.0,1177.5 1371.0,1177.5 1372.0,1177.5 1373.0,1177.5 1374.0,1177.5 1375.0,1177.5 1376.0,1177.5 1377.0,1177.5 1378.0,1177.5 1379.0,1177.5 1380.0,1177.5 1381.0,1177.5 1382.0,1177.5 1383.0,1177.5 1384.0,1177.5 1385.0,1177.5 1386.0,1177.5 1387.0,1177.5 1388.0,1177.5 1389.0,1177.5 1390.0,1177.5 1391.0,1177.5 1392.0,1177.5 1393.0,1177.5 1394.0,1177.5 1395.0,1177.5 1396.0,1177.5 1397.0,1177.5 1398.0,1177.5 1399.0,1177.5 1400.0,1177.5 1401.0,1177.5 1402.0,1177.5 1403.0,1177.5 1404.0,1177.5 1405.0,1177.5 1406.0,1177.5 1407.0,1177.5 1408.0,1177.5 1409.0,1177.5 1410.0,1177.5 1411.0,1177.5 1412.0,1177.5 1413.0,1177.5 1414.0,1177.5 1415.0,1177.5 1416.0,1177.5 1417.0,1177.5 1418.0,1177.5 1419.0,1177.5 1420.0,1177.5 1421.0,1177.5 1422.0,1177.5 1423.0,1177.5 1424.0,1177.5 1425.0,1177.5 1426.0,1177.5 1427.0,1177.5 1428.0,1177.5 1429.0,1177.5 1430.0,1177.5 1431.0,1177.5 1432.0,1177.5 1433.0,1177.5 1434.0,1177.5 1435.0,1177.5 1436.0,1177.5 1437.0,1177.5 1438.0,1177.5 1439.0,1177.5 1440.0,1177.5 1441.0,1177.5 1442.0,1177.5 1443.0,1177.5 1444.0,1177.5 1445.0,1177.5 1446.0,1177.5 1447.0,1177.5 1448.0,1177.5 1449.0,1177.5 1450.0,1177.5 1451.0,1177.5 1452.0,1177.5 1453.0,1177.5 1454.0,1177.5 1455.0,1177.5 1456.0,1177.5 1457.0,1177.5 1458.0,1177.5 1459.0,1177.5 1460.0,1177.5 1461.0,1177.4 1462.0,1177.4 1463.0,1177.4 1464.0,1177.4 1465.0,1177.4 1466.0,1177.4 1467.0,1177.4 1468.0,1177.4 1469.0,1177.4 1470.0,1177.4 1471.0,1177.4 1472.0,1177.4 1473.0,1177.4 1474.0,1177.4 1475.0,1177.4 1476.0,1177.4 1477.0,1177.4 1478.0,1177.4 1479.0,1177.4 1480.0,1177.4 1481.0,1177.4 1482.0,1177.4 1483.0,1177.4 1484.0,1177.4 1485.0,1177.4 1486.0,1177.4 1487.0,1177.4 1488.0,1177.4 1489.0,1177.4 1490.0,1177.4 1491.0,1177.4 1492.0,1177.4 1493.0,1177.4 1494.0,1177.4 1495.0,1177.4 1496.0,1177.4 1497.0,1177.4 1498.0,1177.4 1499.0,1177.4 1500.0,1177.4 1501.0,1177.4 1502.0,1177.4 1503.0,1177.4 1504.0,1177.4 1505.0,1177.4 1506.0,1177.4 1507.0,1177.4 1508.0,1177.4 1509.0,1177.4 1510.0,1177.4 1511.0,1177.4 1512.0,1177.4 1513.0,1177.4 1514.0,1177.4 1515.0,1177.4 1516.0,1177.3 1517.0,1177.3 1518.0,1177.3 1519.0,1177.3 1520.0,1177.3 1521.0,1177.3 1522.0,1177.3 1523.0,1177.3 1524.0,1177.3 1525.0,1177.3 1526.0,1177.3 1527.0,1177.3 1528.0,1177.3 1529.0,1177.3 1530.0,1177.3 1531.0,1177.2 1532.0,1177.2 1533.0,1177.2 1534.0,1177.2 1535.0,1177.2 1536.0,1177.1 1537.0,1177.1 1538.0,1177.1 1539.0,1177.0 1540.0,1177.0 1541.0,1177.0 1542.0,1176.9 1543.0,1176.8 1544.0,1176.8 1545.0,1176.7 1546.0,1176.6 1547.0,1176.5 1548.0,1176.3 1549.0,1176.2 1550.0,1176.1 1551.0,1175.9 1552.0,1175.8 1553.0,1175.6 1554.0,1175.4 1555.0,1175.2 1556.0,1174.9 1557.0,1174.7 1558.0,1174.5 1559.0,1174.2 1560.0,1173.9 1561.0,1173.7 1562.0,1173.4 1563.0,1173.1 1564.0,1172.8 1565.0,1172.5 1566.0,1172.2 1567.0,1171.9 1568.0,1171.6 1569.0,1171.3 1570.0,1171.0 1571.0,1170.8 1572.0,1170.5 1573.0,1170.3 1574.0,1170.1 1575.0,1170.0 1576.0,1169.9 1577.0,1169.8 1578.0,1169.8 1579.0,1169.8 1580.0,1169.8 1581.0,1170.0 1582.0,1170.1 1583.0,1170.4 1584.0,1170.7 1585.0,1171.0 1586.0,1171.4 1587.0,1171.9 1588.0,1172.4 1589.0,1173.0 1590.0,1173.7 1591.0,1174.4 1592.0,1175.1 1593.0,1175.8 1594.0,1176.6 1595.0,1177.4 1596.0,1178.1 1597.0,1178.9 1598.0,1179.6 1599.0,1180.2 1600.0,1180.8 1601.0,1181.4 1602.0,1181.9 1603.0,1182.3 1604.0,1182.7 1605.0,1183.0 1606.0,1183.3 1607.0,1183.5 1608.0,1183.6 1609.0,1183.7 1610.0,1183.7 1611.0,1183.7 1612.0,1183.7 1613.0,1183.6 1614.0,1183.5 1615.0,1183.3 1616.0,1183.1 1617.0,1182.9 1618.0,1182.7 1619.0,1182.4 1620.0,1182.2 1621.0,1181.9 1622.0,1181.7 1623.0,1181.4 1624.0,1181.1 1625.0,1180.8 1626.0,1180.6 1627.0,1180.3 1628.0,1180.1 1629.0,1179.8 1630.0,1179.6 1631.0,1179.4 1632.0,1179.1 1633.0,1178.9 1634.0,1178.8 1635.0,1178.6 1636.0,1178.4 1637.0,1178.3 1638.0,1178.1 1639.0,1178.0 1640.0,1177.9 1641.0,1177.8 1642.0,1177.7 1643.0,1177.6 1644.0,1177.5 1645.0,1177.5 1646.0,1177.4 1647.0,1177.4 1648.0,1177.3 1649.0,1177.3 1650.0,1177.2 1651.0,1177.2 1652.0,1177.2 1653.0,1177.1 1654.0,1177.1 1655.0,1177.1 1656.0,1177.1 1657.0,1177.0 1658.0,1177.0 1659.0,1177.0 1660.0,1177.0 1661.0,1177.0 1662.0,1177.0 1663.0,1177.0 1664.0,1177.0 1665.0,1177.0 1666.0,1177.0 1667.0,1177.1 1668.0,1177.1 1669.0,1177.1 1670.0,1177.1 1671.0,1177.2 1672.0,1177.2 1673.0,1177.3 1674.0,1177.3 1675.0,1177.3 1676.0,1177.4 1677.0,1177.4 1678.0,1177.5 1679.0,1177.5 1680.0,1177.6 1681.0,1177.6 1682.0,1177.6 1683.0,1177.7 1684.0,1177.7 1685.0,1177.7 1686.0,1177.8 1687.0,1177.8 1688.0,1177.8 1689.0,1177.8 1690.0,1177.8 1691.0,1177.8 1692.0,1177.7 1693.0,1177.7 1694.0,1177.7 1695.0,1177.6 1696.0,1177.5 1697.0,1177.4 1698.0,1177.3 1699.0,1177.2 1700.0,1177.0 1701.0,1176.8 1702.0,1176.6 1703.0,1176.3 1704.0,1176.0 1705.0,1175.7 1706.0,1175.3 1707.0,1174.9 1708.0,1174.4 1709.0,1173.9 1710.0,1173.4 1711.0,1172.8 1712.0,1172.2 1713.0,1171.6 1714.0,1170.9 1715.0,1170.3 1716.0,1169.5 1717.0,1168.8 1718.0,1168.0 1719.0,1167.3 1720.0,1166.5 1721.0,1165.7 1722.0,1165.0 1723.0,1164.2 1724.0,1163.5 1725.0,1162.8 1726.0,1162.1 1727.0,1161.5 1728.0,1160.9 1729.0,1160.5 1730.0,1160.1 1731.0,1159.7 1732.0,1159.5 1733.0,1159.4 1734.0,1159.4 1735.0,1159.5 1736.0,1159.8 1737.0,1160.1 1738.0,1160.6 1739.0,1161.2 1740.0,1162.0 1741.0,1162.9 1742.0,1164.0 1743.0,1165.2 1744.0,1166.5 1745.0,1168.0 1746.0,1169.5 1747.0,1171.2 1748.0,1172.9 1749.0,1174.7 1750.0,1176.5 1751.0,1178.2 1752.0,1180.0 1753.0,1181.6 1754.0,1183.2 1755.0,1184.6 1756.0,1186.0 1757.0,1187.2 1758.0,1188.2 1759.0,1189.2 1760.0,1189.9 1761.0,1190.6 1762.0,1191.1 1763.0,1191.4 1764.0,1191.7 1765.0,1191.8 1766.0,1191.8 1767.0,1191.7 1768.0,1191.5 1769.0,1191.2 1770.0,1190.9 1771.0,1190.5 1772.0,1190.0 1773.0,1189.5 1774.0,1189.0 1775.0,1188.4 1776.0,1187.8 1777.0,1187.2 1778.0,1186.5 1779.0,1185.9 1780.0,1185.3 1781.0,1184.7 1782.0,1184.1 1783.0,1183.5 1784.0,1182.9 1785.0,1182.4 1786.0,1181.9 1787.0,1181.4 1788.0,1180.9 1789.0,1180.5 1790.0,1180.1 1791.0,1179.8 1792.0,1179.4 1793.0,1179.1 1794.0,1178.8 1795.0,1178.6 1796.0,1178.4 1797.0,1178.2 1798.0,1178.0 1799.0,1177.8 1800.0,1177.7 1801.0,1177.6 1802.0,1177.5 1803.0,1177.4 1804.0,1177.3 1805.0,1177.3 1806.0,1177.2 1807.0,1177.2 1808.0,1177.1 1809.0,1177.1 1810.0,1177.1 1811.0,1177.0 1812.0,1177.0 1813.0,1177.0 1814.0,1177.0 1815.0,1177.0 1816.0,1177.0 1817.0,1177.0 1818.0,1177.0 1819.0,1177.0 1820.0,1177.0 1821.0,1177.0 1822.0,1177.0 1823.0,1177.0 1824.0,1177.0 1825.0,1177.0 1826.0,1177.0 1827.0,1177.0 1828.0,1177.0 1829.0,1177.0 1830.0,1177.0 1831.0,1177.1 1832.0,1177.1 1833.0,1177.1 1834.0,1177.1 1835.0,1177.1 1836.0,1177.1 1837.0,1177.1 1838.0,1177.1 1839.0,1177.1 1840.0,1177.1 1841.0,1177.1 1842.0,1177.0 1843.0,1177.0 1844.0,1177.0 1845.0,1177.0 1846.0,1176.9 1847.0,1176.9 1848.0,1176.9 1849.0,1176.8 1850.0,1176.7 1851.0,1176.7 1852.0,1176.6 1853.0,1176.5 1854.0,1176.4 1855.0,1176.2 1856.0,1176.1 1857.0,1175.9 1858.0,1175.7 1859.0,1175.5 1860.0,1175.3 1861.0,1175.0 1862.0,1174.7 1863.0,1174.4 1864.0,1174.1 1865.0,1173.7 1866.0,1173.3 1867.0,1172.9 1868.0,1172.4 1869.0,1172.0 1870.0,1171.5 1871.0,1170.9 1872.0,1170.4 1873.0,1169.8 1874.0,1169.2 1875.0,1168.6 1876.0,1168.0 1877.0,1167.5 1878.0,1166.9 1879.0,1166.3 1880.0,1165.7 1881.0,1165.2 1882.0,1164.7 1883.0,1164.3 1884.0,1163.9 1885.0,1163.5 1886.0,1163.2 1887.0,1163.0 1888.0,1162.9 1889.0,1162.9 1890.0,1163.0 1891.0,1163.2 1892.0,1163.5 1893.0,1163.9 1894.0,1164.4 1895.0,1165.1 1896.0,1165.9 1897.0,1166.9 1898.0,1167.9 1899.0,1169.1 1900.0,1170.5 1901.0,1171.9 1902.0,1173.4 1903.0,1175.0 1904.0,1176.6 1905.0,1178.3 1906.0,1179.9 1907.0,1181.5 1908.0,1183.1 1909.0,1184.6 1910.0,1186.0 1911.0,1187.2 1912.0,1188.4 1913.0,1189.4 1914.0,1190.3 1915.0,1191.1 1916.0,1191.7 1917.0,1192.2 1918.0,1192.6 1919.0,1192.8 1920.0,1193.0 1921.0,1193.0 1922.0,1192.9 1923.0,1192.8 1924.0,1192.5 1925.0,1192.2 1926.0,1191.9 1927.0,1191.4 1928.0,1190.9 1929.0,1190.4 1930.0,1189.9 1931.0,1189.3 1932.0,1188.7 1933.0,1188.1 1934.0,1187.5 1935.0,1186.8 1936.0,1186.2 1937.0,1185.6 1938.0,1185.1 1939.0,1184.5 1940.0,1183.9 1941.0,1183.4 1942.0,1182.9 1943.0,1182.4 1944.0,1182.0 1945.0,1181.6 1946.0,1181.2 1947.0,1180.8 1948.0,1180.5 1949.0,1180.2 1950.0,1179.9 1951.0,1179.6 1952.0,1179.4 1953.0,1179.2 1954.0,1179.0 1955.0,1178.8 1956.0,1178.6 1957.0,1178.5 1958.0,1178.3 1959.0,1178.2 1960.0,1178.1 1961.0,1178.0 1962.0,1177.9 1963.0,1177.8 1964.0,1177.7 1965.0,1177.7 1966.0,1177.6 1967.0,1177.5 1968.0,1177.5 1969.0,1177.4 1970.0,1177.4 1971.0,1177.3 1972.0,1177.3 1973.0,1177.2 1974.0,1177.2 1975.0,1177.2 1976.0,1177.1 1977.0,1177.1 1978.0,1177.1 1979.0,1177.0 1980.0,1177.0 1981.0,1177.0 1982.0,1176.9 1983.0,1176.9 1984.0,1176.9 1985.0,1176.8 1986.0,1176.8 1987.0,1176.8 1988.0,1176.8 1989.0,1176.7 1990.0,1176.7 1991.0,1176.7 1992.0,1176.6 1993.0,1176.6 1994.0,1176.5 1995.0,1176.5 1996.0,1176.5 1997.0,1176.4 1998.0,1176.4 1999.0,1176.3 2000.0,1176.3 2001.0,1176.3 2002.0,1176.2 2003.0,1176.2 2004.0,1176.1 2005.0,1176.0 2006.0,1176.0 2007.0,1175.9 2008.0,1175.8 2009.0,1175.8 2010.0,1175.7 2011.0,1175.6 2012.0,1175.5 2013.0,1175.4 2014.0,1175.3 2015.0,1175.2 2016.0,1175.1 2017.0,1174.9 2018.0,1174.8 2019.0,1174.6 2020.0,1174.5 2021.0,1174.3 2022.0,1174.1 2023.0,1173.9 2024.0,1173.7 2025.0,1173.5 2026.0,1173.3 2027.0,1173.0 2028.0,1172.8 2029.0,1172.6 2030.0,1172.3 2031.0,1172.1 2032.0,1171.8 2033.0,1171.6 2034.0,1171.3 2035.0,1171.1 2036.0,1170.9 2037.0,1170.7 2038.0,1170.5 2039.0,1170.3 2040.0,1170.1 2041.0,1170.0 2042.0,1169.9 2043.0,1169.8 2044.0,1169.8 2045.0,1169.8 2046.0,1169.8 2047.0,1169.9 2048.0,1170.1 2049.0,1170.2 2050.0,1170.5 2051.0,1170.7 2052.0,1171.1 2053.0,1171.4 2054.0,1171.9 2055.0,1172.4 2056.0,1172.9 2057.0,1173.4 2058.0,1174.0 2059.0,1174.7 2060.0,1175.3 2061.0,1175.9 2062.0,1176.6 2063.0,1177.2 2064.0,1177.8 2065.0,1178.3 2066.0,1178.8 2067.0,1179.3 2068.0,1179.8 2069.0,1180.1 2070.0,1180.5 2071.0,1180.7 2072.0,1181.0 2073.0,1181.1 2074.0,1181.3 2075.0,1181.4 2076.0,1181.4 2077.0,1181.4 2078.0,1181.4 2079.0,1181.3 2080.0,1181.2 2081.0,1181.1 2082.0,1181.0 2083.0,1180.8 2084.0,1180.6 2085.0,1180.5 2086.0,1180.3 2087.0,1180.1 2088.0,1179.9 2089.0,1179.6 2090.0,1179.4 2091.0,1179.2 2092.0,1179.0 2093.0,1178.8 2094.0,1178.6 2095.0,1178.5 2096.0,1178.3 2097.0,1178.1 2098.0,1178.0 2099.0,1177.8 2100.0,1177.7 2101.0,1177.6 2102.0,1177.5 2103.0,1177.4 2104.0,1177.3 2105.0,1177.2 2106.0,1177.2 2107.0,1177.1 2108.0,1177.1 2109.0,1177.0 2110.0,1177.0 2111.0,1177.0 2112.0,1177.0 2113.0,1177.0 2114.0,1177.0 2115.0,1177.0 2116.0,1177.0 2117.0,1177.0 2118.0,1177.0 2119.0,1177.0 2120.0,1177.0 2121.0,1177.0 2122.0,1177.0 2123.0,1177.1 2124.0,1177.1 2125.0,1177.1 2126.0,1177.1 2127.0,1177.2 2128.0,1177.2 2129.0,1177.2 2130.0,1177.2 2131.0,1177.2 2132.0,1177.3 2133.0,1177.3 2134.0,1177.3 2135.0,1177.3 2136.0,1177.4 2137.0,1177.4 2138.0,1177.4 2139.0,1177.4 2140.0,1177.4 2141.0,1177.4 2142.0,1177.5 2143.0,1177.5 2144.0,1177.5 2145.0,1177.5 2146.0,1177.5 2147.0,1177.5 2148.0,1177.5 2149.0,1177.5 2150.0,1177.5 2151.0,1177.5 2152.0,1177.5 2153.0,1177.5 2154.0,1177.5 2155.0,1177.5 2156.0,1177.5 2157.0,1177.5 2158.0,1177.5 2159.0,1177.5 2160.0,1177.5 2161.0,1177.5 2162.0,1177.5 2163.0,1177.5 2164.0,1177.5 2165.0,1177.5 2166.0,1177.5 2167.0,1177.5 2168.0,1177.5 2169.0,1177.5 2170.0,1177.5 2171.0,1177.5 2172.0,1177.5 2173.0,1177.5 2174.0,1177.5 2175.0,1177.5 2176.0,1177.5 2177.0,1177.5 2178.0,1177.5 2179.0,1177.5 2180.0,1177.5 2181.0,1177.5 2182.0,1177.5 2183.0,1177.5 2184.0,1177.5 2185.0,1177.5 2186.0,1177.5 2187.0,1177.5 2188.0,1177.5 2189.0,1177.5 2190.0,1177.5 2191.0,1177.5 2192.0,1177.5 2193.0,1177.5 2194.0,1177.5 2195.0,1177.5 2196.0,1177.5 2197.0,1177.5 2198.0,1177.5 2199.0,1177.5 2200.0,1177.5 2201.0,1177.5 2202.0,1177.5 2203.0,1177.5 2204.0,1177.5 2205.0,1177.5 2206.0,1177.5 2207.0,1177.5 2208.0,1177.5 2209.0,1177.5 2210.0,1177.5 2211.0,1177.5 2212.0,1177.5 2213.0,1177.5 2214.0,1177.5 2215.0,1177.5 2216.0,1177.5 2217.0,1177.5 2218.0,1177.5 2219.0,1177.5 2220.0,1177.5 2221.0,1177.5 2222.0,1177.5 2223.0,1177.5 2224.0,1177.5 2225.0,1177.5 2226.0,1177.5 2227.0,1177.5 2228.0,1177.5 2229.0,1177.5 2230.0,1177.5 2231.0,1177.5 2232.0,1177.5 2233.0,1177.5 2234.0,1177.5 2235.0,1177.5 2236.0,1177.5 2237.0,1177.5 2238.0,1177.5 2239.0,1177.5 2240.0,1177.5 2241.0,1177.5 2242.0,1177.5 2243.0,1177.5 2244.0,1177.5 2245.0,1177.5 2246.0,1177.5 2247.0,1177.5 2248.0,1177.5 2249.0,1177.5 2250.0,1177.5 2251.0,1177.5 2252.0,1177.5 2253.0,1177.5 2254.0,1177.5 2255.0,1177.5 2256.0,1177.5 2257.0,1177.5 2258.0,1177.5 2259.0,1177.5 2260.0,1177.5 2261.0,1177.5 2262.0,1177.5 2263.0,1177.5 2264.0,1177.5 2265.0,1177.5 2266.0,1177.5 2267.0,1177.5 2268.0,1177.5 2269.0,1177.5 2270.0,1177.5 2271.0,1177.5 2272.0,1177.5 2273.0,1177.5 2274.0,1177.5 2275.0,1177.5 2276.0,1177.5 2277.0,1177.5 2278.0,1177.5 2279.0,1177.5 2280.0,1177.5 2281.0,1177.5 2282.0,1177.5 2283.0,1177.5 2284.0,1177.5 2285.0,1177.5 2286.0,1177.5 2287.0,1177.5 2288.0,1177.5 2289.0,1177.5 2290.0,1177.5 2291.0,1177.5 2292.0,1177.5 2293.0,1177.5 2294.0,1177.5 2295.0,1177.5 2296.0,1177.5 2297.0,1177.5 2298.0,1177.5 2299.0,1177.5 2300.0,1177.5 2301.0,1177.5 2302.0,1177.5 2303.0,1177.5 2304.0,1177.5 2305.0,1177.5 2306.0,1177.5 2307.0,1177.5 2308.0,1177.5 2309.0,1177.5 2310.0,1177.5 2311.0,1177.5 2312.0,1177.5 2313.0,1177.5 2314.0,1177.5 2315.0,1177.5 2316.0,1177.5 2317.0,1177.5 2318.0,1177.5 2319.0,1177.5 2320.0,1177.5 2321.0,1177.5 2322.0,1177.5 2323.0,1177.5 2324.0,1177.5 2325.0,1177.5 2326.0,1177.5 2327.0,1177.5 2328.0,1177.5 2329.0,1177.5 2330.0,1177.5 2331.0,1177.5 2332.0,1177.5 2333.0,1177.5 2334.0,1177.5 2335.0,1177.5 2336.0,1177.5 2337.0,1177.5 2338.0,1177.5 2339.0,1177.5 2340.0,1177.5 2341.0,1177.5 2342.0,1177.5 2343.0,1177.5 2344.0,1177.5 2345.0,1177.5 2346.0,1177.5 2347.0,1177.5 2348.0,1177.5 2349.0,1177.5 2350.0,1177.5 2351.0,1177.5 2352.0,1177.5 2353.0,1177.5 2354.0,1177.5" fill="none" stroke="#10108C" stroke-width="4.2" stroke-linejoin="round" stroke-linecap="round" />
<polyline points="1308.0,1174.0 1309.0,1174.0 1310.0,1174.0 1311.0,1174.0 1312.0,1174.0 1313.0,1174.0 1314.0,1174.0 1315.0,1174.0 1316.0,1174.0 1317.0,1174.0 1318.0,1174.0 1319.0,1174.0 1320.0,1174.0 1321.0,1174.0 1322.0,1174.0 1323.0,1174.0 1324.0,1174.1 1325.0,1174.1 1326.0,1174.1 1327.0,1174.1 1328.0,1174.1 1329.0,1174.1 1330.0,1174.1 1331.0,1174.1 1332.0,1174.2 1333.0,1174.2 1334.0,1174.2 1335.0,1174.2 1336.0,1174.2 1337.0,1174.2 1338.0,1174.2 1339.0,1174.2 1340.0,1174.3 1341.0,1174.3 1342.0,1174.3 1343.0,1174.3 1344.0,1174.3 1345.0,1174.3 1346.0,1174.3 1347.0,1174.3 1348.0,1174.3 1349.0,1174.4 1350.0,1174.4 1351.0,1174.4 1352.0,1174.4 1353.0,1174.4 1354.0,1174.4 1355.0,1174.4 1356.0,1174.4 1357.0,1174.4 1358.0,1174.4 1359.0,1174.5 1360.0,1174.5 1361.0,1174.5 1362.0,1174.5 1363.0,1174.5 1364.0,1174.5 1365.0,1174.5 1366.0,1174.5 1367.0,1174.5 1368.0,1174.5 1369.0,1174.5 1370.0,1174.6 1371.0,1174.6 1372.0,1174.6 1373.0,1174.6 1374.0,1174.6 1375.0,1174.6 1376.0,1174.6 1377.0,1174.6 1378.0,1174.6 1379.0,1174.6 1380.0,1174.6 1381.0,1174.6 1382.0,1174.6 1383.0,1174.7 1384.0,1174.7 1385.0,1174.7 1386.0,1174.7 1387.0,1174.7 1388.0,1174.7 1389.0,1174.7 1390.0,1174.7 1391.0,1174.7 1392.0,1174.7 1393.0,1174.7 1394.0,1174.7 1395.0,1174.7 1396.0,1174.7 1397.0,1174.7 1398.0,1174.7 1399.0,1174.7 1400.0,1174.8 1401.0,1174.8 1402.0,1174.8 1403.0,1174.8 1404.0,1174.8 1405.0,1174.8 1406.0,1174.8 1407.0,1174.8 1408.0,1174.8 1409.0,1174.8 1410.0,1174.8 1411.0,1174.8 1412.0,1174.8 1413.0,1174.8 1414.0,1174.8 1415.0,1174.8 1416.0,1174.8 1417.0,1174.8 1418.0,1174.8 1419.0,1174.8 1420.0,1174.8 1421.0,1174.8 1422.0,1174.9 1423.0,1174.9 1424.0,1174.9 1425.0,1174.9 1426.0,1174.9 1427.0,1174.9 1428.0,1174.9 1429.0,1174.9 1430.0,1174.9 1431.0,1174.9 1432.0,1174.9 1433.0,1174.9 1434.0,1174.9 1435.0,1174.9 1436.0,1174.9 1437.0,1174.9 1438.0,1174.9 1439.0,1174.9 1440.0,1174.9 1441.0,1174.9 1442.0,1174.9 1443.0,1174.9 1444.0,1174.9 1445.0,1174.9 1446.0,1174.9 1447.0,1174.9 1448.0,1174.9 1449.0,1174.9 1450.0,1174.9 1451.0,1174.9 1452.0,1174.9 1453.0,1174.9 1454.0,1174.9 1455.0,1174.9 1456.0,1174.9 1457.0,1174.9 1458.0,1174.9 1459.0,1174.9 1460.0,1174.9 1461.0,1174.9 1462.0,1174.9 1463.0,1174.9 1464.0,1174.9 1465.0,1174.9 1466.0,1174.9 1467.0,1174.9 1468.0,1174.9 1469.0,1174.9 1470.0,1174.9 1471.0,1174.9 1472.0,1174.9 1473.0,1174.9 1474.0,1174.9 1475.0,1174.9 1476.0,1174.9 1477.0,1174.9 1478.0,1174.9 1479.0,1174.9 1480.0,1174.9 1481.0,1174.9 1482.0,1174.9 1483.0,1174.9 1484.0,1174.9 1485.0,1174.9 1486.0,1174.9 1487.0,1174.9 1488.0,1174.9 1489.0,1174.9 1490.0,1174.9 1491.0,1174.9 1492.0,1174.9 1493.0,1174.9 1494.0,1174.9 1495.0,1174.9 1496.0,1174.9 1497.0,1174.9 1498.0,1174.9 1499.0,1174.9 1500.0,1174.9 1501.0,1174.9 1502.0,1174.9 1503.0,1174.9 1504.0,1174.8 1505.0,1174.8 1506.0,1174.8 1507.0,1174.8 1508.0,1174.8 1509.0,1174.8 1510.0,1174.8 1511.0,1174.8 1512.0,1174.8 1513.0,1174.8 1514.0,1174.8 1515.0,1174.8 1516.0,1174.8 1517.0,1174.8 1518.0,1174.7 1519.0,1174.7 1520.0,1174.7 1521.0,1174.7 1522.0,1174.7 1523.0,1174.7 1524.0,1174.7 1525.0,1174.6 1526.0,1174.6 1527.0,1174.6 1528.0,1174.6 1529.0,1174.6 1530.0,1174.5 1531.0,1174.5 1532.0,1174.5 1533.0,1174.4 1534.0,1174.4 1535.0,1174.3 1536.0,1174.3 1537.0,1174.2 1538.0,1174.2 1539.0,1174.1 1540.0,1174.0 1541.0,1173.9 1542.0,1173.8 1543.0,1173.7 1544.0,1173.5 1545.0,1173.4 1546.0,1173.2 1547.0,1173.0 1548.0,1172.7 1549.0,1172.5 1550.0,1172.2 1551.0,1171.9 1552.0,1171.6 1553.0,1171.3 1554.0,1170.9 1555.0,1170.5 1556.0,1170.2 1557.0,1169.7 1558.0,1169.3 1559.0,1168.8 1560.0,1168.4 1561.0,1167.9 1562.0,1167.4 1563.0,1166.9 1564.0,1166.4 1565.0,1165.9 1566.0,1165.3 1567.0,1164.8 1568.0,1164.3 1569.0,1163.8 1570.0,1163.3 1571.0,1162.9 1572.0,1162.4 1573.0,1162.0 1574.0,1161.6 1575.0,1161.3 1576.0,1161.0 1577.0,1160.8 1578.0,1160.7 1579.0,1160.6 1580.0,1160.6 1581.0,1160.7 1582.0,1160.8 1583.0,1161.1 1584.0,1161.5 1585.0,1162.0 1586.0,1162.6 1587.0,1163.3 1588.0,1164.1 1589.0,1165.1 1590.0,1166.2 1591.0,1167.3 1592.0,1168.6 1593.0,1169.9 1594.0,1171.3 1595.0,1172.7 1596.0,1174.1 1597.0,1175.5 1598.0,1176.8 1599.0,1178.1 1600.0,1179.3 1601.0,1180.4 1602.0,1181.3 1603.0,1182.2 1604.0,1182.9 1605.0,1183.5 1606.0,1184.0 1607.0,1184.4 1608.0,1184.7 1609.0,1184.9 1610.0,1184.9 1611.0,1185.0 1612.0,1184.9 1613.0,1184.8 1614.0,1184.6 1615.0,1184.4 1616.0,1184.1 1617.0,1183.8 1618.0,1183.5 1619.0,1183.1 1620.0,1182.7 1621.0,1182.3 1622.0,1181.9 1623.0,1181.5 1624.0,1181.1 1625.0,1180.6 1626.0,1180.2 1627.0,1179.8 1628.0,1179.4 1629.0,1179.0 1630.0,1178.6 1631.0,1178.2 1632.0,1177.9 1633.0,1177.6 1634.0,1177.2 1635.0,1176.9 1636.0,1176.7 1637.0,1176.4 1638.0,1176.1 1639.0,1175.9 1640.0,1175.7 1641.0,1175.5 1642.0,1175.3 1643.0,1175.2 1644.0,1175.0 1645.0,1174.9 1646.0,1174.8 1647.0,1174.7 1648.0,1174.6 1649.0,1174.5 1650.0,1174.4 1651.0,1174.3 1652.0,1174.3 1653.0,1174.2 1654.0,1174.2 1655.0,1174.1 1656.0,1174.1 1657.0,1174.1 1658.0,1174.0 1659.0,1174.0 1660.0,1174.0 1661.0,1174.0 1662.0,1174.0 1663.0,1174.0 1664.0,1174.0 1665.0,1174.0 1666.0,1174.0 1667.0,1174.0 1668.0,1174.0 1669.0,1174.1 1670.0,1174.1 1671.0,1174.1 1672.0,1174.2 1673.0,1174.2 1674.0,1174.2 1675.0,1174.3 1676.0,1174.3 1677.0,1174.3 1678.0,1174.3 1679.0,1174.4 1680.0,1174.4 1681.0,1174.4 1682.0,1174.4 1683.0,1174.5 1684.0,1174.5 1685.0,1174.5 1686.0,1174.5 1687.0,1174.5 1688.0,1174.4 1689.0,1174.4 1690.0,1174.4 1691.0,1174.3 1692.0,1174.2 1693.0,1174.2 1694.0,1174.1 1695.0,1173.9 1696.0,1173.8 1697.0,1173.6 1698.0,1173.5 1699.0,1173.2 1700.0,1173.0 1701.0,1172.7 1702.0,1172.4 1703.0,1172.0 1704.0,1171.6 1705.0,1171.2 1706.0,1170.6 1707.0,1170.1 1708.0,1169.5 1709.0,1168.8 1710.0,1168.1 1711.0,1167.3 1712.0,1166.5 1713.0,1165.7 1714.0,1164.8 1715.0,1163.8 1716.0,1162.8 1717.0,1161.8 1718.0,1160.7 1719.0,1159.6 1720.0,1158.5 1721.0,1157.4 1722.0,1156.2 1723.0,1155.1 1724.0,1153.9 1725.0,1152.8 1726.0,1151.7 1727.0,1150.6 1728.0,1149.6 1729.0,1148.6 1730.0,1147.7 1731.0,1146.8 1732.0,1146.1 1733.0,1145.5 1734.0,1145.0 1735.0,1144.6 1736.0,1144.4 1737.0,1144.4 1738.0,1144.6 1739.0,1144.9 1740.0,1145.5 1741.0,1146.3 1742.0,1147.3 1743.0,1148.6 1744.0,1150.2 1745.0,1152.0 1746.0,1154.2 1747.0,1156.5 1748.0,1159.1 1749.0,1161.9 1750.0,1164.9 1751.0,1167.9 1752.0,1171.1 1753.0,1174.3 1754.0,1177.4 1755.0,1180.4 1756.0,1183.2 1757.0,1185.9 1758.0,1188.3 1759.0,1190.5 1760.0,1192.4 1761.0,1194.1 1762.0,1195.5 1763.0,1196.6 1764.0,1197.5 1765.0,1198.1 1766.0,1198.5 1767.0,1198.8 1768.0,1198.8 1769.0,1198.7 1770.0,1198.4 1771.0,1198.0 1772.0,1197.5 1773.0,1196.9 1774.0,1196.2 1775.0,1195.4 1776.0,1194.6 1777.0,1193.7 1778.0,1192.8 1779.0,1191.9 1780.0,1190.9 1781.0,1190.0 1782.0,1189.0 1783.0,1188.1 1784.0,1187.1 1785.0,1186.2 1786.0,1185.3 1787.0,1184.5 1788.0,1183.6 1789.0,1182.9 1790.0,1182.1 1791.0,1181.4 1792.0,1180.7 1793.0,1180.1 1794.0,1179.5 1795.0,1179.0 1796.0,1178.5 1797.0,1178.0 1798.0,1177.6 1799.0,1177.2 1800.0,1176.8 1801.0,1176.5 1802.0,1176.2 1803.0,1175.9 1804.0,1175.7 1805.0,1175.5 1806.0,1175.3 1807.0,1175.1 1808.0,1175.0 1809.0,1174.8 1810.0,1174.7 1811.0,1174.6 1812.0,1174.5 1813.0,1174.4 1814.0,1174.3 1815.0,1174.3 1816.0,1174.2 1817.0,1174.2 1818.0,1174.1 1819.0,1174.0 1820.0,1174.0 1821.0,1174.0 1822.0,1173.9 1823.0,1173.9 1824.0,1173.8 1825.0,1173.8 1826.0,1173.8 1827.0,1173.7 1828.0,1173.7 1829.0,1173.7 1830.0,1173.7 1831.0,1173.6 1832.0,1173.6 1833.0,1173.6 1834.0,1173.5 1835.0,1173.5 1836.0,1173.5 1837.0,1173.4 1838.0,1173.4 1839.0,1173.3 1840.0,1173.3 1841.0,1173.2 1842.0,1173.2 1843.0,1173.1 1844.0,1173.1 1845.0,1173.0 1846.0,1172.9 1847.0,1172.8 1848.0,1172.7 1849.0,1172.6 1850.0,1172.4 1851.0,1172.3 1852.0,1172.1 1853.0,1172.0 1854.0,1171.7 1855.0,1171.5 1856.0,1171.3 1857.0,1171.0 1858.0,1170.7 1859.0,1170.4 1860.0,1170.0 1861.0,1169.6 1862.0,1169.1 1863.0,1168.7 1864.0,1168.2 1865.0,1167.6 1866.0,1167.0 1867.0,1166.4 1868.0,1165.7 1869.0,1165.0 1870.0,1164.2 1871.0,1163.4 1872.0,1162.5 1873.0,1161.6 1874.0,1160.7 1875.0,1159.8 1876.0,1158.8 1877.0,1157.8 1878.0,1156.8 1879.0,1155.8 1880.0,1154.8 1881.0,1153.8 1882.0,1152.8 1883.0,1151.9 1884.0,1151.0 1885.0,1150.1 1886.0,1149.3 1887.0,1148.6 1888.0,1148.0 1889.0,1147.5 1890.0,1147.1 1891.0,1146.8 1892.0,1146.7 1893.0,1146.8 1894.0,1147.0 1895.0,1147.5 1896.0,1148.2 1897.0,1149.1 1898.0,1150.3 1899.0,1151.7 1900.0,1153.4 1901.0,1155.4 1902.0,1157.7 1903.0,1160.2 1904.0,1163.0 1905.0,1165.9 1906.0,1169.0 1907.0,1172.2 1908.0,1175.4 1909.0,1178.6 1910.0,1181.8 1911.0,1184.8 1912.0,1187.6 1913.0,1190.2 1914.0,1192.6 1915.0,1194.7 1916.0,1196.5 1917.0,1198.1 1918.0,1199.4 1919.0,1200.4 1920.0,1201.2 1921.0,1201.7 1922.0,1202.1 1923.0,1202.2 1924.0,1202.2 1925.0,1201.9 1926.0,1201.6 1927.0,1201.1 1928.0,1200.5 1929.0,1199.8 1930.0,1199.0 1931.0,1198.2 1932.0,1197.3 1933.0,1196.3 1934.0,1195.4 1935.0,1194.3 1936.0,1193.3 1937.0,1192.3 1938.0,1191.3 1939.0,1190.2 1940.0,1189.2 1941.0,1188.3 1942.0,1187.3 1943.0,1186.4 1944.0,1185.5 1945.0,1184.6 1946.0,1183.8 1947.0,1183.0 1948.0,1182.3 1949.0,1181.6 1950.0,1181.0 1951.0,1180.4 1952.0,1179.8 1953.0,1179.3 1954.0,1178.8 1955.0,1178.3 1956.0,1177.9 1957.0,1177.5 1958.0,1177.2 1959.0,1176.9 1960.0,1176.6 1961.0,1176.3 1962.0,1176.0 1963.0,1175.8 1964.0,1175.6 1965.0,1175.4 1966.0,1175.3 1967.0,1175.1 1968.0,1175.0 1969.0,1174.8 1970.0,1174.7 1971.0,1174.6 1972.0,1174.5 1973.0,1174.4 1974.0,1174.4 1975.0,1174.3 1976.0,1174.2 1977.0,1174.2 1978.0,1174.1 1979.0,1174.0 1980.0,1174.0 1981.0,1174.0 1982.0,1173.9 1983.0,1173.9 1984.0,1173.8 1985.0,1173.8 1986.0,1173.8 1987.0,1173.7 1988.0,1173.7 1989.0,1173.7 1990.0,1173.6 1991.0,1173.6 1992.0,1173.6 1993.0,1173.5 1994.0,1173.5 1995.0,1173.4 1996.0,1173.4 1997.0,1173.4 1998.0,1173.3 1999.0,1173.3 2000.0,1173.2 2001.0,1173.2 2002.0,1173.1 2003.0,1173.1 2004.0,1173.0 2005.0,1172.9 2006.0,1172.8 2007.0,1172.7 2008.0,1172.7 2009.0,1172.5 2010.0,1172.4 2011.0,1172.3 2012.0,1172.2 2013.0,1172.0 2014.0,1171.8 2015.0,1171.6 2016.0,1171.4 2017.0,1171.2 2018.0,1171.0 2019.0,1170.7 2020.0,1170.4 2021.0,1170.1 2022.0,1169.8 2023.0,1169.5 2024.0,1169.1 2025.0,1168.7 2026.0,1168.3 2027.0,1167.9 2028.0,1167.4 2029.0,1167.0 2030.0,1166.5 2031.0,1166.0 2032.0,1165.5 2033.0,1165.0 2034.0,1164.4 2035.0,1163.9 2036.0,1163.4 2037.0,1162.9 2038.0,1162.4 2039.0,1161.9 2040.0,1161.4 2041.0,1161.0 2042.0,1160.6 2043.0,1160.3 2044.0,1159.9 2045.0,1159.7 2046.0,1159.5 2047.0,1159.4 2048.0,1159.4 2049.0,1159.5 2050.0,1159.6 2051.0,1159.9 2052.0,1160.3 2053.0,1160.8 2054.0,1161.5 2055.0,1162.3 2056.0,1163.3 2057.0,1164.4 2058.0,1165.6 2059.0,1167.0 2060.0,1168.4 2061.0,1170.0 2062.0,1171.6 2063.0,1173.3 2064.0,1175.0 2065.0,1176.6 2066.0,1178.2 2067.0,1179.8 2068.0,1181.2 2069.0,1182.5 2070.0,1183.7 2071.0,1184.8 2072.0,1185.7 2073.0,1186.4 2074.0,1187.0 2075.0,1187.5 2076.0,1187.9 2077.0,1188.1 2078.0,1188.3 2079.0,1188.3 2080.0,1188.3 2081.0,1188.1 2082.0,1187.9 2083.0,1187.6 2084.0,1187.3 2085.0,1187.0 2086.0,1186.5 2087.0,1186.1 2088.0,1185.6 2089.0,1185.1 2090.0,1184.6 2091.0,1184.1 2092.0,1183.6 2093.0,1183.0 2094.0,1182.5 2095.0,1182.0 2096.0,1181.5 2097.0,1181.0 2098.0,1180.5 2099.0,1180.1 2100.0,1179.6 2101.0,1179.2 2102.0,1178.8 2103.0,1178.4 2104.0,1178.0 2105.0,1177.7 2106.0,1177.4 2107.0,1177.1 2108.0,1176.8 2109.0,1176.6 2110.0,1176.3 2111.0,1176.1 2112.0,1175.9 2113.0,1175.7 2114.0,1175.6 2115.0,1175.4 2116.0,1175.3 2117.0,1175.2 2118.0,1175.1 2119.0,1175.0 2120.0,1174.9 2121.0,1174.8 2122.0,1174.7 2123.0,1174.6 2124.0,1174.6 2125.0,1174.5 2126.0,1174.5 2127.0,1174.4 2128.0,1174.4 2129.0,1174.4 2130.0,1174.3 2131.0,1174.3 2132.0,1174.3 2133.0,1174.2 2134.0,1174.2 2135.0,1174.2 2136.0,1174.2 2137.0,1174.2 2138.0,1174.1 2139.0,1174.1 2140.0,1174.1 2141.0,1174.1 2142.0,1174.1 2143.0,1174.1 2144.0,1174.1 2145.0,1174.0 2146.0,1174.0 2147.0,1174.0 2148.0,1174.0 2149.0,1174.0 2150.0,1174.0 2151.0,1174.0 2152.0,1174.0 2153.0,1174.0 2154.0,1174.0 2155.0,1174.0 2156.0,1174.0 2157.0,1174.0 2158.0,1173.9 2159.0,1173.9 2160.0,1173.9 2161.0,1173.9 2162.0,1173.9 2163.0,1173.9 2164.0,1173.9 2165.0,1173.9 2166.0,1173.9 2167.0,1173.9 2168.0,1173.9 2169.0,1173.9 2170.0,1173.9 2171.0,1173.9 2172.0,1173.9 2173.0,1173.9 2174.0,1173.9 2175.0,1173.9 2176.0,1173.9 2177.0,1173.9 2178.0,1173.9 2179.0,1173.9 2180.0,1173.9 2181.0,1173.9 2182.0,1173.9 2183.0,1173.9 2184.0,1173.9 2185.0,1173.9 2186.0,1173.8 2187.0,1173.8 2188.0,1173.8 2189.0,1173.8 2190.0,1173.8 2191.0,1173.8 2192.0,1173.8 2193.0,1173.8 2194.0,1173.8 2195.0,1173.8 2196.0,1173.8 2197.0,1173.8 2198.0,1173.8 2199.0,1173.8 2200.0,1173.8 2201.0,1173.8 2202.0,1173.8 2203.0,1173.8 2204.0,1173.8 2205.0,1173.8 2206.0,1173.8 2207.0,1173.8 2208.0,1173.8 2209.0,1173.8 2210.0,1173.8 2211.0,1173.8 2212.0,1173.8 2213.0,1173.8 2214.0,1173.8 2215.0,1173.8 2216.0,1173.8 2217.0,1173.8 2218.0,1173.8 2219.0,1173.8 2220.0,1173.8 2221.0,1173.8 2222.0,1173.8 2223.0,1173.8 2224.0,1173.8 2225.0,1173.8 2226.0,1173.8 2227.0,1173.8 2228.0,1173.8 2229.0,1173.8 2230.0,1173.8 2231.0,1173.8 2232.0,1173.8 2233.0,1173.8 2234.0,1173.8 2235.0,1173.8 2236.0,1173.8 2237.0,1173.8 2238.0,1173.8 2239.0,1173.8 2240.0,1173.8 2241.0,1173.8 2242.0,1173.8 2243.0,1173.8 2244.0,1173.8 2245.0,1173.8 2246.0,1173.8 2247.0,1173.8 2248.0,1173.8 2249.0,1173.8 2250.0,1173.8 2251.0,1173.8 2252.0,1173.8 2253.0,1173.8 2254.0,1173.8 2255.0,1173.8 2256.0,1173.8 2257.0,1173.8 2258.0,1173.8 2259.0,1173.8 2260.0,1173.8 2261.0,1173.8 2262.0,1173.8 2263.0,1173.8 2264.0,1173.8 2265.0,1173.8 2266.0,1173.8 2267.0,1173.8 2268.0,1173.8 2269.0,1173.9 2270.0,1173.9 2271.0,1173.9 2272.0,1173.9 2273.0,1173.9 2274.0,1173.9 2275.0,1173.9 2276.0,1173.9 2277.0,1173.9 2278.0,1173.9 2279.0,1173.9 2280.0,1173.9 2281.0,1173.9 2282.0,1173.9 2283.0,1173.9 2284.0,1173.9 2285.0,1173.9 2286.0,1173.9 2287.0,1173.9 2288.0,1173.9 2289.0,1173.9 2290.0,1173.9 2291.0,1173.9 2292.0,1173.9 2293.0,1173.9 2294.0,1173.9 2295.0,1173.9 2296.0,1173.9 2297.0,1173.9 2298.0,1173.9 2299.0,1173.9 2300.0,1173.9 2301.0,1173.9 2302.0,1173.9 2303.0,1173.9 2304.0,1173.9 2305.0,1173.9 2306.0,1173.9 2307.0,1173.9 2308.0,1173.9 2309.0,1173.9 2310.0,1173.9 2311.0,1173.9 2312.0,1173.9 2313.0,1173.9 2314.0,1173.9 2315.0,1173.9 2316.0,1173.9 2317.0,1173.9 2318.0,1173.9 2319.0,1173.9 2320.0,1173.9 2321.0,1173.9 2322.0,1174.0 2323.0,1174.0 2324.0,1174.0 2325.0,1174.0 2326.0,1174.0 2327.0,1174.0 2328.0,1174.0 2329.0,1174.0 2330.0,1174.0 2331.0,1174.0 2332.0,1174.0 2333.0,1174.0 2334.0,1174.0 2335.0,1174.0 2336.0,1174.0 2337.0,1174.0 2338.0,1174.0 2339.0,1174.0 2340.0,1174.0 2341.0,1174.0 2342.0,1174.0 2343.0,1174.0 2344.0,1174.0 2345.0,1174.0 2346.0,1174.0 2347.0,1174.0 2348.0,1174.0 2349.0,1174.0 2350.0,1174.0 2351.0,1174.0 2352.0,1174.0 2353.0,1174.0 2354.0,1174.0" fill="none" stroke="#FF0000" stroke-width="4.2" stroke-linejoin="round" stroke-linecap="round" />
<polyline points="1308.0,1173.4 1309.0,1173.3 1310.0,1173.3 1311.0,1173.5 1312.0,1173.6 1313.0,1173.7 1314.0,1173.7 1315.0,1173.3 1316.0,1173.4 1317.0,1173.7 1318.0,1173.4 1319.0,1173.3 1320.0,1173.3 1321.0,1173.3 1322.0,1174.0 1323.0,1173.8 1324.0,1173.6 1325.0,1174.1 1326.0,1174.1 1327.0,1174.1 1328.0,1173.8 1329.0,1173.5 1330.0,1173.8 1331.0,1173.9 1332.0,1173.5 1333.0,1173.6 1334.0,1173.5 1335.0,1173.9 1336.0,1173.7 1337.0,1173.7 1338.0,1173.3 1339.0,1173.3 1340.0,1172.6 1341.0,1172.6 1342.0,1172.6 1343.0,1172.5 1344.0,1172.9 1345.0,1172.9 1346.0,1172.9 1347.0,1173.3 1348.0,1173.2 1349.0,1173.0 1350.0,1172.7 1351.0,1172.1 1352.0,1172.7 1353.0,1172.7 1354.0,1173.1 1355.0,1172.9 1356.0,1173.0 1357.0,1173.4 1358.0,1173.5 1359.0,1173.0 1360.0,1173.0 1361.0,1172.9 1362.0,1173.3 1363.0,1173.6 1364.0,1173.2 1365.0,1172.8 1366.0,1172.9 1367.0,1172.9 1368.0,1173.0 1369.0,1173.1 1370.0,1172.7 1371.0,1173.4 1372.0,1173.9 1373.0,1173.5 1374.0,1173.7 1375.0,1173.6 1376.0,1173.5 1377.0,1173.3 1378.0,1172.8 1379.0,1172.8 1380.0,1173.1 1381.0,1173.1 1382.0,1173.3 1383.0,1173.5 1384.0,1174.1 1385.0,1174.1 1386.0,1174.4 1387.0,1174.5 1388.0,1174.5 1389.0,1174.2 1390.0,1173.7 1391.0,1173.0 1392.0,1173.0 1393.0,1172.6 1394.0,1172.5 1395.0,1172.5 1396.0,1172.3 1397.0,1172.2 1398.0,1172.7 1399.0,1172.7 1400.0,1172.8 1401.0,1172.7 1402.0,1172.2 1403.0,1172.5 1404.0,1172.7 1405.0,1172.7 1406.0,1172.8 1407.0,1172.8 1408.0,1173.0 1409.0,1173.3 1410.0,1173.5 1411.0,1173.9 1412.0,1174.0 1413.0,1173.9 1414.0,1174.2 1415.0,1174.0 1416.0,1174.0 1417.0,1173.9 1418.0,1173.9 1419.0,1174.0 1420.0,1174.3 1421.0,1173.9 1422.0,1174.0 1423.0,1173.7 1424.0,1173.5 1425.0,1172.9 1426.0,1172.9 1427.0,1172.6 1428.0,1172.6 1429.0,1172.7 1430.0,1173.2 1431.0,1173.6 1432.0,1174.1 1433.0,1173.9 1434.0,1173.7 1435.0,1174.1 1436.0,1174.1 1437.0,1173.8 1438.0,1173.2 1439.0,1173.3 1440.0,1173.1 1441.0,1173.1 1442.0,1173.1 1443.0,1173.0 1444.0,1173.3 1445.0,1173.4 1446.0,1173.3 1447.0,1173.2 1448.0,1172.9 1449.0,1172.6 1450.0,1172.6 1451.0,1172.3 1452.0,1172.2 1453.0,1172.3 1454.0,1172.4 1455.0,1172.6 1456.0,1172.9 1457.0,1172.8 1458.0,1173.0 1459.0,1173.4 1460.0,1173.1 1461.0,1173.5 1462.0,1173.4 1463.0,1173.2 1464.0,1173.3 1465.0,1173.0 1466.0,1173.0 1467.0,1173.0 1468.0,1172.7 1469.0,1172.9 1470.0,1173.2 1471.0,1172.6 1472.0,1172.7 1473.0,1172.7 1474.0,1172.8 1475.0,1172.8 1476.0,1172.4 1477.0,1172.4 1478.0,1173.1 1479.0,1172.7 1480.0,1172.4 1481.0,1172.2 1482.0,1171.8 1483.0,1171.9 1484.0,1172.0 1485.0,1171.7 1486.0,1172.1 1487.0,1172.3 1488.0,1172.5 1489.0,1173.1 1490.0,1173.5 1491.0,1173.3 1492.0,1173.7 1493.0,1173.8 1494.0,1173.9 1495.0,1174.1 1496.0,1173.8 1497.0,1173.6 1498.0,1174.1 1499.0,1174.1 1500.0,1173.8 1501.0,1174.0 1502.0,1173.6 1503.0,1173.6 1504.0,1173.3 1505.0,1172.9 1506.0,1172.4 1507.0,1172.6 1508.0,1172.6 1509.0,1172.9 1510.0,1173.4 1511.0,1173.4 1512.0,1173.1 1513.0,1173.2 1514.0,1173.0 1515.0,1173.1 1516.0,1172.9 1517.0,1172.3 1518.0,1172.4 1519.0,1172.5 1520.0,1172.6 1521.0,1172.7 1522.0,1172.3 1523.0,1172.3 1524.0,1172.5 1525.0,1172.8 1526.0,1172.7 1527.0,1173.0 1528.0,1173.2 1529.0,1173.5 1530.0,1173.3 1531.0,1172.9 1532.0,1172.8 1533.0,1172.8 1534.0,1172.4 1535.0,1172.4 1536.0,1172.6 1537.0,1172.9 1538.0,1173.5 1539.0,1173.7 1540.0,1173.6 1541.0,1174.1 1542.0,1174.0 1543.0,1173.9 1544.0,1174.1 1545.0,1173.9 1546.0,1173.7 1547.0,1173.7 1548.0,1173.2 1549.0,1172.8 1550.0,1172.4 1551.0,1171.5 1552.0,1171.1 1553.0,1170.6 1554.0,1170.2 1555.0,1169.6 1556.0,1169.0 1557.0,1168.9 1558.0,1168.8 1559.0,1168.9 1560.0,1168.5 1561.0,1168.5 1562.0,1168.5 1563.0,1168.6 1564.0,1168.2 1565.0,1168.3 1566.0,1168.0 1567.0,1168.0 1568.0,1167.0 1569.0,1166.3 1570.0,1164.9 1571.0,1163.0 1572.0,1160.8 1573.0,1158.1 1574.0,1153.2 1575.0,1147.1 1576.0,1139.8 1577.0,1132.0 1578.0,1125.7 1579.0,1119.8 1580.0,1113.3 1581.0,1107.6 1582.0,1102.0 1583.0,1097.6 1584.0,1094.8 1585.0,1091.5 1586.0,1089.6 1587.0,1090.1 1588.0,1092.7 1589.0,1097.5 1590.0,1105.3 1591.0,1129.1 1592.0,1152.6 1593.0,1171.4 1594.0,1189.1 1595.0,1204.9 1596.0,1219.9 1597.0,1233.2 1598.0,1242.5 1599.0,1250.4 1600.0,1255.2 1601.0,1253.4 1602.0,1247.2 1603.0,1240.0 1604.0,1229.8 1605.0,1217.2 1606.0,1205.4 1607.0,1198.9 1608.0,1193.5 1609.0,1189.7 1610.0,1186.2 1611.0,1183.6 1612.0,1181.5 1613.0,1179.7 1614.0,1177.6 1615.0,1176.5 1616.0,1175.5 1617.0,1175.2 1618.0,1174.8 1619.0,1174.7 1620.0,1174.4 1621.0,1174.2 1622.0,1173.9 1623.0,1173.9 1624.0,1173.8 1625.0,1173.6 1626.0,1173.9 1627.0,1174.3 1628.0,1174.4 1629.0,1174.6 1630.0,1174.0 1631.0,1173.6 1632.0,1174.1 1633.0,1174.6 1634.0,1174.2 1635.0,1174.0 1636.0,1174.3 1637.0,1174.7 1638.0,1175.2 1639.0,1175.2 1640.0,1174.4 1641.0,1173.7 1642.0,1174.2 1643.0,1173.9 1644.0,1173.8 1645.0,1173.6 1646.0,1173.4 1647.0,1173.5 1648.0,1173.1 1649.0,1172.9 1650.0,1172.7 1651.0,1172.4 1652.0,1172.2 1653.0,1172.2 1654.0,1172.1 1655.0,1172.4 1656.0,1172.7 1657.0,1173.1 1658.0,1173.2 1659.0,1173.1 1660.0,1173.1 1661.0,1173.1 1662.0,1173.1 1663.0,1173.0 1664.0,1172.8 1665.0,1172.8 1666.0,1173.4 1667.0,1173.4 1668.0,1173.3 1669.0,1173.7 1670.0,1173.7 1671.0,1174.2 1672.0,1174.3 1673.0,1174.1 1674.0,1174.2 1675.0,1174.4 1676.0,1174.2 1677.0,1173.9 1678.0,1173.5 1679.0,1173.4 1680.0,1173.2 1681.0,1173.1 1682.0,1172.9 1683.0,1172.6 1684.0,1172.6 1685.0,1173.0 1686.0,1173.4 1687.0,1173.2 1688.0,1172.9 1689.0,1173.1 1690.0,1173.4 1691.0,1173.4 1692.0,1173.1 1693.0,1172.8 1694.0,1173.0 1695.0,1173.4 1696.0,1173.0 1697.0,1173.0 1698.0,1173.3 1699.0,1173.5 1700.0,1173.1 1701.0,1172.8 1702.0,1172.0 1703.0,1171.6 1704.0,1171.1 1705.0,1170.5 1706.0,1169.7 1707.0,1169.4 1708.0,1168.9 1709.0,1168.6 1710.0,1168.2 1711.0,1167.9 1712.0,1167.2 1713.0,1166.8 1714.0,1166.1 1715.0,1165.2 1716.0,1164.9 1717.0,1164.7 1718.0,1164.1 1719.0,1163.6 1720.0,1163.0 1721.0,1162.2 1722.0,1161.8 1723.0,1160.0 1724.0,1157.4 1725.0,1154.3 1726.0,1149.8 1727.0,1145.0 1728.0,1137.3 1729.0,1125.3 1730.0,1110.8 1731.0,1095.6 1732.0,1081.3 1733.0,1070.1 1734.0,1057.5 1735.0,1045.2 1736.0,1033.9 1737.0,1024.0 1738.0,1017.4 1739.0,1011.9 1740.0,1007.6 1741.0,1007.4 1742.0,1011.6 1743.0,1018.9 1744.0,1030.0 1745.0,1054.3 1746.0,1102.4 1747.0,1140.9 1748.0,1175.0 1749.0,1206.4 1750.0,1235.2 1751.0,1262.6 1752.0,1286.5 1753.0,1304.4 1754.0,1318.9 1755.0,1330.6 1756.0,1332.8 1757.0,1325.1 1758.0,1312.0 1759.0,1298.2 1760.0,1278.5 1761.0,1255.9 1762.0,1235.2 1763.0,1222.6 1764.0,1213.3 1765.0,1205.2 1766.0,1198.7 1767.0,1194.4 1768.0,1190.7 1769.0,1187.2 1770.0,1184.5 1771.0,1182.1 1772.0,1180.6 1773.0,1179.0 1774.0,1177.8 1775.0,1177.3 1776.0,1176.9 1777.0,1176.5 1778.0,1176.1 1779.0,1175.6 1780.0,1175.6 1781.0,1175.7 1782.0,1175.5 1783.0,1175.4 1784.0,1175.2 1785.0,1174.9 1786.0,1174.9 1787.0,1174.7 1788.0,1174.6 1789.0,1174.5 1790.0,1174.4 1791.0,1174.6 1792.0,1175.0 1793.0,1175.1 1794.0,1175.2 1795.0,1175.4 1796.0,1175.3 1797.0,1175.6 1798.0,1175.5 1799.0,1175.2 1800.0,1174.9 1801.0,1173.5 1802.0,1173.4 1803.0,1173.5 1804.0,1173.2 1805.0,1173.3 1806.0,1173.2 1807.0,1173.5 1808.0,1173.3 1809.0,1173.6 1810.0,1173.8 1811.0,1173.8 1812.0,1173.6 1813.0,1173.9 1814.0,1173.5 1815.0,1173.5 1816.0,1173.2 1817.0,1172.7 1818.0,1172.3 1819.0,1172.1 1820.0,1172.1 1821.0,1172.5 1822.0,1172.5 1823.0,1172.9 1824.0,1173.1 1825.0,1173.4 1826.0,1173.5 1827.0,1173.5 1828.0,1173.4 1829.0,1173.7 1830.0,1173.3 1831.0,1173.2 1832.0,1173.1 1833.0,1173.5 1834.0,1173.5 1835.0,1173.5 1836.0,1173.2 1837.0,1173.3 1838.0,1173.3 1839.0,1173.8 1840.0,1173.4 1841.0,1173.5 1842.0,1173.4 1843.0,1173.2 1844.0,1173.0 1845.0,1172.9 1846.0,1172.7 1847.0,1172.6 1848.0,1172.5 1849.0,1172.7 1850.0,1173.0 1851.0,1172.9 1852.0,1172.6 1853.0,1172.8 1854.0,1173.4 1855.0,1173.1 1856.0,1173.0 1857.0,1172.9 1858.0,1172.4 1859.0,1172.5 1860.0,1171.8 1861.0,1171.2 1862.0,1171.1 1863.0,1170.5 1864.0,1170.5 1865.0,1169.8 1866.0,1169.3 1867.0,1169.0 1868.0,1168.8 1869.0,1168.0 1870.0,1167.4 1871.0,1166.9 1872.0,1166.5 1873.0,1166.0 1874.0,1165.5 1875.0,1164.9 1876.0,1164.4 1877.0,1164.2 1878.0,1163.3 1879.0,1162.5 1880.0,1160.6 1881.0,1158.8 1882.0,1155.5 1883.0,1151.5 1884.0,1146.8 1885.0,1140.8 1886.0,1130.1 1887.0,1117.5 1888.0,1102.5 1889.0,1088.3 1890.0,1076.7 1891.0,1065.0 1892.0,1052.6 1893.0,1041.9 1894.0,1031.9 1895.0,1024.8 1896.0,1019.1 1897.0,1014.0 1898.0,1012.5 1899.0,1015.2 1900.0,1021.0 1901.0,1030.7 1902.0,1047.4 1903.0,1091.4 1904.0,1132.9 1905.0,1167.2 1906.0,1199.5 1907.0,1228.7 1908.0,1256.3 1909.0,1281.5 1910.0,1301.6 1911.0,1316.6 1912.0,1329.5 1913.0,1333.6 1914.0,1327.9 1915.0,1315.8 1916.0,1301.7 1917.0,1282.8 1918.0,1259.5 1919.0,1237.9 1920.0,1224.3 1921.0,1214.6 1922.0,1206.2 1923.0,1200.0 1924.0,1195.2 1925.0,1192.1 1926.0,1188.6 1927.0,1185.7 1928.0,1183.2 1929.0,1181.4 1930.0,1179.7 1931.0,1178.9 1932.0,1177.9 1933.0,1177.3 1934.0,1176.8 1935.0,1176.1 1936.0,1175.8 1937.0,1175.4 1938.0,1175.4 1939.0,1175.2 1940.0,1175.3 1941.0,1174.9 1942.0,1175.1 1943.0,1175.0 1944.0,1175.5 1945.0,1175.3 1946.0,1175.0 1947.0,1175.0 1948.0,1174.9 1949.0,1175.1 1950.0,1175.1 1951.0,1174.7 1952.0,1174.7 1953.0,1175.0 1954.0,1174.6 1955.0,1174.7 1956.0,1174.6 1957.0,1172.6 1958.0,1172.7 1959.0,1172.9 1960.0,1172.7 1961.0,1173.0 1962.0,1173.2 1963.0,1173.3 1964.0,1173.8 1965.0,1173.4 1966.0,1173.0 1967.0,1173.4 1968.0,1173.1 1969.0,1173.4 1970.0,1173.3 1971.0,1172.8 1972.0,1173.5 1973.0,1174.0 1974.0,1173.6 1975.0,1173.9 1976.0,1173.3 1977.0,1173.1 1978.0,1173.4 1979.0,1173.4 1980.0,1173.1 1981.0,1173.3 1982.0,1173.6 1983.0,1173.6 1984.0,1173.3 1985.0,1173.4 1986.0,1173.4 1987.0,1173.0 1988.0,1173.3 1989.0,1172.7 1990.0,1172.6 1991.0,1173.1 1992.0,1173.1 1993.0,1173.5 1994.0,1173.5 1995.0,1172.9 1996.0,1173.0 1997.0,1173.2 1998.0,1173.1 1999.0,1172.8 2000.0,1172.0 2001.0,1172.2 2002.0,1172.6 2003.0,1172.9 2004.0,1172.8 2005.0,1172.9 2006.0,1173.2 2007.0,1173.4 2008.0,1173.4 2009.0,1173.3 2010.0,1173.7 2011.0,1173.8 2012.0,1173.3 2013.0,1173.0 2014.0,1172.7 2015.0,1172.8 2016.0,1172.1 2017.0,1171.0 2018.0,1170.9 2019.0,1170.9 2020.0,1170.7 2021.0,1170.7 2022.0,1170.0 2023.0,1170.2 2024.0,1170.0 2025.0,1169.3 2026.0,1169.1 2027.0,1168.8 2028.0,1168.4 2029.0,1168.6 2030.0,1168.1 2031.0,1168.2 2032.0,1168.6 2033.0,1168.1 2034.0,1167.9 2035.0,1167.3 2036.0,1165.5 2037.0,1163.7 2038.0,1161.5 2039.0,1158.2 2040.0,1154.1 2041.0,1147.7 2042.0,1140.3 2043.0,1133.1 2044.0,1126.7 2045.0,1120.7 2046.0,1115.2 2047.0,1109.2 2048.0,1103.7 2049.0,1099.0 2050.0,1095.9 2051.0,1092.6 2052.0,1091.0 2053.0,1090.9 2054.0,1092.9 2055.0,1096.6 2056.0,1102.2 2057.0,1116.3 2058.0,1140.8 2059.0,1159.8 2060.0,1177.4 2061.0,1193.9 2062.0,1208.7 2063.0,1222.9 2064.0,1234.8 2065.0,1243.8 2066.0,1251.4 2067.0,1256.1 2068.0,1255.8 2069.0,1251.1 2070.0,1243.6 2071.0,1236.2 2072.0,1225.1 2073.0,1212.9 2074.0,1202.9 2075.0,1197.1 2076.0,1192.4 2077.0,1189.3 2078.0,1186.5 2079.0,1184.4 2080.0,1182.6 2081.0,1180.9 2082.0,1179.4 2083.0,1177.8 2084.0,1176.6 2085.0,1176.1 2086.0,1175.8 2087.0,1175.7 2088.0,1175.7 2089.0,1175.8 2090.0,1175.8 2091.0,1175.2 2092.0,1174.8 2093.0,1174.4 2094.0,1173.8 2095.0,1173.6 2096.0,1172.8 2097.0,1172.7 2098.0,1173.4 2099.0,1173.2 2100.0,1173.5 2101.0,1173.8 2102.0,1173.8 2103.0,1173.9 2104.0,1174.2 2105.0,1174.1 2106.0,1173.9 2107.0,1173.6 2108.0,1173.7 2109.0,1173.7 2110.0,1174.2 2111.0,1173.6 2112.0,1172.4 2113.0,1172.9 2114.0,1172.7 2115.0,1172.2 2116.0,1172.1 2117.0,1171.9 2118.0,1172.0 2119.0,1172.1 2120.0,1172.1 2121.0,1172.7 2122.0,1172.9 2123.0,1173.5 2124.0,1173.7 2125.0,1173.9 2126.0,1174.1 2127.0,1174.3 2128.0,1174.3 2129.0,1174.5 2130.0,1174.2 2131.0,1174.2 2132.0,1174.3 2133.0,1174.2 2134.0,1174.0 2135.0,1174.0 2136.0,1173.6 2137.0,1173.6 2138.0,1173.3 2139.0,1173.4 2140.0,1173.6 2141.0,1173.8 2142.0,1173.4 2143.0,1173.6 2144.0,1173.8 2145.0,1174.0 2146.0,1173.9 2147.0,1173.7 2148.0,1173.5 2149.0,1173.6 2150.0,1173.6 2151.0,1173.2 2152.0,1173.1 2153.0,1172.7 2154.0,1172.7 2155.0,1172.5 2156.0,1172.6 2157.0,1172.8 2158.0,1172.8 2159.0,1172.8 2160.0,1173.1 2161.0,1173.4 2162.0,1173.7 2163.0,1173.7 2164.0,1173.4 2165.0,1173.6 2166.0,1173.8 2167.0,1173.9 2168.0,1173.6 2169.0,1173.3 2170.0,1172.9 2171.0,1172.7 2172.0,1172.8 2173.0,1172.5 2174.0,1172.4 2175.0,1172.1 2176.0,1172.1 2177.0,1172.5 2178.0,1172.9 2179.0,1173.0 2180.0,1173.5 2181.0,1173.3 2182.0,1173.4 2183.0,1173.7 2184.0,1173.5 2185.0,1173.3 2186.0,1172.9 2187.0,1172.8 2188.0,1173.1 2189.0,1173.1 2190.0,1172.5 2191.0,1172.8 2192.0,1172.9 2193.0,1173.4 2194.0,1173.6 2195.0,1173.5 2196.0,1173.6 2197.0,1173.9 2198.0,1173.8 2199.0,1173.5 2200.0,1173.0 2201.0,1172.7 2202.0,1172.3 2203.0,1172.1 2204.0,1172.3 2205.0,1172.3 2206.0,1172.7 2207.0,1173.1 2208.0,1173.1 2209.0,1173.6 2210.0,1173.9 2211.0,1173.4 2212.0,1173.5 2213.0,1173.4 2214.0,1173.2 2215.0,1173.2 2216.0,1173.0 2217.0,1173.2 2218.0,1173.4 2219.0,1173.3 2220.0,1173.5 2221.0,1173.2 2222.0,1173.2 2223.0,1173.6 2224.0,1173.4 2225.0,1173.7 2226.0,1173.8 2227.0,1173.5 2228.0,1173.7 2229.0,1173.5 2230.0,1173.2 2231.0,1173.1 2232.0,1172.9 2233.0,1173.1 2234.0,1173.1 2235.0,1173.0 2236.0,1173.8 2237.0,1173.8 2238.0,1174.2 2239.0,1173.8 2240.0,1173.6 2241.0,1173.9 2242.0,1173.8 2243.0,1172.9 2244.0,1173.0 2245.0,1172.5 2246.0,1172.7 2247.0,1172.9 2248.0,1172.8 2249.0,1173.1 2250.0,1173.3 2251.0,1173.6 2252.0,1174.0 2253.0,1174.0 2254.0,1173.6 2255.0,1173.3 2256.0,1173.4 2257.0,1173.3 2258.0,1172.9 2259.0,1172.5 2260.0,1172.9 2261.0,1173.3 2262.0,1173.4 2263.0,1173.0 2264.0,1172.9 2265.0,1173.6 2266.0,1173.7 2267.0,1173.4 2268.0,1173.3 2269.0,1173.6 2270.0,1173.6 2271.0,1173.4 2272.0,1172.7 2273.0,1172.8 2274.0,1173.2 2275.0,1173.3 2276.0,1172.9 2277.0,1173.0 2278.0,1173.3 2279.0,1173.2 2280.0,1173.2 2281.0,1172.8 2282.0,1172.7 2283.0,1173.1 2284.0,1173.1 2285.0,1173.3 2286.0,1173.3 2287.0,1173.4 2288.0,1173.4 2289.0,1173.7 2290.0,1173.3 2291.0,1173.4 2292.0,1173.3 2293.0,1173.4 2294.0,1173.5 2295.0,1173.7 2296.0,1173.5 2297.0,1173.4 2298.0,1173.3 2299.0,1173.7 2300.0,1173.6 2301.0,1174.0 2302.0,1173.3 2303.0,1173.7 2304.0,1174.1 2305.0,1174.3 2306.0,1173.9 2307.0,1174.3 2308.0,1174.0 2309.0,1174.6 2310.0,1174.3 2311.0,1174.0 2312.0,1174.0 2313.0,1174.3 2314.0,1173.9 2315.0,1173.5 2316.0,1173.3 2317.0,1173.1 2318.0,1173.3 2319.0,1173.0 2320.0,1172.7 2321.0,1172.8 2322.0,1173.2 2323.0,1173.2 2324.0,1173.2 2325.0,1173.0 2326.0,1173.1 2327.0,1173.2 2328.0,1173.0 2329.0,1173.0 2330.0,1172.9 2331.0,1173.0 2332.0,1173.3 2333.0,1173.5 2334.0,1173.8 2335.0,1173.6 2336.0,1173.1 2337.0,1173.1 2338.0,1172.8 2339.0,1172.7 2340.0,1172.5 2341.0,1171.9 2342.0,1172.1 2343.0,1172.5 2344.0,1172.5 2345.0,1172.9 2346.0,1173.0 2347.0,1173.0 2348.0,1174.1 2349.0,1174.2 2350.0,1174.0 2351.0,1173.9 2352.0,1173.8 2353.0,1173.7 2354.0,1173.5" fill="none" stroke="#079020" stroke-width="5.2" stroke-linejoin="round" stroke-linecap="round" />
<polyline points="1308.0,1418.5 1550.0,1416.5 1571.7,1413.5 1616.7,1424.0 1632.0,1420.0 1700.0,1416.0 1712.0,1414.5 1726.5,1404.8 1771.0,1428.6 1790.0,1421.0 1860.0,1415.0 1868.0,1414.0 1882.6,1406.1 1927.0,1430.0 1946.0,1421.0 2020.0,1418.0 2037.9,1412.8 2082.3,1424.0 2100.0,1420.0 2356.0,1420.0" fill="none" stroke="#10108C" stroke-width="4.2" stroke-linejoin="round" stroke-linecap="round" />
<polyline points="1308.0,1419.5 1550.0,1417.0 1571.7,1410.0 1616.7,1427.0 1632.0,1421.0 1700.0,1417.0 1712.0,1414.0 1726.5,1398.2 1771.0,1437.4 1790.0,1424.0 1860.0,1416.0 1868.0,1413.0 1882.6,1400.3 1927.0,1437.4 1946.0,1423.0 2020.0,1419.5 2037.9,1410.0 2082.3,1427.0 2100.0,1421.0 2356.0,1421.0" fill="none" stroke="#FF0000" stroke-width="4.2" stroke-linejoin="round" stroke-linecap="round" />
<polyline points="1308.0,1416.5 1550.0,1414.0 1571.7,1400.3 1616.7,1433.1 1632.0,1419.0 1700.0,1413.0 1712.0,1411.0 1726.5,1381.0 1771.0,1451.6 1790.0,1423.0 1860.0,1413.0 1868.0,1410.0 1882.6,1381.8 1927.0,1453.2 1946.0,1422.0 2020.0,1416.7 2037.9,1401.4 2082.3,1434.7 2100.0,1419.4 2356.0,1419.0" fill="none" stroke="#079020" stroke-width="5.2" stroke-linejoin="round" stroke-linecap="round" />
<polyline points="1308.0,1545.1 1309.0,1544.9 1310.0,1544.2 1311.0,1542.7 1312.0,1542.9 1313.0,1542.9 1314.0,1542.6 1315.0,1545.6 1316.0,1546.6 1317.0,1546.1 1318.0,1545.7 1319.0,1545.4 1320.0,1543.6 1321.0,1544.4 1322.0,1543.0 1323.0,1544.1 1324.0,1545.1 1325.0,1545.6 1326.0,1546.1 1327.0,1545.9 1328.0,1544.5 1329.0,1544.6 1330.0,1544.9 1331.0,1545.7 1332.0,1545.0 1333.0,1544.4 1334.0,1545.6 1335.0,1544.4 1336.0,1544.0 1337.0,1544.1 1338.0,1544.4 1339.0,1545.7 1340.0,1544.9 1341.0,1544.2 1342.0,1545.1 1343.0,1545.0 1344.0,1545.2 1345.0,1547.6 1346.0,1548.1 1347.0,1546.7 1348.0,1548.8 1349.0,1549.1 1350.0,1546.8 1351.0,1547.1 1352.0,1547.3 1353.0,1547.0 1354.0,1544.6 1355.0,1546.4 1356.0,1546.7 1357.0,1547.6 1358.0,1547.2 1359.0,1544.9 1360.0,1546.1 1361.0,1547.3 1362.0,1547.9 1363.0,1548.2 1364.0,1547.4 1365.0,1546.2 1366.0,1546.5 1367.0,1545.9 1368.0,1546.3 1369.0,1545.8 1370.0,1545.1 1371.0,1544.7 1372.0,1543.4 1373.0,1543.7 1374.0,1544.1 1375.0,1546.1 1376.0,1546.5 1377.0,1544.0 1378.0,1543.2 1379.0,1545.2 1380.0,1545.2 1381.0,1545.7 1382.0,1547.5 1383.0,1545.5 1384.0,1544.1 1385.0,1544.6 1386.0,1545.7 1387.0,1546.5 1388.0,1545.4 1389.0,1544.0 1390.0,1544.9 1391.0,1546.2 1392.0,1544.1 1393.0,1544.7 1394.0,1546.2 1395.0,1545.6 1396.0,1544.9 1397.0,1544.6 1398.0,1545.4 1399.0,1545.8 1400.0,1546.1 1401.0,1546.5 1402.0,1546.1 1403.0,1546.7 1404.0,1546.0 1405.0,1545.9 1406.0,1545.5 1407.0,1546.8 1408.0,1546.7 1409.0,1545.6 1410.0,1544.4 1411.0,1544.1 1412.0,1542.1 1413.0,1543.8 1414.0,1544.9 1415.0,1544.4 1416.0,1545.0 1417.0,1545.5 1418.0,1546.6 1419.0,1544.8 1420.0,1542.4 1421.0,1541.8 1422.0,1543.7 1423.0,1545.4 1424.0,1545.5 1425.0,1544.5 1426.0,1543.2 1427.0,1543.3 1428.0,1543.9 1429.0,1544.6 1430.0,1544.9 1431.0,1544.8 1432.0,1545.8 1433.0,1544.5 1434.0,1544.8 1435.0,1545.4 1436.0,1545.3 1437.0,1543.3 1438.0,1541.5 1439.0,1541.9 1440.0,1543.8 1441.0,1544.7 1442.0,1544.8 1443.0,1545.5 1444.0,1545.4 1445.0,1544.7 1446.0,1547.5 1447.0,1547.9 1448.0,1545.9 1449.0,1544.5 1450.0,1544.1 1451.0,1542.7 1452.0,1542.9 1453.0,1543.1 1454.0,1543.4 1455.0,1544.2 1456.0,1545.4 1457.0,1543.9 1458.0,1544.1 1459.0,1544.0 1460.0,1545.6 1461.0,1545.1 1462.0,1542.3 1463.0,1542.9 1464.0,1543.8 1465.0,1543.8 1466.0,1544.3 1467.0,1543.7 1468.0,1542.6 1469.0,1543.4 1470.0,1544.1 1471.0,1543.5 1472.0,1543.8 1473.0,1544.0 1474.0,1544.2 1475.0,1544.7 1476.0,1543.3 1477.0,1543.7 1478.0,1543.6 1479.0,1545.0 1480.0,1545.7 1481.0,1545.8 1482.0,1545.7 1483.0,1545.6 1484.0,1544.9 1485.0,1544.6 1486.0,1545.2 1487.0,1545.4 1488.0,1545.7 1489.0,1545.4 1490.0,1544.7 1491.0,1542.9 1492.0,1543.8 1493.0,1545.3 1494.0,1546.5 1495.0,1546.7 1496.0,1545.5 1497.0,1544.5 1498.0,1545.8 1499.0,1546.9 1500.0,1546.4 1501.0,1544.4 1502.0,1543.7 1503.0,1543.6 1504.0,1543.9 1505.0,1546.0 1506.0,1546.8 1507.0,1548.4 1508.0,1548.7 1509.0,1547.5 1510.0,1545.9 1511.0,1546.8 1512.0,1546.8 1513.0,1545.2 1514.0,1544.7 1515.0,1546.0 1516.0,1547.6 1517.0,1546.4 1518.0,1544.8 1519.0,1545.8 1520.0,1545.8 1521.0,1545.0 1522.0,1546.6 1523.0,1545.5 1524.0,1546.4 1525.0,1546.2 1526.0,1544.5 1527.0,1545.1 1528.0,1545.5 1529.0,1545.1 1530.0,1545.4 1531.0,1544.9 1532.0,1543.4 1533.0,1544.1 1534.0,1543.7 1535.0,1544.2 1536.0,1544.9 1537.0,1545.0 1538.0,1545.6 1539.0,1544.6 1540.0,1544.6 1541.0,1546.4 1542.0,1546.0 1543.0,1544.7 1544.0,1544.0 1545.0,1543.7 1546.0,1543.4 1547.0,1543.4 1548.0,1545.3 1549.0,1544.7 1550.0,1541.5 1551.0,1542.0 1552.0,1543.0 1553.0,1542.1 1554.0,1541.1 1555.0,1543.2 1556.0,1542.7 1557.0,1543.5 1558.0,1544.0 1559.0,1544.4 1560.0,1543.7 1561.0,1544.7 1562.0,1543.9 1563.0,1545.7 1564.0,1545.8 1565.0,1544.2 1566.0,1543.3 1567.0,1545.4 1568.0,1544.2 1569.0,1541.2 1570.0,1540.4 1571.0,1542.1 1572.0,1542.5 1573.0,1543.7 1574.0,1544.0 1575.0,1544.3 1576.0,1544.1 1577.0,1544.6 1578.0,1543.3 1579.0,1541.6 1580.0,1541.5 1581.0,1543.8 1582.0,1543.2 1583.0,1542.3 1584.0,1543.2 1585.0,1544.6 1586.0,1545.0 1587.0,1543.4 1588.0,1544.8 1589.0,1546.5 1590.0,1546.6 1591.0,1547.5 1592.0,1547.9 1593.0,1545.9 1594.0,1545.6 1595.0,1547.7 1596.0,1548.3 1597.0,1547.2 1598.0,1546.1 1599.0,1545.5 1600.0,1547.0 1601.0,1546.6 1602.0,1545.1 1603.0,1545.0 1604.0,1545.1 1605.0,1546.1 1606.0,1546.6 1607.0,1547.9 1608.0,1548.2 1609.0,1548.0 1610.0,1548.6 1611.0,1548.5 1612.0,1548.3 1613.0,1546.9 1614.0,1547.9 1615.0,1548.7 1616.0,1547.2 1617.0,1546.0 1618.0,1547.1 1619.0,1548.3 1620.0,1546.4 1621.0,1545.8 1622.0,1546.6 1623.0,1545.5 1624.0,1543.5 1625.0,1543.5 1626.0,1544.7 1627.0,1545.5 1628.0,1546.5 1629.0,1544.4 1630.0,1542.8 1631.0,1542.8 1632.0,1543.2 1633.0,1544.4 1634.0,1543.9 1635.0,1545.3 1636.0,1545.4 1637.0,1546.0 1638.0,1544.5 1639.0,1544.0 1640.0,1541.8 1641.0,1542.7 1642.0,1543.7 1643.0,1545.0 1644.0,1544.5 1645.0,1544.1 1646.0,1543.1 1647.0,1542.7 1648.0,1544.1 1649.0,1545.2 1650.0,1544.6 1651.0,1545.2 1652.0,1544.2 1653.0,1543.6 1654.0,1543.7 1655.0,1543.5 1656.0,1543.4 1657.0,1543.9 1658.0,1543.5 1659.0,1543.8 1660.0,1546.5 1661.0,1545.9 1662.0,1544.4 1663.0,1543.5 1664.0,1543.2 1665.0,1544.7 1666.0,1544.6 1667.0,1545.5 1668.0,1543.3 1669.0,1544.5 1670.0,1545.5 1671.0,1545.2 1672.0,1546.5 1673.0,1546.0 1674.0,1545.2 1675.0,1543.6 1676.0,1544.8 1677.0,1545.1 1678.0,1544.8 1679.0,1545.4 1680.0,1543.6 1681.0,1542.0 1682.0,1544.0 1683.0,1545.7 1684.0,1544.1 1685.0,1544.2 1686.0,1543.8 1687.0,1543.1 1688.0,1540.9 1689.0,1541.3 1690.0,1543.2 1691.0,1543.2 1692.0,1542.6 1693.0,1544.4 1694.0,1544.4 1695.0,1542.7 1696.0,1542.1 1697.0,1544.2 1698.0,1544.2 1699.0,1545.3 1700.0,1545.6 1701.0,1544.0 1702.0,1544.0 1703.0,1544.7 1704.0,1543.6 1705.0,1542.2 1706.0,1544.2 1707.0,1544.7 1708.0,1544.3 1709.0,1544.9 1710.0,1544.4 1711.0,1544.6 1712.0,1545.3 1713.0,1543.7 1714.0,1543.6 1715.0,1544.7 1716.0,1545.0 1717.0,1546.3 1718.0,1545.3 1719.0,1543.9 1720.0,1544.6 1721.0,1544.4 1722.0,1546.8 1723.0,1546.6 1724.0,1546.6 1725.0,1546.7 1726.0,1545.7 1727.0,1544.9 1728.0,1545.8 1729.0,1545.3 1730.0,1544.5 1731.0,1544.2 1732.0,1546.6 1733.0,1546.3 1734.0,1545.2 1735.0,1544.5 1736.0,1546.2 1737.0,1546.6 1738.0,1546.7 1739.0,1545.7 1740.0,1545.0 1741.0,1545.7 1742.0,1544.1 1743.0,1544.2 1744.0,1545.8 1745.0,1547.2 1746.0,1547.6 1747.0,1546.8 1748.0,1546.3 1749.0,1546.5 1750.0,1545.9 1751.0,1545.6 1752.0,1546.5 1753.0,1545.8 1754.0,1546.2 1755.0,1547.1 1756.0,1546.5 1757.0,1545.6 1758.0,1546.0 1759.0,1545.9 1760.0,1546.2 1761.0,1544.9 1762.0,1544.2 1763.0,1544.3 1764.0,1546.5 1765.0,1547.5 1766.0,1547.0 1767.0,1546.2 1768.0,1545.4 1769.0,1545.1 1770.0,1545.4 1771.0,1544.4 1772.0,1544.0 1773.0,1545.6 1774.0,1546.0 1775.0,1545.2 1776.0,1544.5 1777.0,1544.4 1778.0,1544.8 1779.0,1544.3 1780.0,1543.0 1781.0,1542.9 1782.0,1542.9 1783.0,1543.9 1784.0,1542.1 1785.0,1541.5 1786.0,1542.2 1787.0,1542.5 1788.0,1542.2 1789.0,1544.3 1790.0,1543.3 1791.0,1540.9 1792.0,1542.4 1793.0,1542.7 1794.0,1541.7 1795.0,1542.7 1796.0,1543.5 1797.0,1542.8 1798.0,1543.5 1799.0,1544.1 1800.0,1543.4 1801.0,1543.2 1802.0,1543.0 1803.0,1543.6 1804.0,1543.9 1805.0,1545.5 1806.0,1547.1 1807.0,1546.5 1808.0,1544.7 1809.0,1545.0 1810.0,1544.8 1811.0,1545.1 1812.0,1543.8 1813.0,1543.3 1814.0,1543.7 1815.0,1544.0 1816.0,1545.7 1817.0,1545.9 1818.0,1545.5 1819.0,1544.9 1820.0,1545.5 1821.0,1546.6 1822.0,1546.2 1823.0,1546.6 1824.0,1547.7 1825.0,1546.7 1826.0,1545.7 1827.0,1545.9 1828.0,1547.0 1829.0,1545.8 1830.0,1545.7 1831.0,1547.0 1832.0,1547.5 1833.0,1547.2 1834.0,1545.1 1835.0,1545.1 1836.0,1544.6 1837.0,1544.3 1838.0,1543.4 1839.0,1544.3 1840.0,1545.7 1841.0,1544.6 1842.0,1542.7 1843.0,1544.8 1844.0,1545.6 1845.0,1544.3 1846.0,1544.3 1847.0,1544.0 1848.0,1544.7 1849.0,1543.3 1850.0,1541.4 1851.0,1542.4 1852.0,1544.7 1853.0,1545.2 1854.0,1544.2 1855.0,1543.0 1856.0,1543.9 1857.0,1544.4 1858.0,1543.7 1859.0,1543.7 1860.0,1544.2 1861.0,1544.0 1862.0,1543.0 1863.0,1542.1 1864.0,1540.7 1865.0,1541.6 1866.0,1543.1 1867.0,1543.7 1868.0,1542.9 1869.0,1543.2 1870.0,1542.3 1871.0,1541.6 1872.0,1542.7 1873.0,1543.0 1874.0,1541.6 1875.0,1542.0 1876.0,1542.8 1877.0,1542.6 1878.0,1542.6 1879.0,1541.6 1880.0,1542.7 1881.0,1542.2 1882.0,1541.9 1883.0,1541.4 1884.0,1543.1 1885.0,1543.6 1886.0,1544.2 1887.0,1541.4 1888.0,1541.1 1889.0,1543.9 1890.0,1544.0 1891.0,1542.2 1892.0,1543.9 1893.0,1545.3 1894.0,1545.4 1895.0,1543.7 1896.0,1541.4 1897.0,1541.5 1898.0,1545.0 1899.0,1545.0 1900.0,1545.0 1901.0,1544.0 1902.0,1543.5 1903.0,1543.5 1904.0,1543.0 1905.0,1543.5 1906.0,1542.8 1907.0,1543.8 1908.0,1545.4 1909.0,1544.9 1910.0,1544.4 1911.0,1546.2 1912.0,1545.8 1913.0,1544.0 1914.0,1542.8 1915.0,1545.1 1916.0,1545.2 1917.0,1543.8 1918.0,1544.5 1919.0,1543.2 1920.0,1543.1 1921.0,1543.1 1922.0,1543.7 1923.0,1544.3 1924.0,1544.8 1925.0,1543.3 1926.0,1543.6 1927.0,1543.3 1928.0,1542.7 1929.0,1542.1 1930.0,1542.8 1931.0,1544.5 1932.0,1543.7 1933.0,1541.8 1934.0,1541.6 1935.0,1541.5 1936.0,1541.7 1937.0,1541.9 1938.0,1542.0 1939.0,1543.5 1940.0,1544.2 1941.0,1543.2 1942.0,1542.8 1943.0,1543.0 1944.0,1543.0 1945.0,1545.0 1946.0,1545.0 1947.0,1541.9 1948.0,1542.8 1949.0,1543.7 1950.0,1543.1 1951.0,1542.4 1952.0,1541.5 1953.0,1542.4 1954.0,1542.4 1955.0,1542.8 1956.0,1543.3 1957.0,1544.1 1958.0,1545.6 1959.0,1543.3 1960.0,1542.7 1961.0,1542.5 1962.0,1544.1 1963.0,1545.8 1964.0,1544.6 1965.0,1543.5 1966.0,1543.6 1967.0,1544.7 1968.0,1544.6 1969.0,1545.2 1970.0,1544.3 1971.0,1544.2 1972.0,1544.1 1973.0,1543.7 1974.0,1545.2 1975.0,1544.2 1976.0,1544.1 1977.0,1545.6 1978.0,1546.9 1979.0,1545.9 1980.0,1545.1 1981.0,1544.1 1982.0,1544.0 1983.0,1544.4 1984.0,1545.0 1985.0,1543.7 1986.0,1545.2 1987.0,1546.9 1988.0,1543.7 1989.0,1542.3 1990.0,1543.3 1991.0,1544.6 1992.0,1546.1 1993.0,1545.9 1994.0,1545.7 1995.0,1544.3 1996.0,1544.2 1997.0,1544.0 1998.0,1543.3 1999.0,1543.9 2000.0,1544.0 2001.0,1543.9 2002.0,1542.3 2003.0,1541.9 2004.0,1544.2 2005.0,1544.0 2006.0,1544.0 2007.0,1546.2 2008.0,1545.4 2009.0,1544.0 2010.0,1543.3 2011.0,1543.9 2012.0,1543.7 2013.0,1543.9 2014.0,1545.1 2015.0,1544.8 2016.0,1544.0 2017.0,1542.8 2018.0,1543.0 2019.0,1544.7 2020.0,1544.1 2021.0,1543.4 2022.0,1543.7 2023.0,1543.3 2024.0,1543.0 2025.0,1543.1 2026.0,1543.9 2027.0,1543.4 2028.0,1542.2 2029.0,1542.1 2030.0,1542.6 2031.0,1542.0 2032.0,1543.2 2033.0,1543.3 2034.0,1541.6 2035.0,1540.6 2036.0,1541.9 2037.0,1543.4 2038.0,1544.1 2039.0,1544.8 2040.0,1544.2 2041.0,1544.0 2042.0,1544.2 2043.0,1543.7 2044.0,1544.8 2045.0,1543.5 2046.0,1542.4 2047.0,1543.0 2048.0,1544.0 2049.0,1543.1 2050.0,1543.1 2051.0,1544.4 2052.0,1544.9 2053.0,1544.4 2054.0,1544.1 2055.0,1543.7 2056.0,1544.8 2057.0,1543.4 2058.0,1543.6 2059.0,1543.5 2060.0,1542.9 2061.0,1543.6 2062.0,1544.1 2063.0,1543.8 2064.0,1545.9 2065.0,1545.1 2066.0,1544.5 2067.0,1543.9 2068.0,1544.5 2069.0,1545.0 2070.0,1543.5 2071.0,1543.7 2072.0,1543.3 2073.0,1543.0 2074.0,1544.1 2075.0,1544.3 2076.0,1544.9 2077.0,1543.3 2078.0,1543.4 2079.0,1543.5 2080.0,1542.2 2081.0,1540.9 2082.0,1542.0 2083.0,1542.9 2084.0,1542.7 2085.0,1543.2 2086.0,1542.1 2087.0,1544.2 2088.0,1546.5 2089.0,1546.4 2090.0,1545.1 2091.0,1543.9 2092.0,1543.7 2093.0,1544.7 2094.0,1544.0 2095.0,1544.4 2096.0,1543.9 2097.0,1544.5 2098.0,1543.8 2099.0,1542.3 2100.0,1544.0 2101.0,1545.6 2102.0,1545.8 2103.0,1545.9 2104.0,1546.4 2105.0,1545.1 2106.0,1544.6 2107.0,1546.4 2108.0,1547.1 2109.0,1545.7 2110.0,1545.9 2111.0,1544.5 2112.0,1542.6 2113.0,1542.9 2114.0,1543.7 2115.0,1545.0 2116.0,1544.4 2117.0,1543.9 2118.0,1544.6 2119.0,1545.8 2120.0,1544.8 2121.0,1544.2 2122.0,1544.6 2123.0,1544.3 2124.0,1545.0 2125.0,1546.1 2126.0,1545.3 2127.0,1544.8 2128.0,1544.6 2129.0,1544.3 2130.0,1546.7 2131.0,1548.2 2132.0,1545.2 2133.0,1543.0 2134.0,1543.3 2135.0,1542.5 2136.0,1542.5 2137.0,1544.1 2138.0,1544.1 2139.0,1544.4 2140.0,1545.4 2141.0,1544.5 2142.0,1543.8 2143.0,1544.2 2144.0,1543.6 2145.0,1543.7 2146.0,1543.9 2147.0,1544.3 2148.0,1544.1 2149.0,1543.9 2150.0,1544.7 2151.0,1545.1 2152.0,1545.3 2153.0,1545.5 2154.0,1544.3 2155.0,1545.5 2156.0,1546.7 2157.0,1544.5 2158.0,1542.9 2159.0,1544.9 2160.0,1544.8 2161.0,1545.1 2162.0,1545.1 2163.0,1545.6 2164.0,1545.8 2165.0,1545.4 2166.0,1545.0 2167.0,1543.3 2168.0,1543.0 2169.0,1544.2 2170.0,1545.2 2171.0,1543.3 2172.0,1543.1 2173.0,1543.9 2174.0,1542.7 2175.0,1541.5 2176.0,1541.8 2177.0,1543.6 2178.0,1542.9 2179.0,1543.9 2180.0,1544.0 2181.0,1543.0 2182.0,1543.0 2183.0,1541.2 2184.0,1542.2 2185.0,1541.9 2186.0,1542.9 2187.0,1543.1 2188.0,1543.6 2189.0,1543.4 2190.0,1542.1 2191.0,1541.0 2192.0,1541.7 2193.0,1543.4 2194.0,1542.1 2195.0,1542.3 2196.0,1543.1 2197.0,1542.4 2198.0,1541.0 2199.0,1540.2 2200.0,1542.6 2201.0,1541.9 2202.0,1540.4 2203.0,1541.2 2204.0,1541.5 2205.0,1540.5 2206.0,1541.7 2207.0,1542.3 2208.0,1542.2 2209.0,1541.9 2210.0,1540.9 2211.0,1540.4 2212.0,1542.0 2213.0,1543.2 2214.0,1544.7 2215.0,1544.1 2216.0,1544.0 2217.0,1543.1 2218.0,1541.8 2219.0,1543.2 2220.0,1542.7 2221.0,1541.8 2222.0,1543.2 2223.0,1544.5 2224.0,1543.8 2225.0,1543.3 2226.0,1542.9 2227.0,1543.7 2228.0,1544.8 2229.0,1544.3 2230.0,1544.5 2231.0,1543.8 2232.0,1541.4 2233.0,1543.4 2234.0,1544.4 2235.0,1543.7 2236.0,1542.0 2237.0,1542.5 2238.0,1544.4 2239.0,1544.9 2240.0,1544.8 2241.0,1543.7 2242.0,1545.0 2243.0,1546.4 2244.0,1545.8 2245.0,1546.2 2246.0,1546.4 2247.0,1545.8 2248.0,1544.6 2249.0,1544.3 2250.0,1545.0 2251.0,1546.7 2252.0,1546.6 2253.0,1544.2 2254.0,1543.2 2255.0,1544.5 2256.0,1545.7 2257.0,1545.2 2258.0,1545.4 2259.0,1545.6 2260.0,1545.7 2261.0,1545.0 2262.0,1545.5 2263.0,1545.9 2264.0,1545.7 2265.0,1545.9 2266.0,1544.0 2267.0,1543.4 2268.0,1543.5 2269.0,1545.6 2270.0,1545.7 2271.0,1544.1 2272.0,1544.0 2273.0,1544.0 2274.0,1543.0 2275.0,1543.8 2276.0,1545.0 2277.0,1545.5 2278.0,1544.5 2279.0,1544.7 2280.0,1545.7 2281.0,1546.2 2282.0,1545.0 2283.0,1543.4 2284.0,1542.4 2285.0,1543.6 2286.0,1543.9 2287.0,1543.5 2288.0,1543.3 2289.0,1543.4 2290.0,1544.0 2291.0,1544.1 2292.0,1543.5 2293.0,1545.7 2294.0,1545.7 2295.0,1544.3 2296.0,1544.6 2297.0,1545.5 2298.0,1543.8 2299.0,1543.2 2300.0,1543.3 2301.0,1543.2 2302.0,1544.6 2303.0,1544.3 2304.0,1544.1 2305.0,1543.8 2306.0,1544.2 2307.0,1545.1 2308.0,1544.3 2309.0,1543.1 2310.0,1542.1 2311.0,1542.7 2312.0,1543.7 2313.0,1543.9 2314.0,1543.4 2315.0,1543.5 2316.0,1544.0 2317.0,1543.8 2318.0,1542.4 2319.0,1543.8 2320.0,1544.3 2321.0,1544.3 2322.0,1544.9 2323.0,1544.1 2324.0,1543.3 2325.0,1545.4 2326.0,1545.8 2327.0,1543.6 2328.0,1543.8 2329.0,1545.0 2330.0,1545.3 2331.0,1546.0 2332.0,1545.4 2333.0,1543.5 2334.0,1544.1 2335.0,1542.6 2336.0,1542.5 2337.0,1543.2 2338.0,1543.6 2339.0,1542.5 2340.0,1542.9 2341.0,1543.1 2342.0,1545.1 2343.0,1543.9 2344.0,1543.2 2345.0,1542.7 2346.0,1543.6 2347.0,1545.2 2348.0,1544.3 2349.0,1542.8 2350.0,1543.1 2351.0,1544.5 2352.0,1546.0 2353.0,1545.1 2354.0,1544.8" fill="none" stroke="#000" stroke-width="4.6" stroke-linejoin="round" stroke-linecap="round" stroke-linejoin="miter"/>
</g>
<line x1="1413.40" y1="1628.00" x2="1413.40" y2="1623.80" stroke="#000" stroke-width="8.6" />
<line x1="1517.80" y1="1628.00" x2="1517.80" y2="1618.50" stroke="#000" stroke-width="7.6" />
<line x1="1622.20" y1="1628.00" x2="1622.20" y2="1623.80" stroke="#000" stroke-width="8.6" />
<line x1="1726.60" y1="1628.00" x2="1726.60" y2="1618.50" stroke="#000" stroke-width="7.6" />
<line x1="1831.00" y1="1628.00" x2="1831.00" y2="1623.80" stroke="#000" stroke-width="8.6" />
<line x1="1935.40" y1="1628.00" x2="1935.40" y2="1618.50" stroke="#000" stroke-width="7.6" />
<line x1="2039.80" y1="1628.00" x2="2039.80" y2="1623.80" stroke="#000" stroke-width="8.6" />
<line x1="2144.20" y1="1628.00" x2="2144.20" y2="1618.50" stroke="#000" stroke-width="7.6" />
<line x1="2248.60" y1="1628.00" x2="2248.60" y2="1623.80" stroke="#000" stroke-width="8.6" />
<text x="1269.80" y="1676.00" font-size="40.45" textLength="74.85" lengthAdjust="spacingAndGlyphs" >3454</text>
<text x="1478.60" y="1676.00" font-size="40.45" textLength="74.85" lengthAdjust="spacingAndGlyphs" >3474</text>
<text x="1687.40" y="1676.00" font-size="40.45" textLength="74.85" lengthAdjust="spacingAndGlyphs" >3494</text>
<text x="1896.20" y="1676.00" font-size="40.45" textLength="74.85" lengthAdjust="spacingAndGlyphs" >3514</text>
<text x="2105.00" y="1676.00" font-size="40.45" textLength="74.85" lengthAdjust="spacingAndGlyphs" >3534</text>
<text x="2313.80" y="1676.00" font-size="40.45" textLength="74.85" lengthAdjust="spacingAndGlyphs" >3554</text>
<text x="1660.34" y="1713.49" font-size="43.24" textLength="343.46" lengthAdjust="spacingAndGlyphs" >Magnrtic field (G)</text>
<text transform="translate(1281.70 1409.87) rotate(-90)" x="0" y="0" font-size="45.60" textLength="281.00" lengthAdjust="spacingAndGlyphs">Intensity (a.u.)</text>
<text x="1226.97" y="978.30" font-size="55.82" textLength="71.51" lengthAdjust="spacingAndGlyphs" >(d)</text>
<text x="1344.05" y="1035.20" font-size="40.00" textLength="197.08" lengthAdjust="spacingAndGlyphs" >DMPO-·OH</text>
<text x="1392.21" y="1162.92" font-size="38.01" textLength="108.92" lengthAdjust="spacingAndGlyphs" >10 min</text>
<text x="1401.71" y="1405.83" font-size="36.60" textLength="90.33" lengthAdjust="spacingAndGlyphs" >5 min</text>
<text x="1406.27" y="1531.83" font-size="37.30" textLength="80.81" lengthAdjust="spacingAndGlyphs" >Dark</text>
<line x1="2012.30" y1="966.80" x2="2096.60" y2="966.80" stroke="#10108C" stroke-width="3.8" stroke-linecap="round"/>
<text x="2106.84" y="980.10" font-size="38.50" textLength="125.53" lengthAdjust="spacingAndGlyphs" >FeOOH</text>
<line x1="2012.30" y1="1014.00" x2="2096.60" y2="1014.00" stroke="#FF0000" stroke-width="3.8" stroke-linecap="round"/>
<text x="2105.51" y="1026.40" font-size="38.50" textLength="115.30" lengthAdjust="spacingAndGlyphs" >ZnCdS</text>
<line x1="2012.30" y1="1060.70" x2="2096.60" y2="1060.70" stroke="#079020" stroke-width="3.8" stroke-linecap="round"/>
<text x="2106.84" y="1073.20" font-size="38.50" textLength="209.20" lengthAdjust="spacingAndGlyphs" >FeOOH/ZCS</text>
</svg>
</body></html>
